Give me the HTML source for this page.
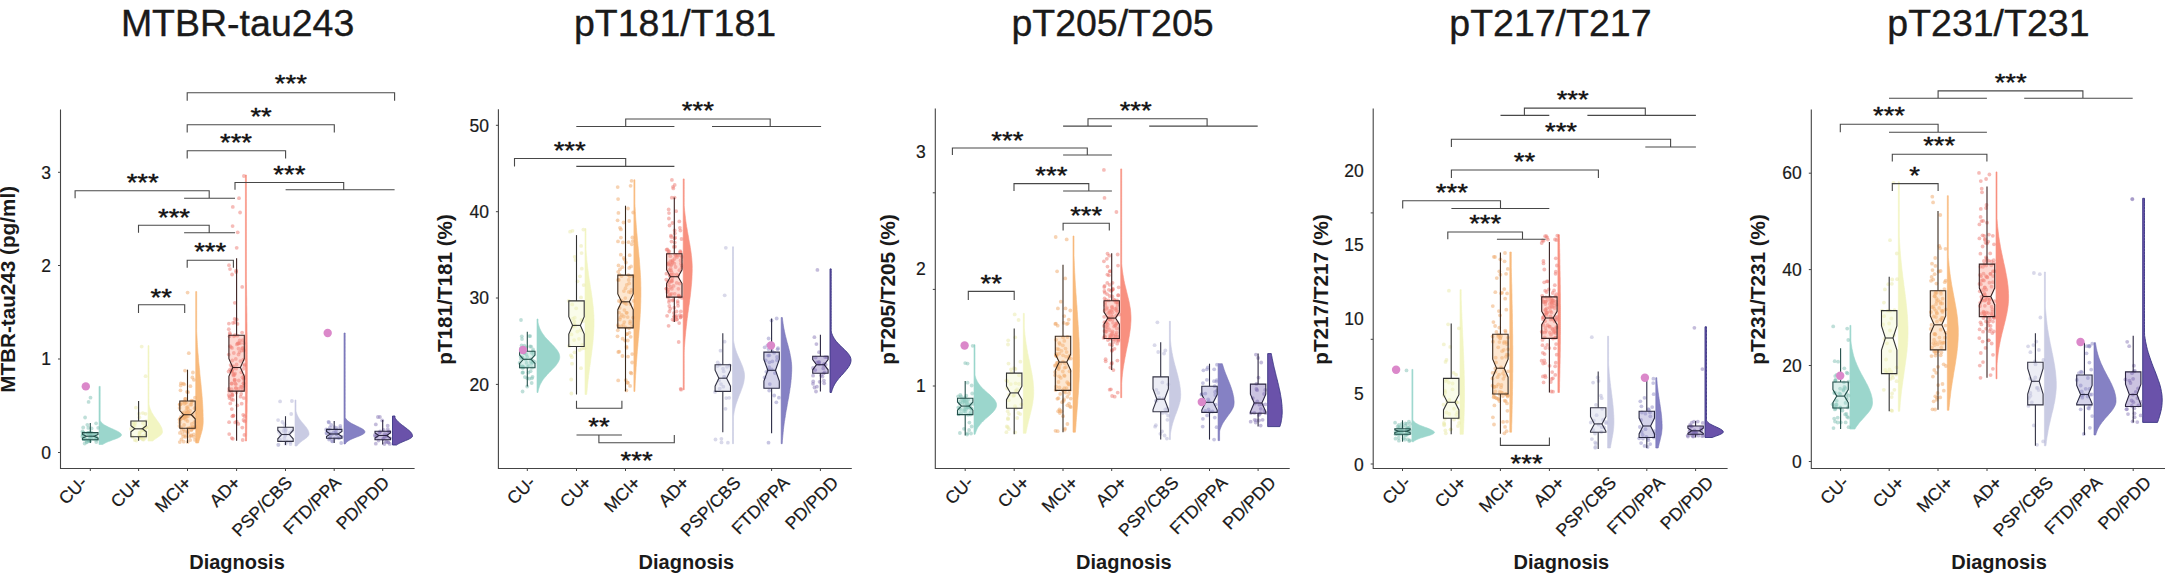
<!DOCTYPE html>
<html><head><meta charset="utf-8"><title>Tau figure</title>
<style>html,body{margin:0;padding:0;background:#fff;} svg{display:block;}</style>
</head><body>
<svg width="2165" height="573" viewBox="0 0 2165 573" font-family='"Liberation Sans", Arial, sans-serif'>
<rect width="2165" height="573" fill="#fff"/>
<text x="237.6" y="36" font-size="37.5" text-anchor="middle" fill="#1a1a1a" stroke="#1a1a1a" stroke-width="0.35">MTBR-tau243</text>
<text transform="translate(15.0,289.4) rotate(-90)" font-size="20.7" font-weight="bold" text-anchor="middle" fill="#1a1a1a">MTBR-tau243 (pg/ml)</text>
<text x="237.0" y="568.7" font-size="20" font-weight="bold" text-anchor="middle" fill="#1a1a1a">Diagnosis</text>
<path d="M60.5,109.4 L60.5,468.5 L414.6,468.5" fill="none" stroke="#444" stroke-width="1.1"/>
<line x1="58.0" y1="452.5" x2="60.5" y2="452.5" stroke="#444" stroke-width="1"/>
<line x1="58.0" y1="359.0" x2="60.5" y2="359.0" stroke="#444" stroke-width="1"/>
<line x1="58.0" y1="265.5" x2="60.5" y2="265.5" stroke="#444" stroke-width="1"/>
<line x1="58.0" y1="172.3" x2="60.5" y2="172.3" stroke="#444" stroke-width="1"/>
<text x="51.0" y="458.7" font-size="17.5" text-anchor="end" fill="#1a1a1a" stroke="#1a1a1a" stroke-width="0.2">0</text>
<text x="51.0" y="365.2" font-size="17.5" text-anchor="end" fill="#1a1a1a" stroke="#1a1a1a" stroke-width="0.2">1</text>
<text x="51.0" y="271.7" font-size="17.5" text-anchor="end" fill="#1a1a1a" stroke="#1a1a1a" stroke-width="0.2">2</text>
<text x="51.0" y="178.5" font-size="17.5" text-anchor="end" fill="#1a1a1a" stroke="#1a1a1a" stroke-width="0.2">3</text>
<line x1="90.3" y1="468.5" x2="90.3" y2="471.0" stroke="#444" stroke-width="1"/>
<text transform="translate(88.2,483.5) rotate(-45)" font-size="17.6" text-anchor="end" fill="#1a1a1a" stroke="#1a1a1a" stroke-width="0.2">CU-</text>
<line x1="138.6" y1="468.5" x2="138.6" y2="471.0" stroke="#444" stroke-width="1"/>
<text transform="translate(143.2,483.6) rotate(-45)" font-size="17.6" text-anchor="end" fill="#1a1a1a" stroke="#1a1a1a" stroke-width="0.2">CU<tspan font-size="18" dx="-0.46" dy="0.6" stroke="#1a1a1a" stroke-width="0.45">+</tspan></text>
<line x1="187.5" y1="468.5" x2="187.5" y2="471.0" stroke="#444" stroke-width="1"/>
<text transform="translate(192.1,483.6) rotate(-45)" font-size="17.6" text-anchor="end" fill="#1a1a1a" stroke="#1a1a1a" stroke-width="0.2">MCI<tspan font-size="18" dx="-0.46" dy="0.6" stroke="#1a1a1a" stroke-width="0.45">+</tspan></text>
<line x1="236.6" y1="468.5" x2="236.6" y2="471.0" stroke="#444" stroke-width="1"/>
<text transform="translate(241.2,483.6) rotate(-45)" font-size="17.6" text-anchor="end" fill="#1a1a1a" stroke="#1a1a1a" stroke-width="0.2">AD<tspan font-size="18" dx="-0.46" dy="0.6" stroke="#1a1a1a" stroke-width="0.45">+</tspan></text>
<line x1="285.5" y1="468.5" x2="285.5" y2="471.0" stroke="#444" stroke-width="1"/>
<text transform="translate(293.3,483.8) rotate(-45)" font-size="17.6" text-anchor="end" fill="#1a1a1a" stroke="#1a1a1a" stroke-width="0.2">PSP/CBS</text>
<line x1="334.2" y1="468.5" x2="334.2" y2="471.0" stroke="#444" stroke-width="1"/>
<text transform="translate(342.0,483.8) rotate(-45)" font-size="17.6" text-anchor="end" fill="#1a1a1a" stroke="#1a1a1a" stroke-width="0.2">FTD/PPA</text>
<line x1="382.7" y1="468.5" x2="382.7" y2="471.0" stroke="#444" stroke-width="1"/>
<text transform="translate(390.5,483.8) rotate(-45)" font-size="17.6" text-anchor="end" fill="#1a1a1a" stroke="#1a1a1a" stroke-width="0.2">PD/PDD</text>
<path d="M99.0,386.4 L100.2,386.4 L100.2,387.1 L100.2,387.9 L100.2,388.6 L100.2,389.3 L100.2,390.0 L100.2,390.8 L100.2,391.5 L100.2,392.2 L100.2,392.9 L100.2,393.7 L100.2,394.4 L100.2,395.1 L100.2,395.8 L100.2,396.6 L100.2,397.3 L100.2,398.0 L100.2,398.7 L100.2,399.5 L100.2,400.2 L100.2,400.9 L100.2,401.7 L100.2,402.4 L100.2,403.1 L100.2,403.8 L100.2,404.6 L100.2,405.3 L100.2,406.0 L100.2,406.7 L100.2,407.5 L100.2,408.2 L100.2,408.9 L100.2,409.6 L100.2,410.4 L100.2,411.1 L100.2,411.8 L100.2,412.5 L100.2,413.3 L100.2,414.0 L100.2,414.7 L100.2,415.4 L100.2,416.2 L100.2,416.9 L100.2,417.6 L100.2,418.4 L100.2,419.1 L100.2,419.8 L100.2,420.5 L100.6,421.3 L101.1,422.0 L101.8,422.7 L102.5,423.4 L103.4,424.2 L104.4,424.9 L105.6,425.6 L106.9,426.3 L108.4,427.1 L109.9,427.8 L111.6,428.5 L113.2,429.2 L114.8,430.0 L116.4,430.7 L117.8,431.4 L119.1,432.2 L120.1,432.9 L120.9,433.6 L121.4,434.3 L121.5,435.1 L121.2,435.8 L120.5,436.5 L119.4,437.2 L117.9,438.0 L116.1,438.7 L114.2,439.4 L112.3,440.1 L110.3,440.9 L108.4,441.6 L106.7,442.3 L105.2,443.0 L103.8,443.8 L102.7,444.5 L99.0,444.5 Z" fill="#9bd6cc" stroke="#9bd6cc" stroke-width="0.6"/>
<g fill="#7fbfb3" fill-opacity="0.5"><circle cx="87.5" cy="387.4" r="1.9"/><circle cx="84.7" cy="443.5" r="1.9"/><circle cx="90.9" cy="432.5" r="1.9"/><circle cx="90.4" cy="436.4" r="1.9"/><circle cx="83.4" cy="434.2" r="1.9"/><circle cx="95.5" cy="434.1" r="1.9"/><circle cx="92.3" cy="433.4" r="1.9"/><circle cx="88.6" cy="401.9" r="1.9"/><circle cx="96.0" cy="439.9" r="1.9"/><circle cx="84.2" cy="436.7" r="1.9"/><circle cx="85.2" cy="439.1" r="1.9"/><circle cx="88.3" cy="427.9" r="1.9"/><circle cx="83.3" cy="432.5" r="1.9"/><circle cx="89.1" cy="435.0" r="1.9"/><circle cx="89.6" cy="438.3" r="1.9"/><circle cx="93.5" cy="439.1" r="1.9"/><circle cx="90.7" cy="434.7" r="1.9"/><circle cx="86.9" cy="441.7" r="1.9"/><circle cx="89.0" cy="440.2" r="1.9"/><circle cx="90.1" cy="440.0" r="1.9"/><circle cx="94.5" cy="435.0" r="1.9"/><circle cx="87.3" cy="424.8" r="1.9"/><circle cx="91.6" cy="428.4" r="1.9"/><circle cx="97.4" cy="439.2" r="1.9"/><circle cx="83.3" cy="438.6" r="1.9"/><circle cx="98.2" cy="427.8" r="1.9"/><circle cx="88.5" cy="440.2" r="1.9"/><circle cx="89.7" cy="432.6" r="1.9"/><circle cx="83.2" cy="433.0" r="1.9"/><circle cx="86.3" cy="439.9" r="1.9"/><circle cx="83.6" cy="439.3" r="1.9"/><circle cx="96.4" cy="438.2" r="1.9"/><circle cx="86.8" cy="442.3" r="1.9"/><circle cx="96.4" cy="437.5" r="1.9"/><circle cx="85.1" cy="417.5" r="1.9"/><circle cx="90.1" cy="433.4" r="1.9"/><circle cx="82.4" cy="431.5" r="1.9"/><circle cx="91.4" cy="437.5" r="1.9"/><circle cx="90.5" cy="397.7" r="1.9"/><circle cx="83.2" cy="427.5" r="1.9"/><circle cx="96.3" cy="442.0" r="1.9"/><circle cx="88.7" cy="440.5" r="1.9"/><circle cx="83.3" cy="434.9" r="1.9"/><circle cx="84.9" cy="433.4" r="1.9"/><circle cx="82.3" cy="436.4" r="1.9"/><circle cx="88.1" cy="433.0" r="1.9"/><circle cx="92.1" cy="435.7" r="1.9"/><circle cx="87.9" cy="433.5" r="1.9"/><circle cx="95.9" cy="436.6" r="1.9"/><circle cx="90.0" cy="441.3" r="1.9"/><circle cx="87.8" cy="433.0" r="1.9"/><circle cx="84.9" cy="439.2" r="1.9"/><circle cx="90.8" cy="436.0" r="1.9"/><circle cx="82.7" cy="434.6" r="1.9"/><circle cx="96.1" cy="423.3" r="1.9"/></g>
<line x1="90.3" y1="423.0" x2="90.3" y2="432.6" stroke="#234f4a" stroke-width="1.1"/>
<line x1="90.3" y1="439.8" x2="90.3" y2="443.0" stroke="#234f4a" stroke-width="1.1"/>
<path d="M82.6,432.6 L98.0,432.6 L98.0,434.4 L94.1,436.2 L98.0,438.0 L98.0,439.8 L82.6,439.8 L82.6,438.0 L86.5,436.2 L82.6,434.4 Z" fill="#9bd6cc" fill-opacity="0.35" stroke="#234f4a" stroke-width="1.1"/>
<line x1="86.5" y1="436.2" x2="94.1" y2="436.2" stroke="#234f4a" stroke-width="1.1"/>
<circle cx="85.8" cy="386.4" r="4.2" fill="#db88ca"/>
<path d="M148.0,345.6 L149.0,345.6 L149.0,346.8 L149.0,348.0 L149.0,349.2 L149.0,350.4 L149.0,351.6 L149.0,352.8 L149.0,353.9 L149.0,355.1 L149.0,356.3 L149.0,357.5 L149.0,358.7 L149.0,359.9 L149.0,361.1 L149.0,362.3 L149.0,363.5 L149.0,364.7 L149.0,365.9 L149.0,367.1 L149.0,368.3 L149.0,369.5 L149.0,370.6 L149.0,371.8 L149.0,373.0 L149.0,374.2 L149.0,375.4 L149.0,376.6 L149.0,377.8 L149.0,379.0 L149.0,380.2 L149.0,381.4 L149.0,382.6 L149.0,383.8 L149.0,385.0 L149.0,386.1 L149.0,387.3 L149.0,388.5 L149.0,389.7 L149.0,390.9 L149.0,392.1 L149.0,393.3 L149.0,394.5 L149.0,395.7 L149.0,396.9 L149.0,398.1 L149.0,399.3 L149.0,400.5 L149.0,401.6 L149.0,402.8 L149.0,404.0 L149.2,405.2 L149.5,406.4 L149.8,407.6 L150.2,408.8 L150.7,410.0 L151.2,411.2 L151.8,412.4 L152.5,413.6 L153.2,414.8 L153.9,416.0 L154.7,417.1 L155.6,418.3 L156.5,419.5 L157.3,420.7 L158.2,421.9 L159.0,423.1 L159.8,424.3 L160.5,425.5 L161.1,426.7 L161.7,427.9 L162.1,429.1 L162.3,430.3 L162.5,431.5 L162.4,432.7 L161.8,433.8 L160.8,435.0 L159.3,436.2 L157.6,437.4 L155.9,438.6 L154.2,439.8 L152.7,441.0 L148.0,441.0 Z" fill="#f2f5c2" stroke="#f2f5c2" stroke-width="0.6"/>
<g fill="#e9e9a8" fill-opacity="0.5"><circle cx="141.7" cy="346.6" r="1.9"/><circle cx="134.8" cy="440.0" r="1.9"/><circle cx="143.0" cy="430.1" r="1.9"/><circle cx="135.9" cy="407.6" r="1.9"/><circle cx="146.4" cy="427.3" r="1.9"/><circle cx="143.7" cy="439.5" r="1.9"/><circle cx="138.9" cy="437.1" r="1.9"/><circle cx="131.0" cy="429.0" r="1.9"/><circle cx="141.7" cy="430.8" r="1.9"/><circle cx="145.6" cy="376.2" r="1.9"/><circle cx="136.4" cy="440.5" r="1.9"/><circle cx="133.7" cy="422.8" r="1.9"/><circle cx="145.0" cy="425.9" r="1.9"/><circle cx="141.0" cy="437.9" r="1.9"/><circle cx="141.2" cy="436.8" r="1.9"/><circle cx="142.6" cy="439.4" r="1.9"/><circle cx="143.2" cy="430.2" r="1.9"/><circle cx="146.1" cy="435.1" r="1.9"/><circle cx="145.7" cy="432.0" r="1.9"/><circle cx="132.6" cy="436.9" r="1.9"/><circle cx="143.5" cy="428.1" r="1.9"/><circle cx="146.3" cy="427.4" r="1.9"/><circle cx="139.4" cy="417.3" r="1.9"/><circle cx="146.1" cy="421.1" r="1.9"/><circle cx="145.5" cy="413.8" r="1.9"/><circle cx="143.8" cy="435.7" r="1.9"/><circle cx="135.3" cy="423.0" r="1.9"/><circle cx="134.7" cy="425.6" r="1.9"/><circle cx="145.2" cy="429.8" r="1.9"/><circle cx="139.9" cy="432.4" r="1.9"/><circle cx="145.3" cy="437.7" r="1.9"/><circle cx="139.0" cy="413.7" r="1.9"/><circle cx="133.5" cy="424.4" r="1.9"/><circle cx="133.4" cy="427.2" r="1.9"/><circle cx="139.5" cy="434.5" r="1.9"/><circle cx="139.5" cy="432.9" r="1.9"/><circle cx="139.6" cy="436.8" r="1.9"/><circle cx="143.0" cy="423.2" r="1.9"/><circle cx="142.8" cy="413.1" r="1.9"/><circle cx="140.4" cy="437.8" r="1.9"/></g>
<line x1="138.6" y1="401.0" x2="138.6" y2="421.0" stroke="#333" stroke-width="1.1"/>
<line x1="138.6" y1="436.7" x2="138.6" y2="440.7" stroke="#333" stroke-width="1.1"/>
<path d="M130.9,421.0 L146.3,421.0 L146.3,425.8 L142.4,428.8 L146.3,431.8 L146.3,436.7 L130.9,436.7 L130.9,431.8 L134.8,428.8 L130.9,425.8 Z" fill="#f2f5c2" fill-opacity="0.35" stroke="#333" stroke-width="1.1"/>
<line x1="134.8" y1="428.8" x2="142.4" y2="428.8" stroke="#333" stroke-width="1.1"/>
<path d="M195.7,291.6 L196.7,291.6 L196.7,293.5 L196.7,295.4 L196.7,297.3 L196.7,299.2 L196.7,301.1 L196.7,303.0 L196.7,304.8 L196.7,306.7 L196.7,308.6 L196.7,310.5 L196.7,312.4 L196.7,314.3 L196.7,316.2 L196.7,318.1 L196.7,320.0 L196.7,321.9 L196.7,323.8 L196.7,325.7 L196.7,327.6 L196.7,329.5 L196.7,331.3 L196.8,333.2 L196.9,335.1 L197.0,337.0 L197.1,338.9 L197.2,340.8 L197.3,342.7 L197.4,344.6 L197.5,346.5 L197.7,348.4 L197.8,350.3 L197.9,352.2 L198.1,354.1 L198.3,355.9 L198.4,357.8 L198.6,359.7 L198.7,361.6 L198.9,363.5 L199.1,365.4 L199.3,367.3 L199.5,369.2 L199.7,371.1 L199.8,373.0 L200.0,374.9 L200.2,376.8 L200.4,378.7 L200.6,380.5 L200.8,382.4 L201.0,384.3 L201.2,386.2 L201.3,388.1 L201.5,390.0 L201.7,391.9 L201.9,393.8 L202.0,395.7 L202.2,397.6 L202.3,399.5 L202.5,401.4 L202.6,403.3 L202.7,405.1 L202.8,407.0 L202.9,408.9 L203.0,410.8 L203.0,412.7 L203.1,414.6 L203.1,416.5 L203.2,418.4 L203.2,420.3 L203.2,422.2 L203.1,424.1 L202.9,426.0 L202.6,427.9 L202.3,429.8 L201.8,431.6 L201.3,433.5 L200.7,435.4 L200.2,437.3 L199.6,439.2 L199.0,441.1 L198.5,443.0 L195.7,443.0 Z" fill="#f8ba7c" stroke="#f8ba7c" stroke-width="0.6"/>
<g fill="#f0a868" fill-opacity="0.5"><circle cx="187.6" cy="292.6" r="1.9"/><circle cx="187.7" cy="442.0" r="1.9"/><circle cx="188.0" cy="392.2" r="1.9"/><circle cx="190.7" cy="427.4" r="1.9"/><circle cx="183.7" cy="441.7" r="1.9"/><circle cx="192.9" cy="372.5" r="1.9"/><circle cx="186.6" cy="402.7" r="1.9"/><circle cx="180.7" cy="404.3" r="1.9"/><circle cx="193.9" cy="379.8" r="1.9"/><circle cx="190.1" cy="410.8" r="1.9"/><circle cx="195.0" cy="413.1" r="1.9"/><circle cx="185.9" cy="414.0" r="1.9"/><circle cx="192.8" cy="428.1" r="1.9"/><circle cx="187.7" cy="406.9" r="1.9"/><circle cx="184.6" cy="417.3" r="1.9"/><circle cx="188.4" cy="428.2" r="1.9"/><circle cx="184.8" cy="414.9" r="1.9"/><circle cx="180.5" cy="390.3" r="1.9"/><circle cx="195.0" cy="439.9" r="1.9"/><circle cx="180.1" cy="404.6" r="1.9"/><circle cx="181.6" cy="430.0" r="1.9"/><circle cx="192.6" cy="427.0" r="1.9"/><circle cx="194.2" cy="416.7" r="1.9"/><circle cx="180.9" cy="383.3" r="1.9"/><circle cx="186.3" cy="410.4" r="1.9"/><circle cx="189.7" cy="413.9" r="1.9"/><circle cx="193.2" cy="428.5" r="1.9"/><circle cx="186.8" cy="412.8" r="1.9"/><circle cx="194.3" cy="422.2" r="1.9"/><circle cx="187.9" cy="416.4" r="1.9"/><circle cx="182.1" cy="402.5" r="1.9"/><circle cx="184.5" cy="403.8" r="1.9"/><circle cx="184.1" cy="425.0" r="1.9"/><circle cx="185.1" cy="399.0" r="1.9"/><circle cx="179.7" cy="404.4" r="1.9"/><circle cx="182.5" cy="433.9" r="1.9"/><circle cx="181.2" cy="427.3" r="1.9"/><circle cx="187.4" cy="432.1" r="1.9"/><circle cx="187.6" cy="431.5" r="1.9"/><circle cx="185.0" cy="370.6" r="1.9"/><circle cx="189.7" cy="436.7" r="1.9"/><circle cx="180.4" cy="419.4" r="1.9"/><circle cx="191.4" cy="402.0" r="1.9"/><circle cx="180.9" cy="416.9" r="1.9"/><circle cx="190.2" cy="440.1" r="1.9"/><circle cx="184.2" cy="418.0" r="1.9"/><circle cx="186.6" cy="416.8" r="1.9"/><circle cx="195.1" cy="427.7" r="1.9"/><circle cx="195.0" cy="397.7" r="1.9"/><circle cx="179.5" cy="419.5" r="1.9"/><circle cx="187.5" cy="421.1" r="1.9"/><circle cx="179.6" cy="407.9" r="1.9"/><circle cx="185.9" cy="415.9" r="1.9"/><circle cx="184.4" cy="401.3" r="1.9"/><circle cx="188.0" cy="409.0" r="1.9"/><circle cx="191.0" cy="435.8" r="1.9"/><circle cx="184.7" cy="431.5" r="1.9"/><circle cx="191.1" cy="430.4" r="1.9"/><circle cx="192.9" cy="400.8" r="1.9"/><circle cx="191.2" cy="435.2" r="1.9"/><circle cx="187.9" cy="428.8" r="1.9"/><circle cx="192.4" cy="377.5" r="1.9"/><circle cx="193.8" cy="434.5" r="1.9"/><circle cx="183.2" cy="383.6" r="1.9"/><circle cx="185.3" cy="402.8" r="1.9"/><circle cx="188.4" cy="412.5" r="1.9"/><circle cx="190.4" cy="386.2" r="1.9"/><circle cx="192.3" cy="414.7" r="1.9"/><circle cx="188.1" cy="433.1" r="1.9"/><circle cx="191.3" cy="400.6" r="1.9"/><circle cx="183.7" cy="415.7" r="1.9"/><circle cx="191.3" cy="429.4" r="1.9"/><circle cx="185.6" cy="435.5" r="1.9"/><circle cx="191.8" cy="423.9" r="1.9"/><circle cx="180.7" cy="385.6" r="1.9"/><circle cx="191.4" cy="404.5" r="1.9"/><circle cx="179.7" cy="422.4" r="1.9"/><circle cx="190.3" cy="404.7" r="1.9"/><circle cx="184.2" cy="384.3" r="1.9"/><circle cx="187.0" cy="391.8" r="1.9"/><circle cx="182.7" cy="413.2" r="1.9"/><circle cx="179.8" cy="442.1" r="1.9"/><circle cx="195.0" cy="425.8" r="1.9"/><circle cx="182.9" cy="418.3" r="1.9"/><circle cx="188.8" cy="353.2" r="1.9"/><circle cx="194.7" cy="408.2" r="1.9"/><circle cx="187.6" cy="412.2" r="1.9"/><circle cx="183.2" cy="436.6" r="1.9"/><circle cx="179.9" cy="432.9" r="1.9"/><circle cx="186.7" cy="407.7" r="1.9"/><circle cx="185.0" cy="416.6" r="1.9"/><circle cx="179.5" cy="426.0" r="1.9"/><circle cx="181.4" cy="439.4" r="1.9"/><circle cx="193.9" cy="436.8" r="1.9"/><circle cx="185.8" cy="419.7" r="1.9"/><circle cx="185.3" cy="436.9" r="1.9"/><circle cx="180.3" cy="418.4" r="1.9"/><circle cx="184.1" cy="412.4" r="1.9"/><circle cx="183.8" cy="429.8" r="1.9"/><circle cx="185.5" cy="398.8" r="1.9"/></g>
<line x1="187.5" y1="369.7" x2="187.5" y2="401.0" stroke="#3a2a1e" stroke-width="1.1"/>
<line x1="187.5" y1="428.2" x2="187.5" y2="443.0" stroke="#3a2a1e" stroke-width="1.1"/>
<path d="M179.8,401.0 L195.2,401.0 L195.2,410.6 L191.3,414.7 L195.2,418.8 L195.2,428.2 L179.8,428.2 L179.8,418.8 L183.7,414.7 L179.8,410.6 Z" fill="#f8ba7c" fill-opacity="0.35" stroke="#3a2a1e" stroke-width="1.1"/>
<line x1="183.7" y1="414.7" x2="191.3" y2="414.7" stroke="#3a2a1e" stroke-width="1.1"/>
<path d="M245.4,175.0 L246.4,175.0 L246.4,178.3 L246.4,181.7 L246.4,185.0 L246.4,188.3 L246.4,191.6 L246.4,194.9 L246.4,198.3 L246.4,201.6 L246.4,204.9 L246.4,208.2 L246.4,211.6 L246.4,214.9 L246.4,218.2 L246.4,221.6 L246.4,224.9 L246.4,228.2 L246.4,231.5 L246.4,234.8 L246.4,238.2 L246.4,241.5 L246.4,244.8 L246.4,248.2 L246.4,251.5 L246.4,254.8 L246.4,258.1 L246.4,261.4 L246.4,264.8 L246.4,268.1 L246.4,271.4 L246.4,274.8 L246.4,278.1 L246.4,281.4 L246.5,284.7 L246.5,288.1 L246.6,291.4 L246.6,294.7 L246.7,298.0 L246.7,301.4 L246.7,304.7 L246.8,308.0 L246.8,311.3 L246.9,314.6 L246.9,318.0 L246.9,321.3 L247.0,324.6 L247.0,327.9 L247.0,331.3 L247.1,334.6 L247.1,337.9 L247.1,341.2 L247.2,344.6 L247.2,347.9 L247.2,351.2 L247.2,354.6 L247.2,357.9 L247.3,361.2 L247.3,364.5 L247.3,367.9 L247.3,371.2 L247.3,374.5 L247.3,377.8 L247.3,381.1 L247.3,384.5 L247.3,387.8 L247.3,391.1 L247.2,394.4 L247.2,397.8 L247.2,401.1 L247.1,404.4 L247.1,407.8 L247.1,411.1 L247.0,414.4 L247.0,417.7 L246.9,421.1 L246.8,424.4 L246.8,427.7 L246.7,431.0 L246.7,434.4 L246.6,437.7 L246.5,441.0 L245.4,441.0 Z" fill="#f8907f" stroke="#f8907f" stroke-width="0.6"/>
<g fill="#ee7a72" fill-opacity="0.5"><circle cx="243.9" cy="176.0" r="1.9"/><circle cx="242.7" cy="440.0" r="1.9"/><circle cx="243.2" cy="414.8" r="1.9"/><circle cx="240.1" cy="212.5" r="1.9"/><circle cx="235.8" cy="358.9" r="1.9"/><circle cx="233.2" cy="415.7" r="1.9"/><circle cx="230.6" cy="365.1" r="1.9"/><circle cx="233.4" cy="375.6" r="1.9"/><circle cx="232.8" cy="438.8" r="1.9"/><circle cx="237.5" cy="323.9" r="1.9"/><circle cx="231.2" cy="371.4" r="1.9"/><circle cx="236.6" cy="364.5" r="1.9"/><circle cx="244.5" cy="364.5" r="1.9"/><circle cx="231.7" cy="370.8" r="1.9"/><circle cx="230.1" cy="346.2" r="1.9"/><circle cx="237.7" cy="343.5" r="1.9"/><circle cx="235.2" cy="422.4" r="1.9"/><circle cx="234.6" cy="379.9" r="1.9"/><circle cx="233.0" cy="369.0" r="1.9"/><circle cx="236.7" cy="247.8" r="1.9"/><circle cx="232.1" cy="274.5" r="1.9"/><circle cx="235.0" cy="373.4" r="1.9"/><circle cx="242.2" cy="390.0" r="1.9"/><circle cx="229.1" cy="391.2" r="1.9"/><circle cx="236.2" cy="270.7" r="1.9"/><circle cx="234.9" cy="335.2" r="1.9"/><circle cx="242.3" cy="427.6" r="1.9"/><circle cx="230.3" cy="403.4" r="1.9"/><circle cx="239.5" cy="352.1" r="1.9"/><circle cx="239.0" cy="198.2" r="1.9"/><circle cx="237.4" cy="405.3" r="1.9"/><circle cx="232.3" cy="360.5" r="1.9"/><circle cx="233.5" cy="415.7" r="1.9"/><circle cx="238.8" cy="343.3" r="1.9"/><circle cx="229.7" cy="332.9" r="1.9"/><circle cx="234.8" cy="302.8" r="1.9"/><circle cx="228.8" cy="354.6" r="1.9"/><circle cx="243.9" cy="378.4" r="1.9"/><circle cx="236.2" cy="272.1" r="1.9"/><circle cx="244.0" cy="343.2" r="1.9"/><circle cx="228.9" cy="323.6" r="1.9"/><circle cx="235.3" cy="383.4" r="1.9"/><circle cx="243.4" cy="383.2" r="1.9"/><circle cx="234.0" cy="336.3" r="1.9"/><circle cx="231.8" cy="383.6" r="1.9"/><circle cx="236.7" cy="421.7" r="1.9"/><circle cx="233.6" cy="366.5" r="1.9"/><circle cx="232.1" cy="395.8" r="1.9"/><circle cx="243.8" cy="398.1" r="1.9"/><circle cx="232.2" cy="371.9" r="1.9"/><circle cx="243.8" cy="383.2" r="1.9"/><circle cx="232.0" cy="347.9" r="1.9"/><circle cx="229.4" cy="398.1" r="1.9"/><circle cx="243.0" cy="347.9" r="1.9"/><circle cx="244.6" cy="421.3" r="1.9"/><circle cx="231.6" cy="399.5" r="1.9"/><circle cx="229.1" cy="422.2" r="1.9"/><circle cx="234.6" cy="318.9" r="1.9"/><circle cx="228.6" cy="371.5" r="1.9"/><circle cx="243.9" cy="375.8" r="1.9"/><circle cx="231.9" cy="366.3" r="1.9"/><circle cx="241.8" cy="386.9" r="1.9"/><circle cx="236.2" cy="368.7" r="1.9"/><circle cx="231.7" cy="389.2" r="1.9"/><circle cx="229.1" cy="388.7" r="1.9"/><circle cx="240.9" cy="386.7" r="1.9"/><circle cx="229.6" cy="336.3" r="1.9"/><circle cx="240.6" cy="396.7" r="1.9"/><circle cx="233.0" cy="399.9" r="1.9"/><circle cx="232.8" cy="206.9" r="1.9"/><circle cx="233.0" cy="323.0" r="1.9"/><circle cx="243.3" cy="359.6" r="1.9"/><circle cx="229.0" cy="265.2" r="1.9"/><circle cx="243.9" cy="350.5" r="1.9"/><circle cx="232.6" cy="226.1" r="1.9"/><circle cx="243.4" cy="379.1" r="1.9"/><circle cx="240.4" cy="361.1" r="1.9"/><circle cx="238.3" cy="423.9" r="1.9"/><circle cx="234.4" cy="375.0" r="1.9"/><circle cx="231.8" cy="392.0" r="1.9"/><circle cx="229.6" cy="396.4" r="1.9"/><circle cx="233.8" cy="353.0" r="1.9"/><circle cx="244.4" cy="434.9" r="1.9"/><circle cx="230.1" cy="369.5" r="1.9"/><circle cx="235.8" cy="384.3" r="1.9"/><circle cx="238.5" cy="348.7" r="1.9"/><circle cx="242.2" cy="286.9" r="1.9"/><circle cx="242.1" cy="332.6" r="1.9"/><circle cx="234.6" cy="380.9" r="1.9"/><circle cx="232.6" cy="394.9" r="1.9"/><circle cx="242.7" cy="340.2" r="1.9"/><circle cx="234.9" cy="322.4" r="1.9"/><circle cx="232.3" cy="416.3" r="1.9"/><circle cx="244.5" cy="416.2" r="1.9"/><circle cx="241.7" cy="350.5" r="1.9"/><circle cx="229.2" cy="434.1" r="1.9"/><circle cx="231.6" cy="370.3" r="1.9"/><circle cx="243.5" cy="420.0" r="1.9"/><circle cx="235.8" cy="387.9" r="1.9"/><circle cx="243.7" cy="385.9" r="1.9"/><circle cx="238.5" cy="354.5" r="1.9"/><circle cx="230.9" cy="347.1" r="1.9"/><circle cx="238.2" cy="343.4" r="1.9"/><circle cx="228.8" cy="329.2" r="1.9"/><circle cx="231.6" cy="383.5" r="1.9"/><circle cx="241.3" cy="372.3" r="1.9"/><circle cx="230.2" cy="334.3" r="1.9"/><circle cx="238.8" cy="380.5" r="1.9"/><circle cx="239.7" cy="340.5" r="1.9"/><circle cx="233.5" cy="374.2" r="1.9"/><circle cx="237.7" cy="232.3" r="1.9"/><circle cx="242.4" cy="377.3" r="1.9"/><circle cx="231.8" cy="409.1" r="1.9"/><circle cx="228.7" cy="395.0" r="1.9"/><circle cx="241.7" cy="403.7" r="1.9"/><circle cx="236.0" cy="388.3" r="1.9"/><circle cx="237.4" cy="335.7" r="1.9"/><circle cx="230.0" cy="269.1" r="1.9"/><circle cx="236.7" cy="319.5" r="1.9"/><circle cx="236.9" cy="344.4" r="1.9"/><circle cx="236.4" cy="392.5" r="1.9"/><circle cx="231.8" cy="438.1" r="1.9"/><circle cx="244.2" cy="365.7" r="1.9"/><circle cx="243.4" cy="368.8" r="1.9"/><circle cx="238.5" cy="388.8" r="1.9"/><circle cx="241.2" cy="393.8" r="1.9"/><circle cx="242.1" cy="348.3" r="1.9"/><circle cx="232.1" cy="394.4" r="1.9"/><circle cx="234.7" cy="379.7" r="1.9"/><circle cx="240.2" cy="343.2" r="1.9"/></g>
<line x1="236.6" y1="258.3" x2="236.6" y2="335.2" stroke="#3a2020" stroke-width="1.1"/>
<line x1="236.6" y1="391.1" x2="236.6" y2="440.7" stroke="#3a2020" stroke-width="1.1"/>
<path d="M228.9,335.2 L244.3,335.2 L244.3,358.6 L240.4,367.5 L244.3,376.4 L244.3,391.1 L228.9,391.1 L228.9,376.4 L232.8,367.5 L228.9,358.6 Z" fill="#f8907f" fill-opacity="0.35" stroke="#3a2020" stroke-width="1.1"/>
<line x1="232.8" y1="367.5" x2="240.4" y2="367.5" stroke="#3a2020" stroke-width="1.1"/>
<path d="M295.0,400.0 L296.0,400.0 L296.0,400.6 L296.0,401.1 L296.0,401.7 L296.0,402.3 L296.0,402.9 L296.0,403.4 L296.0,404.0 L296.0,404.6 L296.0,405.2 L296.0,405.8 L296.0,406.3 L296.0,406.9 L296.0,407.5 L296.0,408.1 L296.0,408.6 L296.0,409.2 L296.0,409.8 L296.0,410.4 L296.0,410.9 L296.1,411.5 L296.3,412.1 L296.4,412.6 L296.6,413.2 L296.8,413.8 L297.0,414.4 L297.3,414.9 L297.5,415.5 L297.8,416.1 L298.1,416.7 L298.4,417.2 L298.8,417.8 L299.1,418.4 L299.5,419.0 L299.9,419.6 L300.3,420.1 L300.8,420.7 L301.2,421.3 L301.7,421.9 L302.2,422.4 L302.6,423.0 L303.1,423.6 L303.6,424.1 L304.1,424.7 L304.6,425.3 L305.1,425.9 L305.5,426.4 L306.0,427.0 L306.4,427.6 L306.8,428.2 L307.2,428.8 L307.6,429.3 L307.9,429.9 L308.2,430.5 L308.4,431.1 L308.6,431.6 L308.8,432.2 L308.9,432.8 L309.0,433.4 L309.0,433.9 L309.0,434.5 L308.8,435.1 L308.5,435.6 L308.1,436.2 L307.6,436.8 L307.0,437.4 L306.3,437.9 L305.5,438.5 L304.8,439.1 L304.0,439.7 L303.1,440.2 L302.3,440.8 L301.5,441.4 L300.8,442.0 L300.1,442.6 L299.4,443.1 L298.8,443.7 L298.2,444.3 L297.7,444.9 L297.3,445.4 L296.9,446.0 L295.0,446.0 Z" fill="#c9cbe3" stroke="#c9cbe3" stroke-width="0.6"/>
<g fill="#b4b4d6" fill-opacity="0.5"><circle cx="291.9" cy="401.0" r="1.9"/><circle cx="278.2" cy="445.0" r="1.9"/><circle cx="278.1" cy="420.1" r="1.9"/><circle cx="287.1" cy="441.5" r="1.9"/><circle cx="282.4" cy="422.0" r="1.9"/><circle cx="284.3" cy="438.5" r="1.9"/><circle cx="284.5" cy="424.2" r="1.9"/><circle cx="285.3" cy="431.7" r="1.9"/><circle cx="290.0" cy="432.8" r="1.9"/><circle cx="285.1" cy="435.7" r="1.9"/><circle cx="284.4" cy="428.1" r="1.9"/><circle cx="285.7" cy="430.4" r="1.9"/><circle cx="278.8" cy="431.8" r="1.9"/><circle cx="285.7" cy="443.8" r="1.9"/><circle cx="283.5" cy="430.9" r="1.9"/><circle cx="291.2" cy="414.0" r="1.9"/><circle cx="290.5" cy="444.0" r="1.9"/><circle cx="285.4" cy="434.4" r="1.9"/><circle cx="280.1" cy="401.4" r="1.9"/><circle cx="278.5" cy="444.6" r="1.9"/><circle cx="280.0" cy="439.7" r="1.9"/><circle cx="290.6" cy="441.9" r="1.9"/><circle cx="292.2" cy="430.9" r="1.9"/><circle cx="285.6" cy="429.1" r="1.9"/><circle cx="280.4" cy="434.8" r="1.9"/></g>
<line x1="285.5" y1="416.2" x2="285.5" y2="427.2" stroke="#333344" stroke-width="1.1"/>
<line x1="285.5" y1="441.4" x2="285.5" y2="445.0" stroke="#333344" stroke-width="1.1"/>
<path d="M277.8,427.2 L293.2,427.2 L293.2,430.2 L289.4,434.5 L293.2,438.8 L293.2,441.4 L277.8,441.4 L277.8,438.8 L281.6,434.5 L277.8,430.2 Z" fill="#c9cbe3" fill-opacity="0.35" stroke="#333344" stroke-width="1.1"/>
<line x1="281.6" y1="434.5" x2="289.4" y2="434.5" stroke="#333344" stroke-width="1.1"/>
<path d="M344.0,333.0 L345.2,333.0 L345.2,334.4 L345.2,335.8 L345.2,337.2 L345.2,338.6 L345.2,339.9 L345.2,341.3 L345.2,342.7 L345.2,344.1 L345.2,345.5 L345.2,346.9 L345.2,348.3 L345.2,349.6 L345.2,351.0 L345.2,352.4 L345.2,353.8 L345.2,355.2 L345.2,356.6 L345.2,358.0 L345.2,359.4 L345.2,360.8 L345.2,362.1 L345.2,363.5 L345.2,364.9 L345.2,366.3 L345.2,367.7 L345.2,369.1 L345.2,370.5 L345.2,371.9 L345.2,373.2 L345.2,374.6 L345.2,376.0 L345.2,377.4 L345.2,378.8 L345.2,380.2 L345.2,381.6 L345.2,382.9 L345.2,384.3 L345.2,385.7 L345.2,387.1 L345.2,388.5 L345.2,389.9 L345.2,391.3 L345.2,392.7 L345.2,394.1 L345.2,395.4 L345.2,396.8 L345.2,398.2 L345.2,399.6 L345.2,401.0 L345.2,402.4 L345.2,403.8 L345.2,405.1 L345.2,406.5 L345.2,407.9 L345.2,409.3 L345.2,410.7 L345.2,412.1 L345.2,413.5 L345.2,414.9 L345.2,416.2 L345.2,417.6 L346.0,419.0 L347.3,420.4 L349.0,421.8 L351.1,423.2 L353.8,424.6 L356.7,426.0 L359.6,427.4 L362.1,428.7 L364.0,430.1 L364.9,431.5 L364.7,432.9 L362.9,434.3 L360.0,435.7 L356.6,437.1 L353.1,438.4 L350.1,439.8 L347.8,441.2 L346.2,442.6 L345.2,444.0 L344.0,444.0 Z" fill="#8581c4" stroke="#7470b4" stroke-width="0.6"/>
<g fill="#8f8cc6" fill-opacity="0.5"><circle cx="328.8" cy="334.0" r="1.9"/><circle cx="341.2" cy="443.0" r="1.9"/><circle cx="328.9" cy="422.4" r="1.9"/><circle cx="334.7" cy="438.4" r="1.9"/><circle cx="340.2" cy="427.8" r="1.9"/><circle cx="340.3" cy="425.9" r="1.9"/><circle cx="336.3" cy="434.0" r="1.9"/><circle cx="330.4" cy="437.4" r="1.9"/><circle cx="332.0" cy="441.0" r="1.9"/><circle cx="329.0" cy="439.5" r="1.9"/><circle cx="339.3" cy="438.2" r="1.9"/><circle cx="341.9" cy="436.7" r="1.9"/><circle cx="331.2" cy="425.0" r="1.9"/><circle cx="328.6" cy="429.6" r="1.9"/><circle cx="334.4" cy="427.2" r="1.9"/><circle cx="329.8" cy="438.4" r="1.9"/><circle cx="326.2" cy="429.4" r="1.9"/><circle cx="331.9" cy="434.4" r="1.9"/><circle cx="335.6" cy="432.1" r="1.9"/><circle cx="333.8" cy="432.3" r="1.9"/><circle cx="330.1" cy="433.7" r="1.9"/><circle cx="336.4" cy="429.8" r="1.9"/><circle cx="332.6" cy="441.4" r="1.9"/><circle cx="336.5" cy="434.0" r="1.9"/><circle cx="336.5" cy="427.8" r="1.9"/><circle cx="337.9" cy="437.9" r="1.9"/><circle cx="326.9" cy="433.6" r="1.9"/><circle cx="330.0" cy="427.4" r="1.9"/><circle cx="326.4" cy="433.0" r="1.9"/><circle cx="328.5" cy="421.8" r="1.9"/></g>
<line x1="334.2" y1="421.0" x2="334.2" y2="429.4" stroke="#2a2a44" stroke-width="1.1"/>
<line x1="334.2" y1="438.2" x2="334.2" y2="443.0" stroke="#2a2a44" stroke-width="1.1"/>
<path d="M326.5,429.4 L341.9,429.4 L341.9,431.4 L338.1,434.0 L341.9,436.6 L341.9,438.2 L326.5,438.2 L326.5,436.6 L330.3,434.0 L326.5,431.4 Z" fill="#8581c4" fill-opacity="0.35" stroke="#2a2a44" stroke-width="1.1"/>
<line x1="330.3" y1="434.0" x2="338.1" y2="434.0" stroke="#2a2a44" stroke-width="1.1"/>
<circle cx="327.7" cy="333.0" r="4.2" fill="#db88ca"/>
<path d="M392.5,416.0 L395.0,416.0 L395.0,416.4 L395.0,416.7 L395.0,417.1 L395.0,417.4 L395.1,417.8 L395.3,418.2 L395.5,418.5 L395.8,418.9 L396.0,419.3 L396.3,419.6 L396.6,420.0 L396.9,420.4 L397.2,420.7 L397.6,421.1 L397.9,421.4 L398.3,421.8 L398.6,422.2 L399.0,422.5 L399.4,422.9 L399.8,423.2 L400.3,423.6 L400.7,424.0 L401.1,424.3 L401.6,424.7 L402.1,425.1 L402.5,425.4 L403.0,425.8 L403.5,426.1 L404.0,426.5 L404.5,426.9 L405.0,427.2 L405.4,427.6 L405.9,428.0 L406.4,428.3 L406.9,428.7 L407.3,429.1 L407.8,429.4 L408.2,429.8 L408.7,430.1 L409.1,430.5 L409.5,430.9 L409.9,431.2 L410.2,431.6 L410.6,431.9 L410.9,432.3 L411.2,432.7 L411.4,433.0 L411.7,433.4 L411.9,433.8 L412.1,434.1 L412.2,434.5 L412.3,434.9 L412.4,435.2 L412.5,435.6 L412.5,435.9 L412.5,436.3 L412.3,436.7 L412.1,437.0 L411.7,437.4 L411.3,437.8 L410.8,438.1 L410.2,438.5 L409.5,438.8 L408.8,439.2 L408.0,439.6 L407.2,439.9 L406.3,440.3 L405.5,440.6 L404.6,441.0 L403.7,441.4 L402.9,441.7 L402.0,442.1 L401.2,442.5 L400.4,442.8 L399.6,443.2 L398.9,443.6 L398.2,443.9 L397.6,444.3 L397.0,444.6 L396.5,445.0 L392.5,445.0 Z" fill="#6a52aa" stroke="#3a3683" stroke-width="0.9"/>
<g fill="#8a7ab8" fill-opacity="0.5"><circle cx="377.9" cy="417.0" r="1.9"/><circle cx="384.4" cy="444.0" r="1.9"/><circle cx="387.7" cy="425.7" r="1.9"/><circle cx="379.5" cy="432.6" r="1.9"/><circle cx="387.2" cy="435.0" r="1.9"/><circle cx="388.2" cy="431.3" r="1.9"/><circle cx="386.6" cy="441.2" r="1.9"/><circle cx="376.4" cy="436.5" r="1.9"/><circle cx="380.1" cy="431.5" r="1.9"/><circle cx="388.2" cy="442.4" r="1.9"/><circle cx="383.6" cy="429.9" r="1.9"/><circle cx="383.1" cy="438.9" r="1.9"/><circle cx="390.1" cy="438.3" r="1.9"/><circle cx="374.9" cy="435.0" r="1.9"/><circle cx="386.6" cy="436.5" r="1.9"/><circle cx="379.9" cy="417.0" r="1.9"/><circle cx="378.5" cy="440.6" r="1.9"/><circle cx="385.8" cy="442.0" r="1.9"/><circle cx="382.2" cy="420.4" r="1.9"/><circle cx="388.4" cy="442.4" r="1.9"/><circle cx="383.8" cy="438.6" r="1.9"/><circle cx="384.7" cy="436.4" r="1.9"/><circle cx="377.0" cy="435.1" r="1.9"/><circle cx="389.6" cy="431.7" r="1.9"/><circle cx="375.2" cy="436.1" r="1.9"/><circle cx="384.8" cy="434.2" r="1.9"/><circle cx="375.8" cy="424.4" r="1.9"/><circle cx="387.8" cy="429.1" r="1.9"/><circle cx="375.8" cy="443.7" r="1.9"/><circle cx="389.8" cy="443.9" r="1.9"/></g>
<line x1="382.7" y1="420.0" x2="382.7" y2="431.3" stroke="#2a2440" stroke-width="1.1"/>
<line x1="382.7" y1="439.8" x2="382.7" y2="444.5" stroke="#2a2440" stroke-width="1.1"/>
<path d="M375.0,431.3 L390.4,431.3 L390.4,432.9 L386.6,435.5 L390.4,438.1 L390.4,439.8 L375.0,439.8 L375.0,438.1 L378.8,435.5 L375.0,432.9 Z" fill="#6a52aa" fill-opacity="0.35" stroke="#2a2440" stroke-width="1.1"/>
<line x1="378.8" y1="435.5" x2="386.6" y2="435.5" stroke="#2a2440" stroke-width="1.1"/>
<path d="M187.2,100.8 L187.2,92.7 L394.6,92.7 L394.6,100.8" fill="none" stroke="#484848" stroke-width="1.1"/>
<text transform="translate(290.9,79.6) scale(1,0.85)" x="0" y="15.0" font-size="27.5" stroke="#111" stroke-width="0.45" text-anchor="middle" fill="#111">***</text>
<path d="M187.2,132.4 L187.2,124.7 L334.3,124.7 L334.3,132.4" fill="none" stroke="#484848" stroke-width="1.1"/>
<text transform="translate(261.1,111.8) scale(1,0.85)" x="0" y="15.0" font-size="27.5" stroke="#111" stroke-width="0.45" text-anchor="middle" fill="#111">**</text>
<path d="M187.2,158.4 L187.2,150.8 L285.6,150.8 L285.6,158.4" fill="none" stroke="#484848" stroke-width="1.1"/>
<text transform="translate(236.0,137.9) scale(1,0.85)" x="0" y="15.0" font-size="27.5" stroke="#111" stroke-width="0.45" text-anchor="middle" fill="#111">***</text>
<path d="M235.0,189.8 L235.0,182.5 L343.7,182.5 L343.7,189.8 M285.6,189.8 L394.6,189.8" fill="none" stroke="#484848" stroke-width="1.1"/>
<text transform="translate(289.3,170.0) scale(1,0.85)" x="0" y="15.0" font-size="27.5" stroke="#111" stroke-width="0.45" text-anchor="middle" fill="#111">***</text>
<path d="M75.1,198.2 L75.1,190.7 L209.2,190.7 L209.2,198.2 M184.1,198.2 L235.0,198.2" fill="none" stroke="#484848" stroke-width="1.1"/>
<text transform="translate(142.7,178.4) scale(1,0.85)" x="0" y="15.0" font-size="27.5" stroke="#111" stroke-width="0.45" text-anchor="middle" fill="#111">***</text>
<path d="M138.5,232.8 L138.5,225.3 L209.2,225.3 L209.2,232.8 M184.1,232.8 L235.0,232.8" fill="none" stroke="#484848" stroke-width="1.1"/>
<text transform="translate(174.0,213.0) scale(1,0.85)" x="0" y="15.0" font-size="27.5" stroke="#111" stroke-width="0.45" text-anchor="middle" fill="#111">***</text>
<path d="M187.2,267.8 L187.2,260.2 L233.4,260.2 L233.4,267.8" fill="none" stroke="#484848" stroke-width="1.1"/>
<text transform="translate(210.2,247.6) scale(1,0.85)" x="0" y="15.0" font-size="27.5" stroke="#111" stroke-width="0.45" text-anchor="middle" fill="#111">***</text>
<path d="M138.5,313.0 L138.5,304.8 L184.7,304.8 L184.7,313.0" fill="none" stroke="#484848" stroke-width="1.1"/>
<text transform="translate(161.2,292.9) scale(1,0.85)" x="0" y="15.0" font-size="27.5" stroke="#111" stroke-width="0.45" text-anchor="middle" fill="#111">**</text>
<text x="675.1" y="36" font-size="37.5" text-anchor="middle" fill="#1a1a1a" stroke="#1a1a1a" stroke-width="0.35">pT181/T181</text>
<text transform="translate(452.3,289.4) rotate(-90)" font-size="20.7" font-weight="bold" text-anchor="middle" fill="#1a1a1a">pT181/T181 (%)</text>
<text x="686.4" y="568.7" font-size="20" font-weight="bold" text-anchor="middle" fill="#1a1a1a">Diagnosis</text>
<path d="M498.4,109.2 L498.4,468.5 L851.8,468.5" fill="none" stroke="#444" stroke-width="1.1"/>
<line x1="495.9" y1="384.4" x2="498.4" y2="384.4" stroke="#444" stroke-width="1"/>
<line x1="495.9" y1="298.0" x2="498.4" y2="298.0" stroke="#444" stroke-width="1"/>
<line x1="495.9" y1="211.7" x2="498.4" y2="211.7" stroke="#444" stroke-width="1"/>
<line x1="495.9" y1="125.3" x2="498.4" y2="125.3" stroke="#444" stroke-width="1"/>
<text x="488.9" y="390.6" font-size="17.5" text-anchor="end" fill="#1a1a1a" stroke="#1a1a1a" stroke-width="0.2">20</text>
<text x="488.9" y="304.2" font-size="17.5" text-anchor="end" fill="#1a1a1a" stroke="#1a1a1a" stroke-width="0.2">30</text>
<text x="488.9" y="217.9" font-size="17.5" text-anchor="end" fill="#1a1a1a" stroke="#1a1a1a" stroke-width="0.2">40</text>
<text x="488.9" y="131.5" font-size="17.5" text-anchor="end" fill="#1a1a1a" stroke="#1a1a1a" stroke-width="0.2">50</text>
<line x1="527.3" y1="468.5" x2="527.3" y2="471.0" stroke="#444" stroke-width="1"/>
<text transform="translate(536.4,483.5) rotate(-45)" font-size="17.6" text-anchor="end" fill="#1a1a1a" stroke="#1a1a1a" stroke-width="0.2">CU-</text>
<line x1="576.5" y1="468.5" x2="576.5" y2="471.0" stroke="#444" stroke-width="1"/>
<text transform="translate(592.3,483.6) rotate(-45)" font-size="17.6" text-anchor="end" fill="#1a1a1a" stroke="#1a1a1a" stroke-width="0.2">CU<tspan font-size="18" dx="-0.46" dy="0.6" stroke="#1a1a1a" stroke-width="0.45">+</tspan></text>
<line x1="625.5" y1="468.5" x2="625.5" y2="471.0" stroke="#444" stroke-width="1"/>
<text transform="translate(641.3,483.6) rotate(-45)" font-size="17.6" text-anchor="end" fill="#1a1a1a" stroke="#1a1a1a" stroke-width="0.2">MCI<tspan font-size="18" dx="-0.46" dy="0.6" stroke="#1a1a1a" stroke-width="0.45">+</tspan></text>
<line x1="674.3" y1="468.5" x2="674.3" y2="471.0" stroke="#444" stroke-width="1"/>
<text transform="translate(690.1,483.6) rotate(-45)" font-size="17.6" text-anchor="end" fill="#1a1a1a" stroke="#1a1a1a" stroke-width="0.2">AD<tspan font-size="18" dx="-0.46" dy="0.6" stroke="#1a1a1a" stroke-width="0.45">+</tspan></text>
<line x1="722.8" y1="468.5" x2="722.8" y2="471.0" stroke="#444" stroke-width="1"/>
<text transform="translate(741.8,483.8) rotate(-45)" font-size="17.6" text-anchor="end" fill="#1a1a1a" stroke="#1a1a1a" stroke-width="0.2">PSP/CBS</text>
<line x1="771.6" y1="468.5" x2="771.6" y2="471.0" stroke="#444" stroke-width="1"/>
<text transform="translate(790.6,483.8) rotate(-45)" font-size="17.6" text-anchor="end" fill="#1a1a1a" stroke="#1a1a1a" stroke-width="0.2">FTD/PPA</text>
<line x1="820.4" y1="468.5" x2="820.4" y2="471.0" stroke="#444" stroke-width="1"/>
<text transform="translate(839.4,483.8) rotate(-45)" font-size="17.6" text-anchor="end" fill="#1a1a1a" stroke="#1a1a1a" stroke-width="0.2">PD/PDD</text>
<path d="M537.0,319.0 L538.0,319.0 L538.0,319.9 L538.0,320.8 L538.0,321.8 L538.1,322.7 L538.3,323.6 L538.5,324.5 L538.8,325.4 L539.1,326.4 L539.4,327.3 L539.7,328.2 L540.1,329.1 L540.5,330.0 L541.0,330.9 L541.5,331.9 L542.1,332.8 L542.7,333.7 L543.3,334.6 L544.0,335.5 L544.7,336.5 L545.5,337.4 L546.3,338.3 L547.1,339.2 L548.0,340.1 L548.9,341.1 L549.8,342.0 L550.7,342.9 L551.6,343.8 L552.5,344.7 L553.3,345.6 L554.2,346.6 L555.0,347.5 L555.8,348.4 L556.5,349.3 L557.2,350.2 L557.8,351.2 L558.3,352.1 L558.8,353.0 L559.2,353.9 L559.4,354.8 L559.6,355.8 L559.7,356.7 L559.7,357.6 L559.6,358.5 L559.4,359.4 L559.1,360.3 L558.7,361.3 L558.2,362.2 L557.6,363.1 L557.0,364.0 L556.3,364.9 L555.6,365.9 L554.8,366.8 L554.0,367.7 L553.1,368.6 L552.2,369.5 L551.3,370.4 L550.4,371.4 L549.5,372.3 L548.6,373.2 L547.7,374.1 L546.9,375.0 L546.1,376.0 L545.3,376.9 L544.5,377.8 L543.8,378.7 L543.1,379.6 L542.5,380.6 L541.9,381.5 L541.4,382.4 L540.9,383.3 L540.4,384.2 L540.0,385.1 L539.6,386.1 L539.3,387.0 L539.0,387.9 L538.7,388.8 L538.5,389.7 L538.3,390.7 L538.1,391.6 L538.0,392.5 L537.0,392.5 Z" fill="#9bd6cc" stroke="#9bd6cc" stroke-width="0.6"/>
<g fill="#7fbfb3" fill-opacity="0.5"><circle cx="521.0" cy="320.0" r="1.9"/><circle cx="522.6" cy="391.5" r="1.9"/><circle cx="532.9" cy="351.5" r="1.9"/><circle cx="532.5" cy="376.8" r="1.9"/><circle cx="520.9" cy="348.5" r="1.9"/><circle cx="522.6" cy="357.3" r="1.9"/><circle cx="519.6" cy="362.9" r="1.9"/><circle cx="530.8" cy="361.7" r="1.9"/><circle cx="534.7" cy="362.0" r="1.9"/><circle cx="529.2" cy="336.1" r="1.9"/><circle cx="526.3" cy="354.5" r="1.9"/><circle cx="530.6" cy="371.2" r="1.9"/><circle cx="533.1" cy="349.5" r="1.9"/><circle cx="522.0" cy="357.8" r="1.9"/><circle cx="531.5" cy="352.8" r="1.9"/><circle cx="527.2" cy="386.5" r="1.9"/><circle cx="522.3" cy="366.1" r="1.9"/><circle cx="532.6" cy="362.3" r="1.9"/><circle cx="523.8" cy="367.3" r="1.9"/><circle cx="527.3" cy="356.9" r="1.9"/><circle cx="520.6" cy="356.4" r="1.9"/><circle cx="531.9" cy="378.3" r="1.9"/><circle cx="525.7" cy="347.5" r="1.9"/><circle cx="520.7" cy="366.9" r="1.9"/><circle cx="522.6" cy="367.9" r="1.9"/><circle cx="527.3" cy="367.0" r="1.9"/><circle cx="523.0" cy="366.8" r="1.9"/><circle cx="531.4" cy="363.8" r="1.9"/><circle cx="524.9" cy="377.1" r="1.9"/><circle cx="532.8" cy="360.6" r="1.9"/><circle cx="522.0" cy="339.1" r="1.9"/><circle cx="528.6" cy="365.9" r="1.9"/><circle cx="533.5" cy="354.9" r="1.9"/><circle cx="524.1" cy="352.8" r="1.9"/><circle cx="521.8" cy="336.3" r="1.9"/><circle cx="524.5" cy="353.2" r="1.9"/><circle cx="524.5" cy="350.2" r="1.9"/><circle cx="531.0" cy="359.1" r="1.9"/><circle cx="520.9" cy="359.0" r="1.9"/><circle cx="532.0" cy="367.7" r="1.9"/><circle cx="522.4" cy="372.7" r="1.9"/><circle cx="522.6" cy="350.7" r="1.9"/><circle cx="525.7" cy="359.6" r="1.9"/><circle cx="527.3" cy="378.2" r="1.9"/><circle cx="521.6" cy="345.5" r="1.9"/><circle cx="531.2" cy="346.6" r="1.9"/><circle cx="528.5" cy="372.6" r="1.9"/><circle cx="523.0" cy="372.5" r="1.9"/><circle cx="531.7" cy="383.0" r="1.9"/><circle cx="530.2" cy="336.1" r="1.9"/><circle cx="524.3" cy="345.7" r="1.9"/><circle cx="526.0" cy="350.7" r="1.9"/><circle cx="529.4" cy="378.7" r="1.9"/><circle cx="526.6" cy="362.9" r="1.9"/><circle cx="530.1" cy="346.5" r="1.9"/></g>
<line x1="527.3" y1="331.7" x2="527.3" y2="351.2" stroke="#234f4a" stroke-width="1.1"/>
<line x1="527.3" y1="367.8" x2="527.3" y2="386.5" stroke="#234f4a" stroke-width="1.1"/>
<path d="M519.6,351.2 L535.0,351.2 L535.0,355.1 L531.1,359.3 L535.0,363.5 L535.0,367.8 L519.6,367.8 L519.6,363.5 L523.4,359.3 L519.6,355.1 Z" fill="#9bd6cc" fill-opacity="0.35" stroke="#234f4a" stroke-width="1.1"/>
<line x1="523.4" y1="359.3" x2="531.1" y2="359.3" stroke="#234f4a" stroke-width="1.1"/>
<circle cx="523.0" cy="350.0" r="4.2" fill="#db88ca"/>
<path d="M585.0,228.6 L586.0,228.6 L586.0,230.7 L586.0,232.7 L586.0,234.8 L586.0,236.9 L586.0,239.0 L586.0,241.0 L586.0,243.1 L586.0,245.2 L586.0,247.3 L586.0,249.3 L586.2,251.4 L586.3,253.5 L586.5,255.6 L586.7,257.6 L586.8,259.7 L587.0,261.8 L587.3,263.9 L587.5,265.9 L587.7,268.0 L588.0,270.1 L588.3,272.1 L588.5,274.2 L588.8,276.3 L589.1,278.4 L589.4,280.4 L589.8,282.5 L590.1,284.6 L590.4,286.7 L590.7,288.7 L591.1,290.8 L591.4,292.9 L591.7,295.0 L592.0,297.0 L592.3,299.1 L592.5,301.2 L592.8,303.3 L593.0,305.3 L593.3,307.4 L593.4,309.5 L593.6,311.6 L593.7,313.6 L593.9,315.7 L593.9,317.8 L594.0,319.8 L594.0,321.9 L594.0,324.0 L594.0,326.1 L593.9,328.1 L593.8,330.2 L593.7,332.3 L593.6,334.4 L593.4,336.4 L593.3,338.5 L593.1,340.6 L592.9,342.7 L592.7,344.7 L592.4,346.8 L592.2,348.9 L591.9,351.0 L591.7,353.0 L591.4,355.1 L591.1,357.2 L590.8,359.2 L590.6,361.3 L590.3,363.4 L590.0,365.5 L589.7,367.5 L589.4,369.6 L589.2,371.7 L588.9,373.8 L588.6,375.8 L588.4,377.9 L588.1,380.0 L587.9,382.1 L587.7,384.1 L587.5,386.2 L587.3,388.3 L587.1,390.4 L586.9,392.4 L586.7,394.5 L585.0,394.5 Z" fill="#f2f5c2" stroke="#f2f5c2" stroke-width="0.6"/>
<g fill="#e9e9a8" fill-opacity="0.5"><circle cx="583.4" cy="229.6" r="1.9"/><circle cx="571.4" cy="393.5" r="1.9"/><circle cx="574.7" cy="256.8" r="1.9"/><circle cx="569.1" cy="346.0" r="1.9"/><circle cx="581.0" cy="297.4" r="1.9"/><circle cx="570.1" cy="231.7" r="1.9"/><circle cx="580.0" cy="276.3" r="1.9"/><circle cx="581.8" cy="268.7" r="1.9"/><circle cx="583.7" cy="285.1" r="1.9"/><circle cx="574.8" cy="317.7" r="1.9"/><circle cx="584.3" cy="348.2" r="1.9"/><circle cx="572.9" cy="326.6" r="1.9"/><circle cx="575.2" cy="325.7" r="1.9"/><circle cx="574.1" cy="340.1" r="1.9"/><circle cx="580.4" cy="330.1" r="1.9"/><circle cx="572.0" cy="363.7" r="1.9"/><circle cx="571.9" cy="357.2" r="1.9"/><circle cx="581.5" cy="319.9" r="1.9"/><circle cx="577.5" cy="281.3" r="1.9"/><circle cx="574.2" cy="324.5" r="1.9"/><circle cx="581.6" cy="253.1" r="1.9"/><circle cx="577.3" cy="331.6" r="1.9"/><circle cx="574.2" cy="321.3" r="1.9"/><circle cx="574.5" cy="352.3" r="1.9"/><circle cx="571.5" cy="334.4" r="1.9"/><circle cx="573.0" cy="318.6" r="1.9"/><circle cx="576.2" cy="308.3" r="1.9"/><circle cx="579.0" cy="338.8" r="1.9"/><circle cx="582.2" cy="345.0" r="1.9"/><circle cx="583.0" cy="321.2" r="1.9"/><circle cx="581.8" cy="348.6" r="1.9"/><circle cx="568.7" cy="300.8" r="1.9"/><circle cx="572.5" cy="230.8" r="1.9"/><circle cx="572.2" cy="304.4" r="1.9"/><circle cx="570.9" cy="355.3" r="1.9"/><circle cx="571.2" cy="379.5" r="1.9"/><circle cx="581.0" cy="368.2" r="1.9"/><circle cx="581.1" cy="245.9" r="1.9"/><circle cx="579.6" cy="350.1" r="1.9"/><circle cx="575.5" cy="260.1" r="1.9"/></g>
<line x1="576.5" y1="235.1" x2="576.5" y2="300.9" stroke="#333" stroke-width="1.1"/>
<line x1="576.5" y1="346.5" x2="576.5" y2="394.5" stroke="#333" stroke-width="1.1"/>
<path d="M568.8,300.9 L584.2,300.9 L584.2,316.7 L580.4,325.4 L584.2,334.1 L584.2,346.5 L568.8,346.5 L568.8,334.1 L572.6,325.4 L568.8,316.7 Z" fill="#f2f5c2" fill-opacity="0.35" stroke="#333" stroke-width="1.1"/>
<line x1="572.6" y1="325.4" x2="580.4" y2="325.4" stroke="#333" stroke-width="1.1"/>
<path d="M633.9,179.8 L634.9,179.8 L634.9,182.4 L634.9,185.1 L634.9,187.7 L634.9,190.4 L634.9,193.0 L634.9,195.7 L634.9,198.3 L634.9,201.0 L634.9,203.6 L635.0,206.2 L635.2,208.9 L635.3,211.5 L635.5,214.2 L635.6,216.8 L635.8,219.5 L636.0,222.1 L636.2,224.8 L636.4,227.4 L636.6,230.1 L636.8,232.7 L637.1,235.3 L637.3,238.0 L637.5,240.6 L637.8,243.3 L638.0,245.9 L638.3,248.6 L638.5,251.2 L638.8,253.9 L639.0,256.5 L639.3,259.1 L639.5,261.8 L639.7,264.4 L639.9,267.1 L640.1,269.7 L640.3,272.4 L640.4,275.0 L640.6,277.7 L640.7,280.3 L640.8,283.0 L640.8,285.6 L640.9,288.2 L640.9,290.9 L640.9,293.5 L640.9,296.2 L640.8,298.8 L640.8,301.5 L640.7,304.1 L640.6,306.8 L640.5,309.4 L640.4,312.0 L640.2,314.7 L640.1,317.3 L639.9,320.0 L639.7,322.6 L639.5,325.3 L639.3,327.9 L639.1,330.6 L638.9,333.2 L638.7,335.9 L638.4,338.5 L638.2,341.1 L638.0,343.8 L637.8,346.4 L637.5,349.1 L637.3,351.7 L637.1,354.4 L636.9,357.0 L636.7,359.7 L636.5,362.3 L636.3,364.9 L636.1,367.6 L636.0,370.2 L635.8,372.9 L635.6,375.5 L635.5,378.2 L635.3,380.8 L635.2,383.5 L635.1,386.1 L635.0,388.8 L634.9,391.4 L633.9,391.4 Z" fill="#f8ba7c" stroke="#f8ba7c" stroke-width="0.6"/>
<g fill="#f0a868" fill-opacity="0.5"><circle cx="631.6" cy="180.8" r="1.9"/><circle cx="626.4" cy="390.4" r="1.9"/><circle cx="619.7" cy="307.9" r="1.9"/><circle cx="625.0" cy="303.3" r="1.9"/><circle cx="625.5" cy="288.2" r="1.9"/><circle cx="617.6" cy="220.3" r="1.9"/><circle cx="626.5" cy="346.7" r="1.9"/><circle cx="623.5" cy="222.5" r="1.9"/><circle cx="618.7" cy="326.9" r="1.9"/><circle cx="618.0" cy="241.4" r="1.9"/><circle cx="632.4" cy="237.4" r="1.9"/><circle cx="625.7" cy="327.4" r="1.9"/><circle cx="618.0" cy="325.2" r="1.9"/><circle cx="622.9" cy="242.4" r="1.9"/><circle cx="625.1" cy="340.6" r="1.9"/><circle cx="620.9" cy="229.4" r="1.9"/><circle cx="626.4" cy="312.8" r="1.9"/><circle cx="630.7" cy="336.8" r="1.9"/><circle cx="621.8" cy="314.9" r="1.9"/><circle cx="628.0" cy="208.5" r="1.9"/><circle cx="622.6" cy="338.7" r="1.9"/><circle cx="627.7" cy="317.1" r="1.9"/><circle cx="629.1" cy="328.3" r="1.9"/><circle cx="618.3" cy="352.0" r="1.9"/><circle cx="620.5" cy="302.0" r="1.9"/><circle cx="628.0" cy="356.6" r="1.9"/><circle cx="627.3" cy="382.5" r="1.9"/><circle cx="628.6" cy="242.2" r="1.9"/><circle cx="620.9" cy="237.6" r="1.9"/><circle cx="629.7" cy="255.2" r="1.9"/><circle cx="618.1" cy="279.9" r="1.9"/><circle cx="628.0" cy="382.9" r="1.9"/><circle cx="630.1" cy="323.3" r="1.9"/><circle cx="622.3" cy="267.2" r="1.9"/><circle cx="624.4" cy="310.1" r="1.9"/><circle cx="618.4" cy="212.9" r="1.9"/><circle cx="619.4" cy="274.7" r="1.9"/><circle cx="632.2" cy="354.1" r="1.9"/><circle cx="623.7" cy="302.2" r="1.9"/><circle cx="633.2" cy="212.5" r="1.9"/><circle cx="619.1" cy="312.6" r="1.9"/><circle cx="619.9" cy="269.3" r="1.9"/><circle cx="628.4" cy="275.2" r="1.9"/><circle cx="618.9" cy="300.9" r="1.9"/><circle cx="617.8" cy="330.3" r="1.9"/><circle cx="629.2" cy="267.9" r="1.9"/><circle cx="629.9" cy="276.4" r="1.9"/><circle cx="629.2" cy="221.0" r="1.9"/><circle cx="628.8" cy="291.9" r="1.9"/><circle cx="621.6" cy="326.1" r="1.9"/><circle cx="617.7" cy="187.1" r="1.9"/><circle cx="630.6" cy="292.5" r="1.9"/><circle cx="629.2" cy="283.4" r="1.9"/><circle cx="625.3" cy="298.1" r="1.9"/><circle cx="626.7" cy="284.9" r="1.9"/><circle cx="619.8" cy="319.5" r="1.9"/><circle cx="627.8" cy="340.5" r="1.9"/><circle cx="623.7" cy="257.9" r="1.9"/><circle cx="630.1" cy="385.9" r="1.9"/><circle cx="618.5" cy="265.4" r="1.9"/><circle cx="630.7" cy="372.6" r="1.9"/><circle cx="633.1" cy="317.6" r="1.9"/><circle cx="622.4" cy="356.0" r="1.9"/><circle cx="623.5" cy="325.0" r="1.9"/><circle cx="631.8" cy="244.3" r="1.9"/><circle cx="617.5" cy="336.3" r="1.9"/><circle cx="626.9" cy="312.8" r="1.9"/><circle cx="618.2" cy="380.4" r="1.9"/><circle cx="631.4" cy="373.4" r="1.9"/><circle cx="631.1" cy="266.4" r="1.9"/><circle cx="632.1" cy="362.5" r="1.9"/><circle cx="626.4" cy="304.0" r="1.9"/><circle cx="629.5" cy="332.8" r="1.9"/><circle cx="627.2" cy="334.1" r="1.9"/><circle cx="620.8" cy="254.7" r="1.9"/><circle cx="630.2" cy="321.4" r="1.9"/><circle cx="630.4" cy="304.1" r="1.9"/><circle cx="626.8" cy="334.1" r="1.9"/><circle cx="625.8" cy="380.1" r="1.9"/><circle cx="620.5" cy="317.2" r="1.9"/><circle cx="628.7" cy="279.9" r="1.9"/><circle cx="623.9" cy="316.5" r="1.9"/><circle cx="618.2" cy="271.8" r="1.9"/><circle cx="619.2" cy="351.7" r="1.9"/><circle cx="620.0" cy="227.8" r="1.9"/><circle cx="625.8" cy="262.5" r="1.9"/><circle cx="633.3" cy="276.0" r="1.9"/><circle cx="626.6" cy="347.9" r="1.9"/><circle cx="624.3" cy="322.1" r="1.9"/><circle cx="630.6" cy="185.8" r="1.9"/><circle cx="618.1" cy="199.1" r="1.9"/><circle cx="618.8" cy="279.9" r="1.9"/><circle cx="631.4" cy="290.0" r="1.9"/><circle cx="632.1" cy="326.5" r="1.9"/><circle cx="623.9" cy="291.1" r="1.9"/><circle cx="621.6" cy="300.7" r="1.9"/><circle cx="632.8" cy="241.1" r="1.9"/><circle cx="624.7" cy="259.5" r="1.9"/><circle cx="633.4" cy="300.9" r="1.9"/><circle cx="621.6" cy="276.1" r="1.9"/></g>
<line x1="625.5" y1="205.7" x2="625.5" y2="275.1" stroke="#3a2a1e" stroke-width="1.1"/>
<line x1="625.5" y1="327.9" x2="625.5" y2="391.4" stroke="#3a2a1e" stroke-width="1.1"/>
<path d="M617.8,275.1 L633.2,275.1 L633.2,293.9 L629.4,301.8 L633.2,309.7 L633.2,327.9 L617.8,327.9 L617.8,309.7 L621.6,301.8 L617.8,293.9 Z" fill="#f8ba7c" fill-opacity="0.35" stroke="#3a2a1e" stroke-width="1.1"/>
<line x1="621.6" y1="301.8" x2="629.4" y2="301.8" stroke="#3a2a1e" stroke-width="1.1"/>
<path d="M683.2,178.9 L684.2,178.9 L684.2,181.5 L684.2,184.2 L684.2,186.8 L684.2,189.4 L684.2,192.1 L684.2,194.7 L684.2,197.4 L684.2,200.0 L684.2,202.6 L684.2,205.3 L684.4,207.9 L684.6,210.5 L684.9,213.2 L685.2,215.8 L685.5,218.4 L685.8,221.1 L686.2,223.7 L686.6,226.4 L687.1,229.0 L687.5,231.6 L688.0,234.3 L688.5,236.9 L688.9,239.5 L689.4,242.2 L689.9,244.8 L690.3,247.4 L690.7,250.1 L691.1,252.7 L691.4,255.4 L691.7,258.0 L691.9,260.6 L692.1,263.3 L692.2,265.9 L692.2,268.5 L692.2,271.2 L692.1,273.8 L692.0,276.4 L691.9,279.1 L691.7,281.7 L691.5,284.4 L691.2,287.0 L691.0,289.6 L690.7,292.3 L690.4,294.9 L690.1,297.5 L689.7,300.2 L689.4,302.8 L689.0,305.4 L688.6,308.1 L688.3,310.7 L687.9,313.3 L687.6,316.0 L687.2,318.6 L686.9,321.3 L686.6,323.9 L686.3,326.5 L686.0,329.2 L685.7,331.8 L685.5,334.4 L685.2,337.1 L685.0,339.7 L684.8,342.3 L684.6,345.0 L684.4,347.6 L684.3,350.3 L684.2,352.9 L684.2,355.5 L684.2,358.2 L684.2,360.8 L684.2,363.4 L684.2,366.1 L684.2,368.7 L684.2,371.3 L684.2,374.0 L684.2,376.6 L684.2,379.3 L684.2,381.9 L684.2,384.5 L684.2,387.2 L684.2,389.8 L683.2,389.8 Z" fill="#f8907f" stroke="#f8907f" stroke-width="0.6"/>
<g fill="#ee7a72" fill-opacity="0.5"><circle cx="671.9" cy="179.9" r="1.9"/><circle cx="680.7" cy="388.8" r="1.9"/><circle cx="667.1" cy="315.8" r="1.9"/><circle cx="676.6" cy="311.5" r="1.9"/><circle cx="668.6" cy="325.8" r="1.9"/><circle cx="677.1" cy="319.6" r="1.9"/><circle cx="678.4" cy="288.8" r="1.9"/><circle cx="670.4" cy="261.2" r="1.9"/><circle cx="669.0" cy="264.8" r="1.9"/><circle cx="677.1" cy="257.1" r="1.9"/><circle cx="669.4" cy="270.2" r="1.9"/><circle cx="669.8" cy="275.0" r="1.9"/><circle cx="680.5" cy="316.9" r="1.9"/><circle cx="667.9" cy="264.0" r="1.9"/><circle cx="676.4" cy="316.0" r="1.9"/><circle cx="679.5" cy="283.6" r="1.9"/><circle cx="668.6" cy="289.5" r="1.9"/><circle cx="677.7" cy="255.1" r="1.9"/><circle cx="680.2" cy="251.2" r="1.9"/><circle cx="668.8" cy="285.1" r="1.9"/><circle cx="671.7" cy="293.8" r="1.9"/><circle cx="671.4" cy="265.0" r="1.9"/><circle cx="682.0" cy="297.9" r="1.9"/><circle cx="677.0" cy="274.3" r="1.9"/><circle cx="670.9" cy="264.7" r="1.9"/><circle cx="672.1" cy="280.8" r="1.9"/><circle cx="681.1" cy="389.7" r="1.9"/><circle cx="680.6" cy="260.4" r="1.9"/><circle cx="671.0" cy="270.4" r="1.9"/><circle cx="679.2" cy="323.1" r="1.9"/><circle cx="666.3" cy="279.6" r="1.9"/><circle cx="669.3" cy="306.0" r="1.9"/><circle cx="669.8" cy="295.3" r="1.9"/><circle cx="669.2" cy="251.4" r="1.9"/><circle cx="669.4" cy="311.5" r="1.9"/><circle cx="676.0" cy="255.8" r="1.9"/><circle cx="669.6" cy="282.3" r="1.9"/><circle cx="679.3" cy="221.4" r="1.9"/><circle cx="667.4" cy="249.4" r="1.9"/><circle cx="677.8" cy="303.0" r="1.9"/><circle cx="671.7" cy="272.4" r="1.9"/><circle cx="674.2" cy="316.8" r="1.9"/><circle cx="673.9" cy="274.6" r="1.9"/><circle cx="669.3" cy="300.1" r="1.9"/><circle cx="668.9" cy="302.1" r="1.9"/><circle cx="666.4" cy="288.8" r="1.9"/><circle cx="674.6" cy="238.3" r="1.9"/><circle cx="679.4" cy="270.2" r="1.9"/><circle cx="677.7" cy="301.1" r="1.9"/><circle cx="667.3" cy="292.0" r="1.9"/><circle cx="674.2" cy="320.2" r="1.9"/><circle cx="674.9" cy="233.3" r="1.9"/><circle cx="669.9" cy="276.0" r="1.9"/><circle cx="670.3" cy="256.2" r="1.9"/><circle cx="667.8" cy="297.2" r="1.9"/><circle cx="666.6" cy="249.7" r="1.9"/><circle cx="674.7" cy="230.4" r="1.9"/><circle cx="680.2" cy="252.3" r="1.9"/><circle cx="668.3" cy="253.4" r="1.9"/><circle cx="670.8" cy="286.9" r="1.9"/><circle cx="668.5" cy="263.1" r="1.9"/><circle cx="668.7" cy="209.4" r="1.9"/><circle cx="668.9" cy="218.5" r="1.9"/><circle cx="672.5" cy="319.6" r="1.9"/><circle cx="674.7" cy="293.8" r="1.9"/><circle cx="678.7" cy="295.9" r="1.9"/><circle cx="671.7" cy="281.6" r="1.9"/><circle cx="679.2" cy="296.7" r="1.9"/><circle cx="679.9" cy="315.1" r="1.9"/><circle cx="681.6" cy="265.6" r="1.9"/><circle cx="673.1" cy="299.8" r="1.9"/><circle cx="674.8" cy="242.6" r="1.9"/><circle cx="674.4" cy="263.7" r="1.9"/><circle cx="681.8" cy="257.0" r="1.9"/><circle cx="676.4" cy="319.5" r="1.9"/><circle cx="680.5" cy="317.6" r="1.9"/><circle cx="670.6" cy="268.5" r="1.9"/><circle cx="675.0" cy="246.7" r="1.9"/><circle cx="670.3" cy="308.7" r="1.9"/><circle cx="681.5" cy="239.0" r="1.9"/><circle cx="676.7" cy="282.9" r="1.9"/><circle cx="681.6" cy="267.4" r="1.9"/><circle cx="673.8" cy="246.9" r="1.9"/><circle cx="668.3" cy="251.1" r="1.9"/><circle cx="672.8" cy="260.5" r="1.9"/><circle cx="667.7" cy="281.7" r="1.9"/><circle cx="676.1" cy="211.2" r="1.9"/><circle cx="669.5" cy="225.5" r="1.9"/><circle cx="675.1" cy="237.5" r="1.9"/><circle cx="671.3" cy="237.0" r="1.9"/><circle cx="674.5" cy="258.9" r="1.9"/><circle cx="666.5" cy="288.6" r="1.9"/><circle cx="670.1" cy="294.3" r="1.9"/><circle cx="670.9" cy="235.7" r="1.9"/><circle cx="678.7" cy="342.0" r="1.9"/><circle cx="680.2" cy="255.3" r="1.9"/><circle cx="672.5" cy="278.0" r="1.9"/><circle cx="668.0" cy="291.7" r="1.9"/><circle cx="678.1" cy="275.8" r="1.9"/><circle cx="671.9" cy="261.5" r="1.9"/><circle cx="679.9" cy="227.8" r="1.9"/><circle cx="678.1" cy="305.8" r="1.9"/><circle cx="673.9" cy="313.1" r="1.9"/><circle cx="680.9" cy="311.4" r="1.9"/><circle cx="666.4" cy="273.7" r="1.9"/><circle cx="674.3" cy="307.7" r="1.9"/><circle cx="673.0" cy="186.8" r="1.9"/><circle cx="676.0" cy="317.1" r="1.9"/><circle cx="673.6" cy="285.9" r="1.9"/><circle cx="672.6" cy="300.6" r="1.9"/><circle cx="671.5" cy="241.6" r="1.9"/><circle cx="674.3" cy="316.3" r="1.9"/><circle cx="671.2" cy="280.5" r="1.9"/><circle cx="675.6" cy="267.0" r="1.9"/><circle cx="671.5" cy="274.9" r="1.9"/><circle cx="681.6" cy="315.9" r="1.9"/><circle cx="680.9" cy="263.6" r="1.9"/><circle cx="675.3" cy="254.9" r="1.9"/><circle cx="678.7" cy="295.5" r="1.9"/><circle cx="674.6" cy="197.6" r="1.9"/><circle cx="672.5" cy="223.0" r="1.9"/><circle cx="671.9" cy="288.8" r="1.9"/><circle cx="674.7" cy="184.9" r="1.9"/><circle cx="672.7" cy="262.4" r="1.9"/><circle cx="680.4" cy="230.6" r="1.9"/><circle cx="673.3" cy="188.4" r="1.9"/><circle cx="671.8" cy="197.7" r="1.9"/><circle cx="669.0" cy="213.1" r="1.9"/><circle cx="679.5" cy="296.7" r="1.9"/><circle cx="680.6" cy="252.1" r="1.9"/></g>
<line x1="674.3" y1="197.4" x2="674.3" y2="253.8" stroke="#3a2020" stroke-width="1.1"/>
<line x1="674.3" y1="297.1" x2="674.3" y2="322.0" stroke="#3a2020" stroke-width="1.1"/>
<path d="M666.6,253.8 L682.0,253.8 L682.0,269.8 L678.1,276.7 L682.0,283.6 L682.0,297.1 L666.6,297.1 L666.6,283.6 L670.4,276.7 L666.6,269.8 Z" fill="#f8907f" fill-opacity="0.35" stroke="#3a2020" stroke-width="1.1"/>
<line x1="670.4" y1="276.7" x2="678.1" y2="276.7" stroke="#3a2020" stroke-width="1.1"/>
<path d="M732.5,246.8 L733.5,246.8 L733.5,249.3 L733.5,251.7 L733.5,254.2 L733.5,256.6 L733.5,259.1 L733.5,261.6 L733.5,264.0 L733.5,266.5 L733.5,269.0 L733.5,271.4 L733.5,273.9 L733.5,276.3 L733.5,278.8 L733.5,281.3 L733.5,283.7 L733.5,286.2 L733.5,288.6 L733.5,291.1 L733.5,293.6 L733.5,296.0 L733.5,298.5 L733.5,300.9 L733.5,303.4 L733.5,305.9 L733.5,308.3 L733.5,310.8 L733.5,313.3 L733.5,315.7 L733.5,318.2 L733.5,320.6 L733.5,323.1 L733.5,325.6 L733.5,328.0 L733.5,330.5 L733.5,332.9 L733.5,335.4 L733.5,337.9 L733.5,340.3 L733.9,342.8 L734.4,345.2 L735.0,347.7 L735.8,350.2 L736.6,352.6 L737.6,355.1 L738.7,357.6 L739.8,360.0 L740.9,362.5 L741.9,364.9 L742.9,367.4 L743.6,369.9 L744.2,372.3 L744.5,374.8 L744.5,377.2 L744.2,379.7 L743.8,382.2 L743.2,384.6 L742.4,387.1 L741.5,389.6 L740.6,392.0 L739.6,394.5 L738.6,396.9 L737.7,399.4 L736.8,401.9 L736.0,404.3 L735.3,406.8 L734.7,409.2 L734.2,411.7 L733.8,414.2 L733.5,416.6 L733.5,419.1 L733.5,421.5 L733.5,424.0 L733.5,426.5 L733.5,428.9 L733.5,431.4 L733.5,433.9 L733.5,436.3 L733.5,438.8 L733.5,441.2 L733.5,443.7 L732.5,443.7 Z" fill="#c9cbe3" stroke="#c9cbe3" stroke-width="0.6"/>
<g fill="#b4b4d6" fill-opacity="0.5"><circle cx="725.8" cy="247.8" r="1.9"/><circle cx="727.9" cy="442.7" r="1.9"/><circle cx="721.5" cy="442.4" r="1.9"/><circle cx="723.0" cy="368.6" r="1.9"/><circle cx="717.7" cy="362.5" r="1.9"/><circle cx="720.5" cy="350.7" r="1.9"/><circle cx="715.5" cy="439.5" r="1.9"/><circle cx="719.7" cy="388.6" r="1.9"/><circle cx="719.7" cy="364.7" r="1.9"/><circle cx="725.5" cy="408.8" r="1.9"/><circle cx="723.7" cy="371.4" r="1.9"/><circle cx="723.3" cy="386.7" r="1.9"/><circle cx="721.4" cy="438.8" r="1.9"/><circle cx="727.0" cy="366.8" r="1.9"/><circle cx="717.5" cy="366.1" r="1.9"/><circle cx="724.6" cy="341.7" r="1.9"/><circle cx="715.0" cy="391.9" r="1.9"/><circle cx="726.2" cy="398.1" r="1.9"/><circle cx="719.1" cy="380.4" r="1.9"/><circle cx="724.1" cy="376.9" r="1.9"/><circle cx="721.0" cy="384.1" r="1.9"/><circle cx="724.1" cy="376.7" r="1.9"/><circle cx="724.7" cy="295.3" r="1.9"/><circle cx="729.7" cy="365.3" r="1.9"/><circle cx="729.2" cy="397.8" r="1.9"/></g>
<line x1="722.8" y1="333.3" x2="722.8" y2="364.7" stroke="#333344" stroke-width="1.1"/>
<line x1="722.8" y1="391.4" x2="722.8" y2="432.2" stroke="#333344" stroke-width="1.1"/>
<path d="M715.1,364.7 L730.5,364.7 L730.5,370.2 L726.6,378.2 L730.5,386.2 L730.5,391.4 L715.1,391.4 L715.1,386.2 L718.9,378.2 L715.1,370.2 Z" fill="#c9cbe3" fill-opacity="0.35" stroke="#333344" stroke-width="1.1"/>
<line x1="718.9" y1="378.2" x2="726.6" y2="378.2" stroke="#333344" stroke-width="1.1"/>
<path d="M781.2,317.5 L782.3,317.5 L782.5,319.1 L782.7,320.7 L782.9,322.2 L783.1,323.8 L783.4,325.4 L783.6,327.0 L783.9,328.5 L784.2,330.1 L784.5,331.7 L784.9,333.3 L785.2,334.9 L785.6,336.4 L786.0,338.0 L786.4,339.6 L786.8,341.2 L787.2,342.7 L787.7,344.3 L788.1,345.9 L788.5,347.5 L788.9,349.1 L789.3,350.6 L789.7,352.2 L790.0,353.8 L790.3,355.4 L790.6,356.9 L790.9,358.5 L791.1,360.1 L791.3,361.7 L791.5,363.2 L791.6,364.8 L791.7,366.4 L791.7,368.0 L791.7,369.6 L791.7,371.1 L791.6,372.7 L791.5,374.3 L791.4,375.9 L791.3,377.4 L791.2,379.0 L791.0,380.6 L790.9,382.2 L790.7,383.8 L790.5,385.3 L790.3,386.9 L790.0,388.5 L789.8,390.1 L789.6,391.6 L789.3,393.2 L789.0,394.8 L788.8,396.4 L788.5,398.0 L788.2,399.5 L787.9,401.1 L787.6,402.7 L787.3,404.3 L787.1,405.8 L786.8,407.4 L786.5,409.0 L786.2,410.6 L785.9,412.1 L785.7,413.7 L785.4,415.3 L785.2,416.9 L784.9,418.5 L784.7,420.0 L784.4,421.6 L784.2,423.2 L784.0,424.8 L783.8,426.3 L783.6,427.9 L783.4,429.5 L783.3,431.1 L783.1,432.7 L783.0,434.2 L782.8,435.8 L782.7,437.4 L782.5,439.0 L782.4,440.5 L782.3,442.1 L782.2,443.7 L781.2,443.7 Z" fill="#8581c4" stroke="#7470b4" stroke-width="0.6"/>
<g fill="#8f8cc6" fill-opacity="0.5"><circle cx="776.7" cy="318.5" r="1.9"/><circle cx="768.5" cy="442.7" r="1.9"/><circle cx="771.5" cy="320.6" r="1.9"/><circle cx="769.8" cy="343.9" r="1.9"/><circle cx="768.5" cy="349.1" r="1.9"/><circle cx="776.3" cy="402.3" r="1.9"/><circle cx="769.3" cy="355.3" r="1.9"/><circle cx="768.3" cy="369.8" r="1.9"/><circle cx="772.1" cy="351.0" r="1.9"/><circle cx="764.6" cy="377.5" r="1.9"/><circle cx="769.2" cy="367.1" r="1.9"/><circle cx="768.1" cy="355.6" r="1.9"/><circle cx="774.2" cy="352.7" r="1.9"/><circle cx="774.9" cy="373.1" r="1.9"/><circle cx="777.0" cy="357.0" r="1.9"/><circle cx="777.0" cy="360.2" r="1.9"/><circle cx="769.2" cy="390.6" r="1.9"/><circle cx="778.9" cy="397.7" r="1.9"/><circle cx="771.7" cy="369.4" r="1.9"/><circle cx="765.7" cy="360.3" r="1.9"/><circle cx="778.0" cy="348.2" r="1.9"/><circle cx="767.5" cy="345.3" r="1.9"/><circle cx="777.6" cy="349.3" r="1.9"/><circle cx="772.3" cy="361.4" r="1.9"/><circle cx="769.8" cy="384.1" r="1.9"/><circle cx="768.6" cy="338.5" r="1.9"/><circle cx="766.4" cy="371.8" r="1.9"/><circle cx="774.2" cy="395.5" r="1.9"/><circle cx="769.4" cy="362.3" r="1.9"/><circle cx="764.7" cy="347.3" r="1.9"/></g>
<line x1="771.6" y1="318.5" x2="771.6" y2="352.1" stroke="#2a2a44" stroke-width="1.1"/>
<line x1="771.6" y1="388.2" x2="771.6" y2="433.3" stroke="#2a2a44" stroke-width="1.1"/>
<path d="M763.9,352.1 L779.3,352.1 L779.3,359.5 L775.5,370.3 L779.3,381.1 L779.3,388.2 L763.9,388.2 L763.9,381.1 L767.8,370.3 L763.9,359.5 Z" fill="#8581c4" fill-opacity="0.35" stroke="#2a2a44" stroke-width="1.1"/>
<line x1="767.8" y1="370.3" x2="775.5" y2="370.3" stroke="#2a2a44" stroke-width="1.1"/>
<circle cx="771.0" cy="345.5" r="4.2" fill="#db88ca"/>
<path d="M830.0,268.9 L831.2,268.9 L831.2,270.4 L831.2,272.0 L831.2,273.5 L831.2,275.1 L831.2,276.6 L831.2,278.2 L831.2,279.7 L831.2,281.3 L831.2,282.8 L831.2,284.3 L831.2,285.9 L831.2,287.4 L831.2,289.0 L831.2,290.5 L831.2,292.1 L831.2,293.6 L831.2,295.2 L831.2,296.7 L831.2,298.3 L831.2,299.8 L831.2,301.3 L831.2,302.9 L831.2,304.4 L831.2,306.0 L831.2,307.5 L831.2,309.1 L831.2,310.6 L831.2,312.2 L831.2,313.7 L831.2,315.2 L831.2,316.8 L831.2,318.3 L831.2,319.9 L831.2,321.4 L831.2,323.0 L831.2,324.5 L831.2,326.1 L831.2,327.6 L831.2,329.2 L831.2,330.7 L831.4,332.2 L831.9,333.8 L832.5,335.3 L833.3,336.9 L834.2,338.4 L835.2,340.0 L836.4,341.5 L837.8,343.1 L839.2,344.6 L840.8,346.1 L842.4,347.7 L844.0,349.2 L845.6,350.8 L847.1,352.3 L848.4,353.9 L849.5,355.4 L850.3,357.0 L850.8,358.5 L851.0,360.1 L850.9,361.6 L850.5,363.1 L849.9,364.7 L849.0,366.2 L848.0,367.8 L846.8,369.3 L845.5,370.9 L844.2,372.4 L842.8,374.0 L841.4,375.5 L840.0,377.1 L838.7,378.6 L837.5,380.1 L836.3,381.7 L835.3,383.2 L834.4,384.8 L833.6,386.3 L832.9,387.9 L832.3,389.4 L831.8,391.0 L831.4,392.5 L830.0,392.5 Z" fill="#6a52aa" stroke="#3a3683" stroke-width="0.9"/>
<g fill="#8a7ab8" fill-opacity="0.5"><circle cx="817.4" cy="269.9" r="1.9"/><circle cx="816.0" cy="391.5" r="1.9"/><circle cx="816.9" cy="362.3" r="1.9"/><circle cx="824.8" cy="372.4" r="1.9"/><circle cx="814.5" cy="387.5" r="1.9"/><circle cx="823.3" cy="365.0" r="1.9"/><circle cx="819.0" cy="352.2" r="1.9"/><circle cx="816.4" cy="344.1" r="1.9"/><circle cx="822.5" cy="376.6" r="1.9"/><circle cx="827.0" cy="357.2" r="1.9"/><circle cx="813.0" cy="383.8" r="1.9"/><circle cx="815.6" cy="357.6" r="1.9"/><circle cx="813.0" cy="367.9" r="1.9"/><circle cx="815.3" cy="370.1" r="1.9"/><circle cx="823.9" cy="380.6" r="1.9"/><circle cx="823.3" cy="368.4" r="1.9"/><circle cx="825.7" cy="364.7" r="1.9"/><circle cx="813.1" cy="375.7" r="1.9"/><circle cx="813.2" cy="381.4" r="1.9"/><circle cx="825.1" cy="357.1" r="1.9"/><circle cx="824.4" cy="364.0" r="1.9"/><circle cx="818.7" cy="362.1" r="1.9"/><circle cx="816.9" cy="386.7" r="1.9"/><circle cx="819.2" cy="364.2" r="1.9"/><circle cx="824.2" cy="383.3" r="1.9"/><circle cx="819.6" cy="381.8" r="1.9"/><circle cx="819.3" cy="362.1" r="1.9"/><circle cx="814.4" cy="337.2" r="1.9"/><circle cx="823.6" cy="373.3" r="1.9"/><circle cx="821.1" cy="375.3" r="1.9"/></g>
<line x1="820.4" y1="334.8" x2="820.4" y2="356.2" stroke="#2a2440" stroke-width="1.1"/>
<line x1="820.4" y1="373.2" x2="820.4" y2="391.4" stroke="#2a2440" stroke-width="1.1"/>
<path d="M812.7,356.2 L828.1,356.2 L828.1,359.6 L824.2,364.7 L828.1,369.8 L828.1,373.2 L812.7,373.2 L812.7,369.8 L816.5,364.7 L812.7,359.6 Z" fill="#6a52aa" fill-opacity="0.35" stroke="#2a2440" stroke-width="1.1"/>
<line x1="816.5" y1="364.7" x2="824.2" y2="364.7" stroke="#2a2440" stroke-width="1.1"/>
<path d="M625.7,126.5 L625.7,119.0 L770.2,119.0 L770.2,126.5 M576.3,126.5 L674.4,126.5 M712.0,126.5 L821.1,126.5" fill="none" stroke="#484848" stroke-width="1.1"/>
<text transform="translate(697.9,106.7) scale(1,0.85)" x="0" y="15.0" font-size="27.5" stroke="#111" stroke-width="0.45" text-anchor="middle" fill="#111">***</text>
<path d="M514.5,166.4 L514.5,158.5 L625.7,158.5 L625.7,166.4 M576.3,166.4 L674.4,166.4" fill="none" stroke="#484848" stroke-width="1.1"/>
<text transform="translate(569.7,146.0) scale(1,0.85)" x="0" y="15.0" font-size="27.5" stroke="#111" stroke-width="0.45" text-anchor="middle" fill="#111">***</text>
<path d="M576.5,400.8 L576.5,408.2 L621.9,408.2 L621.9,400.8" fill="none" stroke="#484848" stroke-width="1.1"/>
<text transform="translate(598.9,422.2) scale(1,0.85)" x="0" y="15.0" font-size="27.5" stroke="#111" stroke-width="0.45" text-anchor="middle" fill="#111">**</text>
<path d="M576.5,435.0 L621.9,435.0 M598.9,435.0 L598.9,442.7 L674.3,442.7 L674.3,435.0" fill="none" stroke="#484848" stroke-width="1.1"/>
<text transform="translate(636.6,456.7) scale(1,0.85)" x="0" y="15.0" font-size="27.5" stroke="#111" stroke-width="0.45" text-anchor="middle" fill="#111">***</text>
<text x="1112.5" y="36" font-size="37.5" text-anchor="middle" fill="#1a1a1a" stroke="#1a1a1a" stroke-width="0.35">pT205/T205</text>
<text transform="translate(894.8,289.4) rotate(-90)" font-size="20.7" font-weight="bold" text-anchor="middle" fill="#1a1a1a">pT205/T205 (%)</text>
<text x="1123.9" y="568.7" font-size="20" font-weight="bold" text-anchor="middle" fill="#1a1a1a">Diagnosis</text>
<path d="M935.3,108.5 L935.3,468.5 L1289.7,468.5" fill="none" stroke="#444" stroke-width="1.1"/>
<line x1="932.8" y1="386.0" x2="935.3" y2="386.0" stroke="#444" stroke-width="1"/>
<line x1="932.8" y1="289.4" x2="935.3" y2="289.4" stroke="#444" stroke-width="1"/>
<line x1="932.8" y1="192.8" x2="935.3" y2="192.8" stroke="#444" stroke-width="1"/>
<text x="925.8" y="392.2" font-size="17.5" text-anchor="end" fill="#1a1a1a" stroke="#1a1a1a" stroke-width="0.2">1</text>
<text x="925.8" y="275.1" font-size="17.5" text-anchor="end" fill="#1a1a1a" stroke="#1a1a1a" stroke-width="0.2">2</text>
<text x="925.8" y="157.6" font-size="17.5" text-anchor="end" fill="#1a1a1a" stroke="#1a1a1a" stroke-width="0.2">3</text>
<line x1="965.2" y1="468.5" x2="965.2" y2="471.0" stroke="#444" stroke-width="1"/>
<text transform="translate(974.3,483.5) rotate(-45)" font-size="17.6" text-anchor="end" fill="#1a1a1a" stroke="#1a1a1a" stroke-width="0.2">CU-</text>
<line x1="1014.2" y1="468.5" x2="1014.2" y2="471.0" stroke="#444" stroke-width="1"/>
<text transform="translate(1030.0,483.6) rotate(-45)" font-size="17.6" text-anchor="end" fill="#1a1a1a" stroke="#1a1a1a" stroke-width="0.2">CU<tspan font-size="18" dx="-0.46" dy="0.6" stroke="#1a1a1a" stroke-width="0.45">+</tspan></text>
<line x1="1063.0" y1="468.5" x2="1063.0" y2="471.0" stroke="#444" stroke-width="1"/>
<text transform="translate(1078.8,483.6) rotate(-45)" font-size="17.6" text-anchor="end" fill="#1a1a1a" stroke="#1a1a1a" stroke-width="0.2">MCI<tspan font-size="18" dx="-0.46" dy="0.6" stroke="#1a1a1a" stroke-width="0.45">+</tspan></text>
<line x1="1111.7" y1="468.5" x2="1111.7" y2="471.0" stroke="#444" stroke-width="1"/>
<text transform="translate(1127.5,483.6) rotate(-45)" font-size="17.6" text-anchor="end" fill="#1a1a1a" stroke="#1a1a1a" stroke-width="0.2">AD<tspan font-size="18" dx="-0.46" dy="0.6" stroke="#1a1a1a" stroke-width="0.45">+</tspan></text>
<line x1="1160.7" y1="468.5" x2="1160.7" y2="471.0" stroke="#444" stroke-width="1"/>
<text transform="translate(1179.7,483.8) rotate(-45)" font-size="17.6" text-anchor="end" fill="#1a1a1a" stroke="#1a1a1a" stroke-width="0.2">PSP/CBS</text>
<line x1="1209.5" y1="468.5" x2="1209.5" y2="471.0" stroke="#444" stroke-width="1"/>
<text transform="translate(1228.5,483.8) rotate(-45)" font-size="17.6" text-anchor="end" fill="#1a1a1a" stroke="#1a1a1a" stroke-width="0.2">FTD/PPA</text>
<line x1="1258.1" y1="468.5" x2="1258.1" y2="471.0" stroke="#444" stroke-width="1"/>
<text transform="translate(1277.1,483.8) rotate(-45)" font-size="17.6" text-anchor="end" fill="#1a1a1a" stroke="#1a1a1a" stroke-width="0.2">PD/PDD</text>
<path d="M974.0,344.8 L975.0,344.8 L975.0,345.9 L975.0,347.0 L975.0,348.2 L975.0,349.3 L975.0,350.4 L975.0,351.5 L975.0,352.6 L975.0,353.8 L975.0,354.9 L975.0,356.0 L975.0,357.1 L975.0,358.2 L975.0,359.3 L975.0,360.5 L975.0,361.6 L975.0,362.7 L975.0,363.8 L975.0,364.9 L975.0,366.1 L975.0,367.2 L975.0,368.3 L975.0,369.4 L975.0,370.5 L975.0,371.7 L975.0,372.8 L975.0,373.9 L975.0,375.0 L975.2,376.1 L975.6,377.2 L975.9,378.4 L976.4,379.5 L976.9,380.6 L977.4,381.7 L978.1,382.8 L978.9,384.0 L979.7,385.1 L980.6,386.2 L981.6,387.3 L982.7,388.4 L983.9,389.6 L985.1,390.7 L986.3,391.8 L987.6,392.9 L988.9,394.0 L990.1,395.1 L991.3,396.3 L992.5,397.4 L993.5,398.5 L994.4,399.6 L995.2,400.7 L995.8,401.9 L996.3,403.0 L996.5,404.1 L996.6,405.2 L996.5,406.3 L996.1,407.4 L995.6,408.6 L994.9,409.7 L994.1,410.8 L993.1,411.9 L992.1,413.0 L990.9,414.2 L989.7,415.3 L988.4,416.4 L987.1,417.5 L985.8,418.6 L984.6,419.8 L983.4,420.9 L982.3,422.0 L981.2,423.1 L980.3,424.2 L979.4,425.4 L978.6,426.5 L977.8,427.6 L977.2,428.7 L976.7,429.8 L976.2,430.9 L975.8,432.1 L975.4,433.2 L975.1,434.3 L974.0,434.3 Z" fill="#9bd6cc" stroke="#9bd6cc" stroke-width="0.6"/>
<g fill="#7fbfb3" fill-opacity="0.5"><circle cx="972.7" cy="345.8" r="1.9"/><circle cx="967.4" cy="433.3" r="1.9"/><circle cx="958.2" cy="396.3" r="1.9"/><circle cx="960.4" cy="409.6" r="1.9"/><circle cx="968.5" cy="407.3" r="1.9"/><circle cx="961.1" cy="396.5" r="1.9"/><circle cx="972.2" cy="393.5" r="1.9"/><circle cx="971.4" cy="408.6" r="1.9"/><circle cx="962.5" cy="402.6" r="1.9"/><circle cx="969.4" cy="422.6" r="1.9"/><circle cx="966.8" cy="403.5" r="1.9"/><circle cx="970.5" cy="412.6" r="1.9"/><circle cx="963.0" cy="400.5" r="1.9"/><circle cx="961.7" cy="398.7" r="1.9"/><circle cx="964.4" cy="403.7" r="1.9"/><circle cx="964.7" cy="400.8" r="1.9"/><circle cx="958.3" cy="407.5" r="1.9"/><circle cx="969.2" cy="406.0" r="1.9"/><circle cx="972.9" cy="403.9" r="1.9"/><circle cx="965.0" cy="397.7" r="1.9"/><circle cx="965.9" cy="407.7" r="1.9"/><circle cx="967.5" cy="405.5" r="1.9"/><circle cx="967.6" cy="382.7" r="1.9"/><circle cx="959.4" cy="408.2" r="1.9"/><circle cx="970.6" cy="404.3" r="1.9"/><circle cx="967.4" cy="407.7" r="1.9"/><circle cx="959.9" cy="433.0" r="1.9"/><circle cx="969.1" cy="430.0" r="1.9"/><circle cx="970.4" cy="407.7" r="1.9"/><circle cx="966.0" cy="409.2" r="1.9"/><circle cx="961.0" cy="413.2" r="1.9"/><circle cx="967.3" cy="402.7" r="1.9"/><circle cx="971.7" cy="426.5" r="1.9"/><circle cx="965.2" cy="363.1" r="1.9"/><circle cx="966.5" cy="400.6" r="1.9"/><circle cx="959.8" cy="403.6" r="1.9"/><circle cx="958.6" cy="414.3" r="1.9"/><circle cx="960.3" cy="401.7" r="1.9"/><circle cx="970.7" cy="414.6" r="1.9"/><circle cx="964.0" cy="428.8" r="1.9"/><circle cx="965.4" cy="411.7" r="1.9"/><circle cx="964.2" cy="409.0" r="1.9"/><circle cx="971.7" cy="385.5" r="1.9"/><circle cx="964.3" cy="400.5" r="1.9"/><circle cx="960.3" cy="395.0" r="1.9"/><circle cx="964.6" cy="400.8" r="1.9"/><circle cx="971.0" cy="433.5" r="1.9"/><circle cx="967.1" cy="434.6" r="1.9"/><circle cx="968.0" cy="414.8" r="1.9"/><circle cx="966.3" cy="395.7" r="1.9"/><circle cx="967.6" cy="363.6" r="1.9"/><circle cx="971.4" cy="409.0" r="1.9"/><circle cx="968.1" cy="399.7" r="1.9"/><circle cx="967.8" cy="406.8" r="1.9"/><circle cx="963.9" cy="411.0" r="1.9"/></g>
<line x1="965.2" y1="381.0" x2="965.2" y2="398.2" stroke="#234f4a" stroke-width="1.1"/>
<line x1="965.2" y1="414.6" x2="965.2" y2="435.4" stroke="#234f4a" stroke-width="1.1"/>
<path d="M957.5,398.2 L972.9,398.2 L972.9,402.0 L969.1,406.1 L972.9,410.2 L972.9,414.6 L957.5,414.6 L957.5,410.2 L961.4,406.1 L957.5,402.0 Z" fill="#9bd6cc" fill-opacity="0.35" stroke="#234f4a" stroke-width="1.1"/>
<line x1="961.4" y1="406.1" x2="969.1" y2="406.1" stroke="#234f4a" stroke-width="1.1"/>
<circle cx="964.6" cy="345.5" r="4.2" fill="#db88ca"/>
<path d="M1023.3,313.4 L1024.3,313.4 L1024.3,314.9 L1024.3,316.4 L1024.3,317.9 L1024.3,319.4 L1024.3,320.9 L1024.3,322.4 L1024.3,323.9 L1024.3,325.4 L1024.3,326.9 L1024.4,328.4 L1024.5,329.9 L1024.7,331.4 L1024.8,332.9 L1024.9,334.4 L1025.1,335.9 L1025.3,337.4 L1025.5,338.9 L1025.7,340.4 L1025.9,341.9 L1026.1,343.4 L1026.3,344.9 L1026.6,346.4 L1026.8,347.9 L1027.1,349.4 L1027.4,350.9 L1027.6,352.4 L1027.9,353.9 L1028.2,355.4 L1028.5,356.9 L1028.8,358.4 L1029.2,359.9 L1029.5,361.4 L1029.8,362.9 L1030.1,364.4 L1030.4,365.9 L1030.7,367.4 L1031.0,368.9 L1031.3,370.4 L1031.6,371.9 L1031.9,373.4 L1032.1,374.8 L1032.4,376.3 L1032.6,377.8 L1032.8,379.3 L1033.0,380.8 L1033.2,382.3 L1033.3,383.8 L1033.4,385.3 L1033.5,386.8 L1033.6,388.3 L1033.7,389.8 L1033.7,391.3 L1033.7,392.8 L1033.7,394.3 L1033.6,395.8 L1033.5,397.3 L1033.3,398.8 L1033.1,400.3 L1032.9,401.8 L1032.7,403.3 L1032.4,404.8 L1032.1,406.3 L1031.8,407.8 L1031.5,409.3 L1031.1,410.8 L1030.8,412.3 L1030.4,413.8 L1030.0,415.3 L1029.7,416.8 L1029.3,418.3 L1028.9,419.8 L1028.5,421.3 L1028.2,422.8 L1027.8,424.3 L1027.5,425.8 L1027.1,427.3 L1026.8,428.8 L1026.5,430.3 L1026.2,431.8 L1026.0,433.3 L1023.3,433.3 Z" fill="#f2f5c2" stroke="#f2f5c2" stroke-width="0.6"/>
<g fill="#e9e9a8" fill-opacity="0.5"><circle cx="1014.7" cy="314.4" r="1.9"/><circle cx="1015.2" cy="432.3" r="1.9"/><circle cx="1009.1" cy="394.7" r="1.9"/><circle cx="1008.0" cy="418.2" r="1.9"/><circle cx="1007.7" cy="411.2" r="1.9"/><circle cx="1014.0" cy="368.2" r="1.9"/><circle cx="1015.4" cy="369.0" r="1.9"/><circle cx="1015.6" cy="383.3" r="1.9"/><circle cx="1007.4" cy="381.2" r="1.9"/><circle cx="1015.0" cy="406.2" r="1.9"/><circle cx="1008.0" cy="344.5" r="1.9"/><circle cx="1007.8" cy="427.1" r="1.9"/><circle cx="1008.9" cy="414.1" r="1.9"/><circle cx="1018.6" cy="320.0" r="1.9"/><circle cx="1007.1" cy="388.5" r="1.9"/><circle cx="1006.4" cy="380.5" r="1.9"/><circle cx="1011.0" cy="369.3" r="1.9"/><circle cx="1020.4" cy="361.7" r="1.9"/><circle cx="1015.2" cy="337.3" r="1.9"/><circle cx="1008.9" cy="429.1" r="1.9"/><circle cx="1018.4" cy="413.0" r="1.9"/><circle cx="1008.2" cy="340.3" r="1.9"/><circle cx="1021.4" cy="404.3" r="1.9"/><circle cx="1015.9" cy="408.5" r="1.9"/><circle cx="1019.0" cy="384.0" r="1.9"/><circle cx="1017.0" cy="391.4" r="1.9"/><circle cx="1013.3" cy="395.9" r="1.9"/><circle cx="1008.0" cy="419.2" r="1.9"/><circle cx="1019.0" cy="375.3" r="1.9"/><circle cx="1010.8" cy="384.1" r="1.9"/><circle cx="1008.5" cy="363.6" r="1.9"/><circle cx="1017.2" cy="418.0" r="1.9"/><circle cx="1006.4" cy="432.2" r="1.9"/><circle cx="1014.2" cy="395.2" r="1.9"/><circle cx="1006.8" cy="426.5" r="1.9"/><circle cx="1017.1" cy="389.3" r="1.9"/><circle cx="1008.7" cy="400.2" r="1.9"/><circle cx="1020.2" cy="414.1" r="1.9"/><circle cx="1011.5" cy="372.4" r="1.9"/><circle cx="1015.6" cy="390.8" r="1.9"/></g>
<line x1="1014.2" y1="328.5" x2="1014.2" y2="373.1" stroke="#333" stroke-width="1.1"/>
<line x1="1014.2" y1="408.3" x2="1014.2" y2="434.3" stroke="#333" stroke-width="1.1"/>
<path d="M1006.5,373.1 L1021.9,373.1 L1021.9,386.2 L1018.1,392.9 L1021.9,399.6 L1021.9,408.3 L1006.5,408.3 L1006.5,399.6 L1010.4,392.9 L1006.5,386.2 Z" fill="#f2f5c2" fill-opacity="0.35" stroke="#333" stroke-width="1.1"/>
<line x1="1010.4" y1="392.9" x2="1018.1" y2="392.9" stroke="#333" stroke-width="1.1"/>
<path d="M1073.0,236.0 L1074.0,236.0 L1074.0,238.5 L1074.0,240.9 L1074.0,243.4 L1074.0,245.8 L1074.0,248.3 L1074.0,250.7 L1074.0,253.2 L1074.0,255.6 L1074.1,258.1 L1074.2,260.5 L1074.3,263.0 L1074.4,265.4 L1074.5,267.9 L1074.6,270.3 L1074.7,272.8 L1074.9,275.2 L1075.0,277.7 L1075.1,280.1 L1075.3,282.6 L1075.4,285.1 L1075.6,287.5 L1075.8,290.0 L1075.9,292.4 L1076.1,294.9 L1076.3,297.3 L1076.4,299.8 L1076.6,302.2 L1076.8,304.7 L1077.0,307.1 L1077.1,309.6 L1077.3,312.0 L1077.5,314.5 L1077.6,316.9 L1077.8,319.4 L1078.0,321.8 L1078.1,324.3 L1078.3,326.7 L1078.4,329.2 L1078.6,331.6 L1078.7,334.1 L1078.8,336.6 L1079.0,339.0 L1079.1,341.5 L1079.2,343.9 L1079.2,346.4 L1079.3,348.8 L1079.4,351.3 L1079.4,353.7 L1079.5,356.2 L1079.5,358.6 L1079.5,361.1 L1079.5,363.5 L1079.5,366.0 L1079.4,368.4 L1079.4,370.9 L1079.3,373.3 L1079.3,375.8 L1079.2,378.2 L1079.1,380.7 L1078.9,383.1 L1078.8,385.6 L1078.7,388.1 L1078.5,390.5 L1078.4,393.0 L1078.2,395.4 L1078.0,397.9 L1077.8,400.3 L1077.7,402.8 L1077.5,405.2 L1077.3,407.7 L1077.1,410.1 L1076.9,412.6 L1076.7,415.0 L1076.5,417.5 L1076.3,419.9 L1076.1,422.4 L1076.0,424.8 L1075.8,427.3 L1075.6,429.7 L1075.4,432.2 L1073.0,432.2 Z" fill="#f8ba7c" stroke="#f8ba7c" stroke-width="0.6"/>
<g fill="#f0a868" fill-opacity="0.5"><circle cx="1055.7" cy="237.0" r="1.9"/><circle cx="1057.7" cy="431.2" r="1.9"/><circle cx="1064.2" cy="375.3" r="1.9"/><circle cx="1055.1" cy="372.1" r="1.9"/><circle cx="1055.3" cy="323.9" r="1.9"/><circle cx="1055.7" cy="390.0" r="1.9"/><circle cx="1059.4" cy="353.6" r="1.9"/><circle cx="1059.2" cy="376.3" r="1.9"/><circle cx="1070.3" cy="310.5" r="1.9"/><circle cx="1064.0" cy="391.8" r="1.9"/><circle cx="1067.4" cy="424.0" r="1.9"/><circle cx="1060.8" cy="301.7" r="1.9"/><circle cx="1069.0" cy="384.6" r="1.9"/><circle cx="1059.9" cy="413.0" r="1.9"/><circle cx="1063.1" cy="416.2" r="1.9"/><circle cx="1063.8" cy="322.9" r="1.9"/><circle cx="1060.4" cy="363.8" r="1.9"/><circle cx="1062.7" cy="390.1" r="1.9"/><circle cx="1058.8" cy="369.0" r="1.9"/><circle cx="1055.1" cy="365.9" r="1.9"/><circle cx="1062.1" cy="402.2" r="1.9"/><circle cx="1057.7" cy="325.7" r="1.9"/><circle cx="1059.9" cy="344.1" r="1.9"/><circle cx="1070.0" cy="406.5" r="1.9"/><circle cx="1064.3" cy="388.2" r="1.9"/><circle cx="1064.3" cy="340.9" r="1.9"/><circle cx="1067.4" cy="405.3" r="1.9"/><circle cx="1056.1" cy="386.7" r="1.9"/><circle cx="1059.4" cy="387.5" r="1.9"/><circle cx="1057.6" cy="362.8" r="1.9"/><circle cx="1058.5" cy="382.0" r="1.9"/><circle cx="1064.6" cy="367.8" r="1.9"/><circle cx="1058.1" cy="411.3" r="1.9"/><circle cx="1064.6" cy="429.8" r="1.9"/><circle cx="1069.0" cy="357.2" r="1.9"/><circle cx="1058.0" cy="366.0" r="1.9"/><circle cx="1065.2" cy="278.4" r="1.9"/><circle cx="1060.2" cy="393.9" r="1.9"/><circle cx="1061.5" cy="411.3" r="1.9"/><circle cx="1055.9" cy="323.7" r="1.9"/><circle cx="1065.0" cy="363.4" r="1.9"/><circle cx="1064.6" cy="376.1" r="1.9"/><circle cx="1055.2" cy="375.2" r="1.9"/><circle cx="1070.8" cy="407.1" r="1.9"/><circle cx="1066.6" cy="352.1" r="1.9"/><circle cx="1057.5" cy="364.7" r="1.9"/><circle cx="1056.4" cy="356.1" r="1.9"/><circle cx="1063.6" cy="401.0" r="1.9"/><circle cx="1065.5" cy="308.4" r="1.9"/><circle cx="1066.9" cy="324.1" r="1.9"/><circle cx="1067.2" cy="382.2" r="1.9"/><circle cx="1067.4" cy="396.8" r="1.9"/><circle cx="1059.5" cy="409.3" r="1.9"/><circle cx="1057.1" cy="271.3" r="1.9"/><circle cx="1065.5" cy="348.6" r="1.9"/><circle cx="1070.8" cy="398.6" r="1.9"/><circle cx="1056.4" cy="355.8" r="1.9"/><circle cx="1056.0" cy="339.8" r="1.9"/><circle cx="1057.9" cy="308.4" r="1.9"/><circle cx="1057.4" cy="398.8" r="1.9"/><circle cx="1069.7" cy="355.3" r="1.9"/><circle cx="1067.4" cy="337.0" r="1.9"/><circle cx="1063.0" cy="361.6" r="1.9"/><circle cx="1067.8" cy="323.3" r="1.9"/><circle cx="1069.5" cy="371.3" r="1.9"/><circle cx="1056.0" cy="355.2" r="1.9"/><circle cx="1068.8" cy="319.6" r="1.9"/><circle cx="1061.6" cy="350.9" r="1.9"/><circle cx="1065.0" cy="428.6" r="1.9"/><circle cx="1059.2" cy="342.8" r="1.9"/><circle cx="1058.3" cy="368.6" r="1.9"/><circle cx="1059.8" cy="411.0" r="1.9"/><circle cx="1064.1" cy="399.5" r="1.9"/><circle cx="1068.9" cy="358.6" r="1.9"/><circle cx="1068.2" cy="383.4" r="1.9"/><circle cx="1062.8" cy="371.5" r="1.9"/><circle cx="1065.9" cy="392.7" r="1.9"/><circle cx="1064.3" cy="316.1" r="1.9"/><circle cx="1069.1" cy="393.8" r="1.9"/><circle cx="1068.8" cy="384.2" r="1.9"/><circle cx="1070.9" cy="358.6" r="1.9"/><circle cx="1056.8" cy="362.8" r="1.9"/><circle cx="1069.6" cy="390.8" r="1.9"/><circle cx="1056.6" cy="355.3" r="1.9"/><circle cx="1056.4" cy="353.9" r="1.9"/><circle cx="1066.5" cy="388.1" r="1.9"/><circle cx="1055.5" cy="430.8" r="1.9"/><circle cx="1066.0" cy="356.7" r="1.9"/><circle cx="1058.7" cy="349.3" r="1.9"/><circle cx="1055.3" cy="365.1" r="1.9"/><circle cx="1069.1" cy="403.6" r="1.9"/><circle cx="1057.2" cy="348.9" r="1.9"/><circle cx="1066.0" cy="367.2" r="1.9"/><circle cx="1063.0" cy="355.3" r="1.9"/><circle cx="1062.9" cy="345.4" r="1.9"/><circle cx="1058.4" cy="398.2" r="1.9"/><circle cx="1066.7" cy="239.4" r="1.9"/><circle cx="1059.2" cy="367.1" r="1.9"/><circle cx="1063.1" cy="337.4" r="1.9"/><circle cx="1060.8" cy="377.9" r="1.9"/></g>
<line x1="1063.0" y1="264.7" x2="1063.0" y2="336.3" stroke="#3a2a1e" stroke-width="1.1"/>
<line x1="1063.0" y1="390.4" x2="1063.0" y2="432.2" stroke="#3a2a1e" stroke-width="1.1"/>
<path d="M1055.3,336.3 L1070.7,336.3 L1070.7,354.0 L1066.8,362.1 L1070.7,370.2 L1070.7,390.4 L1055.3,390.4 L1055.3,370.2 L1059.2,362.1 L1055.3,354.0 Z" fill="#f8ba7c" fill-opacity="0.35" stroke="#3a2a1e" stroke-width="1.1"/>
<line x1="1059.2" y1="362.1" x2="1066.8" y2="362.1" stroke="#3a2a1e" stroke-width="1.1"/>
<path d="M1120.7,168.9 L1121.7,168.9 L1121.7,171.8 L1121.7,174.6 L1121.7,177.5 L1121.7,180.3 L1121.7,183.2 L1121.7,186.1 L1121.7,188.9 L1121.7,191.8 L1121.7,194.6 L1121.7,197.5 L1121.7,200.4 L1121.7,203.2 L1121.7,206.1 L1121.7,208.9 L1121.7,211.8 L1121.7,214.7 L1121.7,217.5 L1121.7,220.4 L1121.7,223.2 L1121.7,226.1 L1121.7,229.0 L1121.7,231.8 L1121.7,234.7 L1121.7,237.5 L1121.7,240.4 L1121.7,243.3 L1121.7,246.1 L1121.7,249.0 L1121.7,251.8 L1121.7,254.7 L1121.7,257.6 L1121.7,260.4 L1121.7,263.3 L1121.9,266.1 L1122.2,269.0 L1122.6,271.9 L1123.0,274.7 L1123.5,277.6 L1124.0,280.4 L1124.6,283.3 L1125.3,286.2 L1126.0,289.0 L1126.7,291.9 L1127.4,294.7 L1128.1,297.6 L1128.8,300.5 L1129.4,303.3 L1129.9,306.2 L1130.4,309.0 L1130.7,311.9 L1130.9,314.8 L1131.0,317.6 L1131.0,320.5 L1130.8,323.3 L1130.6,326.2 L1130.3,329.1 L1129.9,331.9 L1129.5,334.8 L1129.0,337.6 L1128.5,340.5 L1127.9,343.4 L1127.3,346.2 L1126.7,349.1 L1126.1,351.9 L1125.6,354.8 L1125.0,357.7 L1124.5,360.5 L1124.0,363.4 L1123.5,366.2 L1123.1,369.1 L1122.7,372.0 L1122.4,374.8 L1122.1,377.7 L1121.9,380.5 L1121.7,383.4 L1121.7,386.3 L1121.7,389.1 L1121.7,392.0 L1121.7,394.8 L1121.7,397.7 L1120.7,397.7 Z" fill="#f8907f" stroke="#f8907f" stroke-width="0.6"/>
<g fill="#ee7a72" fill-opacity="0.5"><circle cx="1103.9" cy="169.9" r="1.9"/><circle cx="1114.7" cy="396.7" r="1.9"/><circle cx="1112.5" cy="282.8" r="1.9"/><circle cx="1117.7" cy="254.5" r="1.9"/><circle cx="1108.8" cy="289.8" r="1.9"/><circle cx="1109.9" cy="337.9" r="1.9"/><circle cx="1106.0" cy="326.5" r="1.9"/><circle cx="1113.4" cy="370.1" r="1.9"/><circle cx="1113.5" cy="342.0" r="1.9"/><circle cx="1106.9" cy="323.0" r="1.9"/><circle cx="1116.2" cy="315.4" r="1.9"/><circle cx="1114.8" cy="338.8" r="1.9"/><circle cx="1112.5" cy="331.3" r="1.9"/><circle cx="1103.7" cy="337.9" r="1.9"/><circle cx="1111.9" cy="362.9" r="1.9"/><circle cx="1107.5" cy="253.6" r="1.9"/><circle cx="1109.8" cy="271.2" r="1.9"/><circle cx="1112.1" cy="290.1" r="1.9"/><circle cx="1108.9" cy="275.3" r="1.9"/><circle cx="1107.3" cy="282.9" r="1.9"/><circle cx="1118.2" cy="295.1" r="1.9"/><circle cx="1112.1" cy="332.8" r="1.9"/><circle cx="1106.0" cy="322.6" r="1.9"/><circle cx="1112.1" cy="349.9" r="1.9"/><circle cx="1107.5" cy="266.6" r="1.9"/><circle cx="1111.1" cy="315.0" r="1.9"/><circle cx="1118.0" cy="265.6" r="1.9"/><circle cx="1109.8" cy="338.7" r="1.9"/><circle cx="1105.7" cy="361.3" r="1.9"/><circle cx="1105.3" cy="305.2" r="1.9"/><circle cx="1112.0" cy="334.5" r="1.9"/><circle cx="1110.0" cy="319.9" r="1.9"/><circle cx="1110.9" cy="389.3" r="1.9"/><circle cx="1115.8" cy="334.4" r="1.9"/><circle cx="1109.6" cy="312.6" r="1.9"/><circle cx="1109.6" cy="296.0" r="1.9"/><circle cx="1104.0" cy="325.9" r="1.9"/><circle cx="1104.6" cy="310.7" r="1.9"/><circle cx="1108.1" cy="313.2" r="1.9"/><circle cx="1117.0" cy="323.0" r="1.9"/><circle cx="1117.4" cy="311.8" r="1.9"/><circle cx="1116.4" cy="308.1" r="1.9"/><circle cx="1104.4" cy="291.0" r="1.9"/><circle cx="1115.1" cy="325.6" r="1.9"/><circle cx="1114.1" cy="326.4" r="1.9"/><circle cx="1109.9" cy="344.4" r="1.9"/><circle cx="1106.8" cy="258.8" r="1.9"/><circle cx="1109.7" cy="389.7" r="1.9"/><circle cx="1104.8" cy="292.7" r="1.9"/><circle cx="1112.1" cy="345.2" r="1.9"/><circle cx="1115.8" cy="336.5" r="1.9"/><circle cx="1111.1" cy="311.1" r="1.9"/><circle cx="1110.3" cy="335.2" r="1.9"/><circle cx="1110.7" cy="336.3" r="1.9"/><circle cx="1116.9" cy="328.5" r="1.9"/><circle cx="1110.1" cy="271.4" r="1.9"/><circle cx="1112.6" cy="312.6" r="1.9"/><circle cx="1105.6" cy="359.2" r="1.9"/><circle cx="1116.8" cy="302.1" r="1.9"/><circle cx="1115.8" cy="302.3" r="1.9"/><circle cx="1114.6" cy="300.3" r="1.9"/><circle cx="1104.6" cy="286.0" r="1.9"/><circle cx="1113.0" cy="289.0" r="1.9"/><circle cx="1117.7" cy="392.6" r="1.9"/><circle cx="1112.0" cy="306.6" r="1.9"/><circle cx="1108.1" cy="317.9" r="1.9"/><circle cx="1107.8" cy="324.5" r="1.9"/><circle cx="1111.9" cy="350.8" r="1.9"/><circle cx="1108.6" cy="319.1" r="1.9"/><circle cx="1117.4" cy="360.6" r="1.9"/><circle cx="1104.5" cy="322.2" r="1.9"/><circle cx="1111.1" cy="290.9" r="1.9"/><circle cx="1109.6" cy="330.0" r="1.9"/><circle cx="1118.4" cy="340.9" r="1.9"/><circle cx="1108.7" cy="300.4" r="1.9"/><circle cx="1112.7" cy="289.4" r="1.9"/><circle cx="1116.4" cy="323.7" r="1.9"/><circle cx="1116.5" cy="332.6" r="1.9"/><circle cx="1118.7" cy="287.3" r="1.9"/><circle cx="1104.6" cy="336.0" r="1.9"/><circle cx="1104.5" cy="331.1" r="1.9"/><circle cx="1113.2" cy="339.0" r="1.9"/><circle cx="1112.7" cy="316.8" r="1.9"/><circle cx="1114.5" cy="348.8" r="1.9"/><circle cx="1107.1" cy="294.1" r="1.9"/><circle cx="1118.4" cy="339.9" r="1.9"/><circle cx="1105.2" cy="302.5" r="1.9"/><circle cx="1110.3" cy="367.6" r="1.9"/><circle cx="1118.2" cy="295.4" r="1.9"/><circle cx="1104.6" cy="298.4" r="1.9"/><circle cx="1117.1" cy="300.5" r="1.9"/><circle cx="1113.0" cy="322.8" r="1.9"/><circle cx="1106.2" cy="329.5" r="1.9"/><circle cx="1117.2" cy="343.7" r="1.9"/><circle cx="1119.4" cy="314.6" r="1.9"/><circle cx="1109.8" cy="318.8" r="1.9"/><circle cx="1112.4" cy="296.5" r="1.9"/><circle cx="1115.4" cy="308.8" r="1.9"/><circle cx="1105.5" cy="331.9" r="1.9"/><circle cx="1118.5" cy="339.6" r="1.9"/><circle cx="1112.1" cy="396.0" r="1.9"/><circle cx="1115.7" cy="325.2" r="1.9"/><circle cx="1105.2" cy="337.1" r="1.9"/><circle cx="1113.3" cy="335.7" r="1.9"/><circle cx="1105.9" cy="299.8" r="1.9"/><circle cx="1117.2" cy="336.3" r="1.9"/><circle cx="1104.2" cy="316.8" r="1.9"/><circle cx="1109.2" cy="255.7" r="1.9"/><circle cx="1104.5" cy="197.9" r="1.9"/><circle cx="1107.7" cy="327.3" r="1.9"/><circle cx="1116.3" cy="340.5" r="1.9"/><circle cx="1112.6" cy="319.5" r="1.9"/><circle cx="1116.3" cy="310.3" r="1.9"/><circle cx="1104.2" cy="287.0" r="1.9"/><circle cx="1114.0" cy="299.7" r="1.9"/><circle cx="1109.3" cy="310.8" r="1.9"/><circle cx="1106.3" cy="331.6" r="1.9"/><circle cx="1109.0" cy="317.1" r="1.9"/><circle cx="1111.4" cy="363.9" r="1.9"/><circle cx="1117.8" cy="302.4" r="1.9"/><circle cx="1112.3" cy="309.4" r="1.9"/><circle cx="1106.3" cy="308.9" r="1.9"/><circle cx="1109.6" cy="284.8" r="1.9"/><circle cx="1107.0" cy="307.8" r="1.9"/><circle cx="1117.6" cy="304.9" r="1.9"/><circle cx="1103.9" cy="261.3" r="1.9"/><circle cx="1116.4" cy="212.0" r="1.9"/><circle cx="1107.4" cy="274.6" r="1.9"/><circle cx="1107.9" cy="340.1" r="1.9"/><circle cx="1112.0" cy="307.6" r="1.9"/></g>
<line x1="1111.7" y1="253.2" x2="1111.7" y2="300.8" stroke="#3a2020" stroke-width="1.1"/>
<line x1="1111.7" y1="338.5" x2="1111.7" y2="370.0" stroke="#3a2020" stroke-width="1.1"/>
<path d="M1104.0,300.8 L1119.4,300.8 L1119.4,312.1 L1115.5,318.1 L1119.4,324.1 L1119.4,338.5 L1104.0,338.5 L1104.0,324.1 L1107.9,318.1 L1104.0,312.1 Z" fill="#f8907f" fill-opacity="0.35" stroke="#3a2020" stroke-width="1.1"/>
<line x1="1107.9" y1="318.1" x2="1115.5" y2="318.1" stroke="#3a2020" stroke-width="1.1"/>
<path d="M1169.4,321.3 L1170.4,321.3 L1170.4,322.8 L1170.4,324.3 L1170.4,325.7 L1170.4,327.2 L1170.4,328.7 L1170.4,330.2 L1170.4,331.7 L1170.4,333.1 L1170.4,334.6 L1170.4,336.1 L1170.4,337.6 L1170.4,339.0 L1170.5,340.5 L1170.6,342.0 L1170.8,343.5 L1170.9,345.0 L1171.1,346.4 L1171.3,347.9 L1171.5,349.4 L1171.8,350.9 L1172.0,352.4 L1172.3,353.8 L1172.6,355.3 L1172.9,356.8 L1173.2,358.3 L1173.6,359.7 L1173.9,361.2 L1174.3,362.7 L1174.7,364.2 L1175.1,365.7 L1175.5,367.1 L1175.9,368.6 L1176.3,370.1 L1176.7,371.6 L1177.1,373.1 L1177.5,374.5 L1177.9,376.0 L1178.2,377.5 L1178.6,379.0 L1178.9,380.4 L1179.3,381.9 L1179.5,383.4 L1179.8,384.9 L1180.0,386.4 L1180.2,387.8 L1180.4,389.3 L1180.5,390.8 L1180.6,392.3 L1180.7,393.8 L1180.7,395.2 L1180.6,396.7 L1180.5,398.2 L1180.3,399.7 L1180.1,401.2 L1179.7,402.6 L1179.3,404.1 L1178.9,405.6 L1178.4,407.1 L1177.9,408.5 L1177.4,410.0 L1176.8,411.5 L1176.3,413.0 L1175.7,414.5 L1175.1,415.9 L1174.6,417.4 L1174.1,418.9 L1173.6,420.4 L1173.1,421.9 L1172.7,423.3 L1172.3,424.8 L1171.9,426.3 L1171.6,427.8 L1171.2,429.2 L1171.0,430.7 L1170.7,432.2 L1170.5,433.7 L1170.4,435.2 L1170.4,436.6 L1170.4,438.1 L1170.4,439.6 L1169.4,439.6 Z" fill="#c9cbe3" stroke="#c9cbe3" stroke-width="0.6"/>
<g fill="#b4b4d6" fill-opacity="0.5"><circle cx="1157.4" cy="322.3" r="1.9"/><circle cx="1166.9" cy="438.6" r="1.9"/><circle cx="1156.4" cy="389.8" r="1.9"/><circle cx="1164.1" cy="353.5" r="1.9"/><circle cx="1162.3" cy="382.4" r="1.9"/><circle cx="1162.6" cy="412.9" r="1.9"/><circle cx="1158.2" cy="352.0" r="1.9"/><circle cx="1167.4" cy="419.8" r="1.9"/><circle cx="1159.3" cy="397.9" r="1.9"/><circle cx="1156.6" cy="400.3" r="1.9"/><circle cx="1155.1" cy="426.7" r="1.9"/><circle cx="1155.9" cy="401.0" r="1.9"/><circle cx="1168.3" cy="384.3" r="1.9"/><circle cx="1160.4" cy="433.8" r="1.9"/><circle cx="1167.2" cy="408.9" r="1.9"/><circle cx="1155.9" cy="425.2" r="1.9"/><circle cx="1165.3" cy="350.4" r="1.9"/><circle cx="1158.3" cy="392.9" r="1.9"/><circle cx="1163.5" cy="398.4" r="1.9"/><circle cx="1166.0" cy="412.8" r="1.9"/><circle cx="1164.6" cy="435.5" r="1.9"/><circle cx="1162.1" cy="431.3" r="1.9"/><circle cx="1165.3" cy="409.5" r="1.9"/><circle cx="1168.1" cy="415.7" r="1.9"/><circle cx="1154.6" cy="345.2" r="1.9"/></g>
<line x1="1160.7" y1="342.3" x2="1160.7" y2="376.9" stroke="#333344" stroke-width="1.1"/>
<line x1="1160.7" y1="411.7" x2="1160.7" y2="439.6" stroke="#333344" stroke-width="1.1"/>
<path d="M1153.0,376.9 L1168.4,376.9 L1168.4,388.8 L1164.5,399.2 L1168.4,409.6 L1168.4,411.7 L1153.0,411.7 L1153.0,409.6 L1156.9,399.2 L1153.0,388.8 Z" fill="#c9cbe3" fill-opacity="0.35" stroke="#333344" stroke-width="1.1"/>
<line x1="1156.9" y1="399.2" x2="1164.5" y2="399.2" stroke="#333344" stroke-width="1.1"/>
<path d="M1218.1,363.7 L1222.3,363.7 L1222.6,364.7 L1222.9,365.6 L1223.2,366.6 L1223.5,367.5 L1223.8,368.5 L1224.1,369.5 L1224.5,370.4 L1224.8,371.4 L1225.2,372.4 L1225.5,373.3 L1225.9,374.3 L1226.3,375.2 L1226.7,376.2 L1227.1,377.2 L1227.4,378.1 L1227.8,379.1 L1228.2,380.0 L1228.6,381.0 L1229.0,382.0 L1229.4,382.9 L1229.8,383.9 L1230.1,384.8 L1230.5,385.8 L1230.8,386.8 L1231.2,387.7 L1231.5,388.7 L1231.8,389.7 L1232.1,390.6 L1232.4,391.6 L1232.6,392.5 L1232.9,393.5 L1233.1,394.5 L1233.3,395.4 L1233.5,396.4 L1233.7,397.3 L1233.8,398.3 L1233.9,399.3 L1234.0,400.2 L1234.1,401.2 L1234.1,402.1 L1234.1,403.1 L1234.0,404.1 L1233.9,405.0 L1233.7,406.0 L1233.4,407.0 L1233.0,407.9 L1232.5,408.9 L1232.0,409.8 L1231.5,410.8 L1230.8,411.8 L1230.2,412.7 L1229.5,413.7 L1228.8,414.6 L1228.1,415.6 L1227.4,416.6 L1226.7,417.5 L1226.0,418.5 L1225.3,419.5 L1224.6,420.4 L1224.0,421.4 L1223.4,422.3 L1222.8,423.3 L1222.3,424.3 L1221.8,425.2 L1221.4,426.2 L1221.0,427.1 L1220.6,428.1 L1220.2,429.1 L1219.9,430.0 L1219.7,431.0 L1219.6,431.9 L1219.6,432.9 L1219.6,433.9 L1219.6,434.8 L1219.6,435.8 L1219.6,436.8 L1219.6,437.7 L1219.6,438.7 L1219.6,439.6 L1219.6,440.6 L1218.1,440.6 Z" fill="#8581c4" stroke="#7470b4" stroke-width="0.6"/>
<g fill="#8f8cc6" fill-opacity="0.5"><circle cx="1217.0" cy="364.7" r="1.9"/><circle cx="1214.1" cy="439.6" r="1.9"/><circle cx="1205.2" cy="410.8" r="1.9"/><circle cx="1205.3" cy="393.6" r="1.9"/><circle cx="1212.5" cy="411.5" r="1.9"/><circle cx="1214.0" cy="381.2" r="1.9"/><circle cx="1216.6" cy="427.2" r="1.9"/><circle cx="1202.9" cy="418.8" r="1.9"/><circle cx="1206.9" cy="369.3" r="1.9"/><circle cx="1214.2" cy="369.3" r="1.9"/><circle cx="1201.8" cy="394.1" r="1.9"/><circle cx="1208.2" cy="399.3" r="1.9"/><circle cx="1206.9" cy="379.8" r="1.9"/><circle cx="1215.0" cy="392.0" r="1.9"/><circle cx="1202.9" cy="383.1" r="1.9"/><circle cx="1208.6" cy="409.4" r="1.9"/><circle cx="1203.4" cy="370.3" r="1.9"/><circle cx="1214.7" cy="386.2" r="1.9"/><circle cx="1216.8" cy="390.6" r="1.9"/><circle cx="1215.7" cy="404.6" r="1.9"/><circle cx="1207.8" cy="367.4" r="1.9"/><circle cx="1209.6" cy="412.0" r="1.9"/><circle cx="1214.8" cy="417.6" r="1.9"/><circle cx="1201.5" cy="394.7" r="1.9"/><circle cx="1208.8" cy="401.4" r="1.9"/><circle cx="1207.1" cy="415.4" r="1.9"/><circle cx="1215.3" cy="395.1" r="1.9"/><circle cx="1216.4" cy="381.6" r="1.9"/><circle cx="1202.7" cy="426.6" r="1.9"/><circle cx="1216.8" cy="380.1" r="1.9"/></g>
<line x1="1209.5" y1="363.7" x2="1209.5" y2="386.3" stroke="#2a2a44" stroke-width="1.1"/>
<line x1="1209.5" y1="412.4" x2="1209.5" y2="439.6" stroke="#2a2a44" stroke-width="1.1"/>
<path d="M1201.8,386.3 L1217.2,386.3 L1217.2,394.5 L1213.3,402.3 L1217.2,410.1 L1217.2,412.4 L1201.8,412.4 L1201.8,410.1 L1205.7,402.3 L1201.8,394.5 Z" fill="#8581c4" fill-opacity="0.35" stroke="#2a2a44" stroke-width="1.1"/>
<line x1="1205.7" y1="402.3" x2="1213.3" y2="402.3" stroke="#2a2a44" stroke-width="1.1"/>
<circle cx="1201.8" cy="402.0" r="4.2" fill="#db88ca"/>
<path d="M1267.7,353.6 L1271.3,353.6 L1271.5,354.5 L1271.6,355.4 L1271.8,356.3 L1272.0,357.2 L1272.1,358.2 L1272.3,359.1 L1272.5,360.0 L1272.7,360.9 L1272.9,361.8 L1273.1,362.7 L1273.3,363.6 L1273.5,364.6 L1273.7,365.5 L1273.9,366.4 L1274.1,367.3 L1274.3,368.2 L1274.5,369.1 L1274.8,370.0 L1275.0,370.9 L1275.2,371.9 L1275.4,372.8 L1275.7,373.7 L1275.9,374.6 L1276.1,375.5 L1276.3,376.4 L1276.6,377.3 L1276.8,378.2 L1277.0,379.2 L1277.3,380.1 L1277.5,381.0 L1277.7,381.9 L1277.9,382.8 L1278.2,383.7 L1278.4,384.6 L1278.6,385.5 L1278.8,386.5 L1279.0,387.4 L1279.2,388.3 L1279.4,389.2 L1279.6,390.1 L1279.8,391.0 L1280.0,391.9 L1280.2,392.8 L1280.4,393.8 L1280.5,394.7 L1280.7,395.6 L1280.8,396.5 L1281.0,397.4 L1281.1,398.3 L1281.3,399.2 L1281.4,400.1 L1281.5,401.1 L1281.6,402.0 L1281.7,402.9 L1281.8,403.8 L1281.9,404.7 L1282.0,405.6 L1282.0,406.5 L1282.1,407.4 L1282.1,408.4 L1282.2,409.3 L1282.2,410.2 L1282.2,411.1 L1282.2,412.0 L1282.2,412.9 L1282.2,413.8 L1282.1,414.7 L1282.0,415.7 L1282.0,416.6 L1281.9,417.5 L1281.7,418.4 L1281.6,419.3 L1281.4,420.2 L1281.3,421.1 L1281.1,422.0 L1280.9,423.0 L1280.7,423.9 L1280.4,424.8 L1280.2,425.7 L1279.9,426.6 L1267.7,426.6 Z" fill="#6a52aa" stroke="#3a3683" stroke-width="0.9"/>
<g fill="#8a7ab8" fill-opacity="0.5"><circle cx="1255.9" cy="354.6" r="1.9"/><circle cx="1260.7" cy="425.6" r="1.9"/><circle cx="1258.5" cy="377.7" r="1.9"/><circle cx="1258.1" cy="358.0" r="1.9"/><circle cx="1251.0" cy="413.1" r="1.9"/><circle cx="1259.0" cy="420.5" r="1.9"/><circle cx="1264.4" cy="410.7" r="1.9"/><circle cx="1250.7" cy="421.7" r="1.9"/><circle cx="1265.3" cy="404.4" r="1.9"/><circle cx="1259.5" cy="413.9" r="1.9"/><circle cx="1256.4" cy="383.9" r="1.9"/><circle cx="1254.6" cy="419.8" r="1.9"/><circle cx="1258.8" cy="415.1" r="1.9"/><circle cx="1260.5" cy="413.1" r="1.9"/><circle cx="1256.2" cy="420.4" r="1.9"/><circle cx="1261.2" cy="362.5" r="1.9"/><circle cx="1259.3" cy="404.7" r="1.9"/><circle cx="1255.7" cy="422.5" r="1.9"/><circle cx="1264.1" cy="393.9" r="1.9"/><circle cx="1252.8" cy="398.1" r="1.9"/><circle cx="1254.9" cy="403.6" r="1.9"/><circle cx="1265.5" cy="413.0" r="1.9"/><circle cx="1265.2" cy="389.9" r="1.9"/><circle cx="1257.1" cy="390.2" r="1.9"/><circle cx="1256.4" cy="389.0" r="1.9"/><circle cx="1254.4" cy="412.9" r="1.9"/><circle cx="1257.3" cy="401.3" r="1.9"/><circle cx="1262.6" cy="419.8" r="1.9"/><circle cx="1262.2" cy="404.6" r="1.9"/><circle cx="1260.8" cy="408.8" r="1.9"/></g>
<line x1="1258.1" y1="353.6" x2="1258.1" y2="384.1" stroke="#2a2440" stroke-width="1.1"/>
<line x1="1258.1" y1="413.3" x2="1258.1" y2="426.6" stroke="#2a2440" stroke-width="1.1"/>
<path d="M1250.4,384.1 L1265.8,384.1 L1265.8,394.2 L1261.9,403.0 L1265.8,411.8 L1265.8,413.3 L1250.4,413.3 L1250.4,411.8 L1254.2,403.0 L1250.4,394.2 Z" fill="#6a52aa" fill-opacity="0.35" stroke="#2a2440" stroke-width="1.1"/>
<line x1="1254.2" y1="403.0" x2="1261.9" y2="403.0" stroke="#2a2440" stroke-width="1.1"/>
<path d="M1088.0,126.1 L1088.0,118.7 L1207.1,118.7 L1207.1,126.1 M1063.1,126.1 L1111.9,126.1 M1149.2,126.1 L1257.7,126.1" fill="none" stroke="#484848" stroke-width="1.1"/>
<text transform="translate(1135.7,105.9) scale(1,0.85)" x="0" y="15.0" font-size="27.5" stroke="#111" stroke-width="0.45" text-anchor="middle" fill="#111">***</text>
<path d="M952.4,155.0 L952.4,148.0 L1087.3,148.0 L1087.3,155.0 M1063.1,155.0 L1111.9,155.0" fill="none" stroke="#484848" stroke-width="1.1"/>
<text transform="translate(1007.4,136.0) scale(1,0.85)" x="0" y="15.0" font-size="27.5" stroke="#111" stroke-width="0.45" text-anchor="middle" fill="#111">***</text>
<path d="M1014.0,191.0 L1014.0,183.6 L1088.8,183.6 L1088.8,191.0 M1063.1,191.0 L1111.9,191.0" fill="none" stroke="#484848" stroke-width="1.1"/>
<text transform="translate(1051.4,170.8) scale(1,0.85)" x="0" y="15.0" font-size="27.5" stroke="#111" stroke-width="0.45" text-anchor="middle" fill="#111">***</text>
<path d="M1063.1,230.5 L1063.1,223.2 L1109.3,223.2 L1109.3,230.5" fill="none" stroke="#484848" stroke-width="1.1"/>
<text transform="translate(1086.2,211.1) scale(1,0.85)" x="0" y="15.0" font-size="27.5" stroke="#111" stroke-width="0.45" text-anchor="middle" fill="#111">***</text>
<path d="M968.3,299.9 L968.3,291.4 L1014.2,291.4 L1014.2,299.9" fill="none" stroke="#484848" stroke-width="1.1"/>
<text transform="translate(991.3,279.5) scale(1,0.85)" x="0" y="15.0" font-size="27.5" stroke="#111" stroke-width="0.45" text-anchor="middle" fill="#111">**</text>
<text x="1550.4" y="36" font-size="37.5" text-anchor="middle" fill="#1a1a1a" stroke="#1a1a1a" stroke-width="0.35">pT217/T217</text>
<text transform="translate(1327.7,289.4) rotate(-90)" font-size="20.7" font-weight="bold" text-anchor="middle" fill="#1a1a1a">pT217/T217 (%)</text>
<text x="1561.4" y="568.7" font-size="20" font-weight="bold" text-anchor="middle" fill="#1a1a1a">Diagnosis</text>
<path d="M1373.2,108.5 L1373.2,468.5 L1727.6,468.5" fill="none" stroke="#444" stroke-width="1.1"/>
<line x1="1370.7" y1="464.0" x2="1373.2" y2="464.0" stroke="#444" stroke-width="1"/>
<line x1="1370.7" y1="339.3" x2="1373.2" y2="339.3" stroke="#444" stroke-width="1"/>
<line x1="1370.7" y1="212.9" x2="1373.2" y2="212.9" stroke="#444" stroke-width="1"/>
<text x="1363.7" y="471.1" font-size="17.5" text-anchor="end" fill="#1a1a1a" stroke="#1a1a1a" stroke-width="0.2">0</text>
<text x="1363.7" y="399.8" font-size="17.5" text-anchor="end" fill="#1a1a1a" stroke="#1a1a1a" stroke-width="0.2">5</text>
<text x="1363.7" y="325.0" font-size="17.5" text-anchor="end" fill="#1a1a1a" stroke="#1a1a1a" stroke-width="0.2">10</text>
<text x="1363.7" y="250.8" font-size="17.5" text-anchor="end" fill="#1a1a1a" stroke="#1a1a1a" stroke-width="0.2">15</text>
<text x="1363.7" y="177.0" font-size="17.5" text-anchor="end" fill="#1a1a1a" stroke="#1a1a1a" stroke-width="0.2">20</text>
<line x1="1402.5" y1="468.5" x2="1402.5" y2="471.0" stroke="#444" stroke-width="1"/>
<text transform="translate(1411.6,483.5) rotate(-45)" font-size="17.6" text-anchor="end" fill="#1a1a1a" stroke="#1a1a1a" stroke-width="0.2">CU-</text>
<line x1="1451.2" y1="468.5" x2="1451.2" y2="471.0" stroke="#444" stroke-width="1"/>
<text transform="translate(1467.0,483.6) rotate(-45)" font-size="17.6" text-anchor="end" fill="#1a1a1a" stroke="#1a1a1a" stroke-width="0.2">CU<tspan font-size="18" dx="-0.46" dy="0.6" stroke="#1a1a1a" stroke-width="0.45">+</tspan></text>
<line x1="1500.4" y1="468.5" x2="1500.4" y2="471.0" stroke="#444" stroke-width="1"/>
<text transform="translate(1516.2,483.6) rotate(-45)" font-size="17.6" text-anchor="end" fill="#1a1a1a" stroke="#1a1a1a" stroke-width="0.2">MCI<tspan font-size="18" dx="-0.46" dy="0.6" stroke="#1a1a1a" stroke-width="0.45">+</tspan></text>
<line x1="1549.4" y1="468.5" x2="1549.4" y2="471.0" stroke="#444" stroke-width="1"/>
<text transform="translate(1565.2,483.6) rotate(-45)" font-size="17.6" text-anchor="end" fill="#1a1a1a" stroke="#1a1a1a" stroke-width="0.2">AD<tspan font-size="18" dx="-0.46" dy="0.6" stroke="#1a1a1a" stroke-width="0.45">+</tspan></text>
<line x1="1598.2" y1="468.5" x2="1598.2" y2="471.0" stroke="#444" stroke-width="1"/>
<text transform="translate(1617.2,483.8) rotate(-45)" font-size="17.6" text-anchor="end" fill="#1a1a1a" stroke="#1a1a1a" stroke-width="0.2">PSP/CBS</text>
<line x1="1646.8" y1="468.5" x2="1646.8" y2="471.0" stroke="#444" stroke-width="1"/>
<text transform="translate(1665.8,483.8) rotate(-45)" font-size="17.6" text-anchor="end" fill="#1a1a1a" stroke="#1a1a1a" stroke-width="0.2">FTD/PPA</text>
<line x1="1695.6" y1="468.5" x2="1695.6" y2="471.0" stroke="#444" stroke-width="1"/>
<text transform="translate(1714.6,483.8) rotate(-45)" font-size="17.6" text-anchor="end" fill="#1a1a1a" stroke="#1a1a1a" stroke-width="0.2">PD/PDD</text>
<path d="M1411.9,369.4 L1412.9,369.4 L1412.9,370.3 L1412.9,371.2 L1412.9,372.1 L1412.9,373.0 L1412.9,373.9 L1412.9,374.8 L1412.9,375.7 L1412.9,376.6 L1412.9,377.5 L1412.9,378.4 L1412.9,379.3 L1412.9,380.2 L1412.9,381.1 L1412.9,382.1 L1412.9,383.0 L1412.9,383.9 L1412.9,384.8 L1412.9,385.7 L1412.9,386.6 L1412.9,387.5 L1412.9,388.4 L1412.9,389.3 L1412.9,390.2 L1412.9,391.1 L1412.9,392.0 L1412.9,392.9 L1412.9,393.8 L1412.9,394.7 L1412.9,395.6 L1412.9,396.5 L1412.9,397.4 L1412.9,398.3 L1412.9,399.2 L1412.9,400.1 L1412.9,401.0 L1412.9,401.9 L1412.9,402.8 L1412.9,403.7 L1412.9,404.6 L1412.9,405.5 L1412.9,406.5 L1412.9,407.4 L1412.9,408.3 L1412.9,409.2 L1412.9,410.1 L1412.9,411.0 L1412.9,411.9 L1412.9,412.8 L1412.9,413.7 L1412.9,414.6 L1412.9,415.5 L1412.9,416.4 L1412.9,417.3 L1412.9,418.2 L1412.9,419.1 L1412.9,420.0 L1413.4,420.9 L1414.2,421.8 L1415.2,422.7 L1416.6,423.6 L1418.2,424.5 L1420.2,425.4 L1422.5,426.3 L1424.9,427.2 L1427.4,428.1 L1429.7,429.0 L1431.7,430.0 L1433.3,430.9 L1434.3,431.8 L1434.5,432.7 L1433.7,433.6 L1431.9,434.5 L1429.4,435.4 L1426.4,436.3 L1423.3,437.2 L1420.4,438.1 L1418.0,439.0 L1416.0,439.9 L1414.5,440.8 L1413.5,441.7 L1411.9,441.7 Z" fill="#9bd6cc" stroke="#9bd6cc" stroke-width="0.6"/>
<g fill="#7fbfb3" fill-opacity="0.5"><circle cx="1406.5" cy="370.4" r="1.9"/><circle cx="1398.9" cy="440.7" r="1.9"/><circle cx="1403.0" cy="434.0" r="1.9"/><circle cx="1398.7" cy="433.2" r="1.9"/><circle cx="1407.7" cy="434.3" r="1.9"/><circle cx="1409.5" cy="427.1" r="1.9"/><circle cx="1395.6" cy="432.0" r="1.9"/><circle cx="1405.3" cy="423.4" r="1.9"/><circle cx="1396.3" cy="433.7" r="1.9"/><circle cx="1410.0" cy="433.2" r="1.9"/><circle cx="1406.9" cy="424.0" r="1.9"/><circle cx="1406.4" cy="434.1" r="1.9"/><circle cx="1407.4" cy="432.4" r="1.9"/><circle cx="1408.4" cy="431.8" r="1.9"/><circle cx="1405.2" cy="425.7" r="1.9"/><circle cx="1399.9" cy="434.6" r="1.9"/><circle cx="1402.5" cy="429.7" r="1.9"/><circle cx="1403.7" cy="438.2" r="1.9"/><circle cx="1398.9" cy="433.0" r="1.9"/><circle cx="1407.9" cy="439.4" r="1.9"/><circle cx="1406.6" cy="430.4" r="1.9"/><circle cx="1408.9" cy="421.6" r="1.9"/><circle cx="1404.9" cy="439.7" r="1.9"/><circle cx="1405.8" cy="434.6" r="1.9"/><circle cx="1398.9" cy="424.9" r="1.9"/><circle cx="1407.7" cy="430.2" r="1.9"/><circle cx="1398.1" cy="431.9" r="1.9"/><circle cx="1410.1" cy="430.4" r="1.9"/><circle cx="1405.7" cy="435.7" r="1.9"/><circle cx="1399.7" cy="430.8" r="1.9"/><circle cx="1396.7" cy="430.3" r="1.9"/><circle cx="1401.6" cy="431.4" r="1.9"/><circle cx="1395.1" cy="422.7" r="1.9"/><circle cx="1398.1" cy="434.5" r="1.9"/><circle cx="1399.8" cy="427.2" r="1.9"/><circle cx="1407.2" cy="428.0" r="1.9"/><circle cx="1407.4" cy="430.8" r="1.9"/><circle cx="1406.9" cy="428.7" r="1.9"/><circle cx="1401.3" cy="430.0" r="1.9"/><circle cx="1406.1" cy="430.3" r="1.9"/><circle cx="1402.7" cy="426.8" r="1.9"/><circle cx="1408.4" cy="427.9" r="1.9"/><circle cx="1409.9" cy="440.3" r="1.9"/><circle cx="1395.6" cy="434.3" r="1.9"/><circle cx="1401.8" cy="431.6" r="1.9"/><circle cx="1401.8" cy="423.9" r="1.9"/><circle cx="1400.9" cy="431.8" r="1.9"/><circle cx="1406.3" cy="431.8" r="1.9"/><circle cx="1397.7" cy="426.5" r="1.9"/><circle cx="1398.7" cy="428.1" r="1.9"/><circle cx="1410.1" cy="423.9" r="1.9"/><circle cx="1409.2" cy="441.1" r="1.9"/><circle cx="1395.5" cy="438.7" r="1.9"/><circle cx="1408.3" cy="428.7" r="1.9"/><circle cx="1398.7" cy="437.8" r="1.9"/></g>
<line x1="1402.5" y1="420.3" x2="1402.5" y2="428.7" stroke="#234f4a" stroke-width="1.1"/>
<line x1="1402.5" y1="434.3" x2="1402.5" y2="441.7" stroke="#234f4a" stroke-width="1.1"/>
<path d="M1394.8,428.7 L1410.2,428.7 L1410.2,429.8 L1406.3,431.2 L1410.2,432.6 L1410.2,434.3 L1394.8,434.3 L1394.8,432.6 L1398.7,431.2 L1394.8,429.8 Z" fill="#9bd6cc" fill-opacity="0.35" stroke="#234f4a" stroke-width="1.1"/>
<line x1="1398.7" y1="431.2" x2="1406.3" y2="431.2" stroke="#234f4a" stroke-width="1.1"/>
<circle cx="1396.1" cy="369.8" r="4.2" fill="#db88ca"/>
<path d="M1460.0,289.7 L1461.2,289.7 L1461.2,291.5 L1461.2,293.3 L1461.2,295.1 L1461.2,296.9 L1461.2,298.7 L1461.3,300.5 L1461.4,302.4 L1461.4,304.2 L1461.5,306.0 L1461.6,307.8 L1461.6,309.6 L1461.7,311.4 L1461.8,313.2 L1461.9,315.0 L1461.9,316.8 L1462.0,318.6 L1462.1,320.4 L1462.2,322.2 L1462.2,324.0 L1462.3,325.9 L1462.4,327.7 L1462.5,329.5 L1462.6,331.3 L1462.6,333.1 L1462.7,334.9 L1462.8,336.7 L1462.9,338.5 L1463.0,340.3 L1463.1,342.1 L1463.1,343.9 L1463.2,345.7 L1463.3,347.5 L1463.4,349.3 L1463.4,351.2 L1463.5,353.0 L1463.6,354.8 L1463.7,356.6 L1463.7,358.4 L1463.8,360.2 L1463.9,362.0 L1463.9,363.8 L1464.0,365.6 L1464.0,367.4 L1464.1,369.2 L1464.2,371.0 L1464.2,372.8 L1464.2,374.7 L1464.3,376.5 L1464.3,378.3 L1464.4,380.1 L1464.4,381.9 L1464.4,383.7 L1464.4,385.5 L1464.5,387.3 L1464.5,389.1 L1464.5,390.9 L1464.5,392.7 L1464.5,394.5 L1464.5,396.3 L1464.5,398.1 L1464.5,400.0 L1464.5,401.8 L1464.4,403.6 L1464.4,405.4 L1464.4,407.2 L1464.3,409.0 L1464.3,410.8 L1464.2,412.6 L1464.2,414.4 L1464.1,416.2 L1464.0,418.0 L1464.0,419.8 L1463.9,421.6 L1463.8,423.5 L1463.7,425.3 L1463.7,427.1 L1463.6,428.9 L1463.5,430.7 L1463.4,432.5 L1463.3,434.3 L1460.0,434.3 Z" fill="#f2f5c2" stroke="#f2f5c2" stroke-width="0.6"/>
<g fill="#e9e9a8" fill-opacity="0.5"><circle cx="1448.9" cy="290.7" r="1.9"/><circle cx="1445.8" cy="433.3" r="1.9"/><circle cx="1448.1" cy="324.3" r="1.9"/><circle cx="1448.9" cy="382.6" r="1.9"/><circle cx="1450.5" cy="429.6" r="1.9"/><circle cx="1445.7" cy="381.0" r="1.9"/><circle cx="1459.0" cy="423.0" r="1.9"/><circle cx="1450.8" cy="429.3" r="1.9"/><circle cx="1444.9" cy="418.8" r="1.9"/><circle cx="1446.5" cy="359.9" r="1.9"/><circle cx="1457.7" cy="402.6" r="1.9"/><circle cx="1458.9" cy="328.3" r="1.9"/><circle cx="1449.3" cy="413.9" r="1.9"/><circle cx="1445.3" cy="430.4" r="1.9"/><circle cx="1452.6" cy="383.5" r="1.9"/><circle cx="1456.5" cy="402.4" r="1.9"/><circle cx="1443.9" cy="422.9" r="1.9"/><circle cx="1444.3" cy="424.1" r="1.9"/><circle cx="1457.4" cy="412.2" r="1.9"/><circle cx="1446.5" cy="412.5" r="1.9"/><circle cx="1449.3" cy="400.0" r="1.9"/><circle cx="1445.2" cy="392.5" r="1.9"/><circle cx="1452.6" cy="389.3" r="1.9"/><circle cx="1450.2" cy="346.9" r="1.9"/><circle cx="1444.1" cy="395.7" r="1.9"/><circle cx="1454.0" cy="408.7" r="1.9"/><circle cx="1453.6" cy="372.8" r="1.9"/><circle cx="1445.5" cy="361.9" r="1.9"/><circle cx="1444.2" cy="425.3" r="1.9"/><circle cx="1446.9" cy="402.0" r="1.9"/><circle cx="1456.4" cy="414.8" r="1.9"/><circle cx="1443.8" cy="344.4" r="1.9"/><circle cx="1456.0" cy="401.7" r="1.9"/><circle cx="1447.0" cy="379.6" r="1.9"/><circle cx="1454.0" cy="419.6" r="1.9"/><circle cx="1457.9" cy="426.1" r="1.9"/><circle cx="1443.5" cy="404.7" r="1.9"/><circle cx="1458.8" cy="418.6" r="1.9"/><circle cx="1456.1" cy="374.7" r="1.9"/><circle cx="1444.9" cy="390.6" r="1.9"/></g>
<line x1="1451.2" y1="323.6" x2="1451.2" y2="378.4" stroke="#333" stroke-width="1.1"/>
<line x1="1451.2" y1="418.2" x2="1451.2" y2="434.3" stroke="#333" stroke-width="1.1"/>
<path d="M1443.5,378.4 L1458.9,378.4 L1458.9,394.7 L1455.0,402.3 L1458.9,409.9 L1458.9,418.2 L1443.5,418.2 L1443.5,409.9 L1447.4,402.3 L1443.5,394.7 Z" fill="#f2f5c2" fill-opacity="0.35" stroke="#333" stroke-width="1.1"/>
<line x1="1447.4" y1="402.3" x2="1455.0" y2="402.3" stroke="#333" stroke-width="1.1"/>
<path d="M1509.8,252.0 L1511.3,252.0 L1511.3,254.3 L1511.3,256.5 L1511.3,258.8 L1511.3,261.0 L1511.3,263.3 L1511.3,265.5 L1511.3,267.8 L1511.4,270.0 L1511.4,272.3 L1511.5,274.5 L1511.5,276.8 L1511.6,279.0 L1511.6,281.3 L1511.7,283.5 L1511.8,285.8 L1511.8,288.0 L1511.9,290.3 L1511.9,292.5 L1512.0,294.8 L1512.0,297.1 L1512.0,299.3 L1512.1,301.6 L1512.1,303.8 L1512.2,306.1 L1512.2,308.3 L1512.3,310.6 L1512.3,312.8 L1512.4,315.1 L1512.4,317.3 L1512.4,319.6 L1512.5,321.8 L1512.5,324.1 L1512.5,326.3 L1512.6,328.6 L1512.6,330.8 L1512.6,333.1 L1512.7,335.3 L1512.7,337.6 L1512.7,339.8 L1512.7,342.1 L1512.7,344.4 L1512.8,346.6 L1512.8,348.9 L1512.8,351.1 L1512.8,353.4 L1512.8,355.6 L1512.8,357.9 L1512.8,360.1 L1512.8,362.4 L1512.8,364.6 L1512.8,366.9 L1512.8,369.1 L1512.8,371.4 L1512.7,373.6 L1512.7,375.9 L1512.7,378.1 L1512.7,380.4 L1512.6,382.6 L1512.6,384.9 L1512.6,387.1 L1512.5,389.4 L1512.5,391.7 L1512.5,393.9 L1512.4,396.2 L1512.4,398.4 L1512.3,400.7 L1512.3,402.9 L1512.2,405.2 L1512.2,407.4 L1512.1,409.7 L1512.1,411.9 L1512.0,414.2 L1512.0,416.4 L1511.9,418.7 L1511.9,420.9 L1511.8,423.2 L1511.7,425.4 L1511.7,427.7 L1511.6,429.9 L1511.6,432.2 L1509.8,432.2 Z" fill="#f8ba7c" stroke="#f8ba7c" stroke-width="0.6"/>
<g fill="#f0a868" fill-opacity="0.5"><circle cx="1505.0" cy="253.0" r="1.9"/><circle cx="1506.6" cy="431.2" r="1.9"/><circle cx="1506.0" cy="394.0" r="1.9"/><circle cx="1500.4" cy="274.7" r="1.9"/><circle cx="1505.2" cy="298.7" r="1.9"/><circle cx="1501.1" cy="336.1" r="1.9"/><circle cx="1492.5" cy="378.4" r="1.9"/><circle cx="1505.7" cy="394.1" r="1.9"/><circle cx="1494.4" cy="405.4" r="1.9"/><circle cx="1499.3" cy="327.7" r="1.9"/><circle cx="1501.1" cy="367.4" r="1.9"/><circle cx="1504.1" cy="370.6" r="1.9"/><circle cx="1494.0" cy="424.5" r="1.9"/><circle cx="1504.6" cy="376.0" r="1.9"/><circle cx="1508.1" cy="354.9" r="1.9"/><circle cx="1493.6" cy="394.0" r="1.9"/><circle cx="1502.0" cy="357.8" r="1.9"/><circle cx="1498.9" cy="311.1" r="1.9"/><circle cx="1507.1" cy="293.4" r="1.9"/><circle cx="1507.0" cy="421.6" r="1.9"/><circle cx="1492.9" cy="417.3" r="1.9"/><circle cx="1499.3" cy="271.3" r="1.9"/><circle cx="1507.5" cy="396.5" r="1.9"/><circle cx="1496.4" cy="386.4" r="1.9"/><circle cx="1497.6" cy="377.2" r="1.9"/><circle cx="1508.1" cy="349.3" r="1.9"/><circle cx="1504.6" cy="261.3" r="1.9"/><circle cx="1504.4" cy="433.3" r="1.9"/><circle cx="1499.0" cy="374.6" r="1.9"/><circle cx="1506.6" cy="342.1" r="1.9"/><circle cx="1504.7" cy="400.7" r="1.9"/><circle cx="1505.1" cy="426.9" r="1.9"/><circle cx="1505.6" cy="332.1" r="1.9"/><circle cx="1498.3" cy="384.4" r="1.9"/><circle cx="1495.0" cy="257.0" r="1.9"/><circle cx="1501.0" cy="293.3" r="1.9"/><circle cx="1507.0" cy="403.4" r="1.9"/><circle cx="1493.8" cy="256.8" r="1.9"/><circle cx="1506.9" cy="344.0" r="1.9"/><circle cx="1503.9" cy="343.1" r="1.9"/><circle cx="1499.4" cy="401.0" r="1.9"/><circle cx="1504.3" cy="289.1" r="1.9"/><circle cx="1496.5" cy="398.3" r="1.9"/><circle cx="1495.7" cy="357.7" r="1.9"/><circle cx="1502.7" cy="393.1" r="1.9"/><circle cx="1502.0" cy="292.7" r="1.9"/><circle cx="1493.4" cy="322.1" r="1.9"/><circle cx="1498.2" cy="334.8" r="1.9"/><circle cx="1500.3" cy="338.1" r="1.9"/><circle cx="1496.8" cy="278.1" r="1.9"/><circle cx="1494.0" cy="396.5" r="1.9"/><circle cx="1503.4" cy="378.8" r="1.9"/><circle cx="1493.9" cy="387.0" r="1.9"/><circle cx="1505.7" cy="401.1" r="1.9"/><circle cx="1496.0" cy="362.4" r="1.9"/><circle cx="1503.1" cy="421.9" r="1.9"/><circle cx="1495.4" cy="368.5" r="1.9"/><circle cx="1502.9" cy="396.1" r="1.9"/><circle cx="1495.3" cy="292.2" r="1.9"/><circle cx="1508.1" cy="337.6" r="1.9"/><circle cx="1501.5" cy="385.0" r="1.9"/><circle cx="1492.6" cy="336.5" r="1.9"/><circle cx="1507.8" cy="395.5" r="1.9"/><circle cx="1494.6" cy="386.8" r="1.9"/><circle cx="1498.3" cy="398.4" r="1.9"/><circle cx="1496.4" cy="331.9" r="1.9"/><circle cx="1498.5" cy="399.3" r="1.9"/><circle cx="1495.5" cy="397.6" r="1.9"/><circle cx="1498.2" cy="347.3" r="1.9"/><circle cx="1506.3" cy="309.7" r="1.9"/><circle cx="1505.8" cy="356.8" r="1.9"/><circle cx="1499.4" cy="335.3" r="1.9"/><circle cx="1503.8" cy="349.9" r="1.9"/><circle cx="1500.1" cy="338.3" r="1.9"/><circle cx="1499.4" cy="342.1" r="1.9"/><circle cx="1498.2" cy="336.6" r="1.9"/><circle cx="1501.3" cy="392.4" r="1.9"/><circle cx="1504.3" cy="341.8" r="1.9"/><circle cx="1507.8" cy="268.9" r="1.9"/><circle cx="1507.5" cy="395.2" r="1.9"/><circle cx="1495.1" cy="326.0" r="1.9"/><circle cx="1493.7" cy="397.3" r="1.9"/><circle cx="1499.8" cy="392.0" r="1.9"/><circle cx="1499.6" cy="394.6" r="1.9"/><circle cx="1503.0" cy="373.5" r="1.9"/><circle cx="1508.1" cy="371.3" r="1.9"/><circle cx="1492.6" cy="372.8" r="1.9"/><circle cx="1492.8" cy="306.1" r="1.9"/><circle cx="1501.0" cy="387.3" r="1.9"/><circle cx="1502.1" cy="351.2" r="1.9"/><circle cx="1505.3" cy="330.6" r="1.9"/><circle cx="1506.1" cy="273.8" r="1.9"/><circle cx="1495.3" cy="391.5" r="1.9"/><circle cx="1506.8" cy="354.6" r="1.9"/><circle cx="1493.0" cy="341.7" r="1.9"/><circle cx="1495.5" cy="371.8" r="1.9"/><circle cx="1507.4" cy="410.8" r="1.9"/><circle cx="1492.6" cy="385.7" r="1.9"/><circle cx="1500.0" cy="315.3" r="1.9"/><circle cx="1500.3" cy="259.3" r="1.9"/></g>
<line x1="1500.4" y1="252.6" x2="1500.4" y2="334.3" stroke="#3a2a1e" stroke-width="1.1"/>
<line x1="1500.4" y1="394.0" x2="1500.4" y2="433.7" stroke="#3a2a1e" stroke-width="1.1"/>
<path d="M1492.7,334.3 L1508.1,334.3 L1508.1,359.2 L1504.2,368.2 L1508.1,377.2 L1508.1,394.0 L1492.7,394.0 L1492.7,377.2 L1496.6,368.2 L1492.7,359.2 Z" fill="#f8ba7c" fill-opacity="0.35" stroke="#3a2a1e" stroke-width="1.1"/>
<line x1="1496.6" y1="368.2" x2="1504.2" y2="368.2" stroke="#3a2a1e" stroke-width="1.1"/>
<path d="M1557.9,234.7 L1559.4,234.7 L1559.4,236.7 L1559.5,238.6 L1559.5,240.6 L1559.5,242.6 L1559.6,244.6 L1559.6,246.5 L1559.6,248.5 L1559.7,250.5 L1559.7,252.5 L1559.8,254.4 L1559.8,256.4 L1559.8,258.4 L1559.9,260.3 L1559.9,262.3 L1559.9,264.3 L1560.0,266.3 L1560.0,268.2 L1560.0,270.2 L1560.1,272.2 L1560.1,274.1 L1560.1,276.1 L1560.2,278.1 L1560.2,280.1 L1560.2,282.0 L1560.2,284.0 L1560.3,286.0 L1560.3,288.0 L1560.3,289.9 L1560.3,291.9 L1560.4,293.9 L1560.4,295.8 L1560.4,297.8 L1560.4,299.8 L1560.4,301.8 L1560.4,303.7 L1560.5,305.7 L1560.5,307.7 L1560.5,309.7 L1560.5,311.6 L1560.5,313.6 L1560.5,315.6 L1560.5,317.5 L1560.5,319.5 L1560.5,321.5 L1560.5,323.5 L1560.5,325.4 L1560.5,327.4 L1560.5,329.4 L1560.5,331.4 L1560.5,333.3 L1560.4,335.3 L1560.4,337.3 L1560.4,339.2 L1560.4,341.2 L1560.4,343.2 L1560.3,345.2 L1560.3,347.1 L1560.3,349.1 L1560.3,351.1 L1560.2,353.0 L1560.2,355.0 L1560.2,357.0 L1560.1,359.0 L1560.1,360.9 L1560.1,362.9 L1560.0,364.9 L1560.0,366.9 L1559.9,368.8 L1559.9,370.8 L1559.9,372.8 L1559.8,374.7 L1559.8,376.7 L1559.7,378.7 L1559.7,380.7 L1559.6,382.6 L1559.6,384.6 L1559.6,386.6 L1559.5,388.6 L1559.5,390.5 L1559.4,392.5 L1557.9,392.5 Z" fill="#f8907f" stroke="#f8907f" stroke-width="0.6"/>
<g fill="#ee7a72" fill-opacity="0.5"><circle cx="1557.3" cy="235.7" r="1.9"/><circle cx="1551.3" cy="391.5" r="1.9"/><circle cx="1544.6" cy="314.5" r="1.9"/><circle cx="1545.0" cy="363.1" r="1.9"/><circle cx="1547.9" cy="239.6" r="1.9"/><circle cx="1541.8" cy="331.6" r="1.9"/><circle cx="1554.6" cy="321.3" r="1.9"/><circle cx="1545.5" cy="309.7" r="1.9"/><circle cx="1552.8" cy="329.5" r="1.9"/><circle cx="1543.3" cy="302.0" r="1.9"/><circle cx="1543.6" cy="240.8" r="1.9"/><circle cx="1555.6" cy="273.8" r="1.9"/><circle cx="1544.1" cy="301.8" r="1.9"/><circle cx="1547.9" cy="281.4" r="1.9"/><circle cx="1555.2" cy="366.3" r="1.9"/><circle cx="1556.5" cy="240.0" r="1.9"/><circle cx="1556.0" cy="319.1" r="1.9"/><circle cx="1546.0" cy="297.3" r="1.9"/><circle cx="1555.3" cy="337.7" r="1.9"/><circle cx="1555.0" cy="328.8" r="1.9"/><circle cx="1549.6" cy="365.8" r="1.9"/><circle cx="1551.9" cy="302.0" r="1.9"/><circle cx="1555.8" cy="258.3" r="1.9"/><circle cx="1542.6" cy="240.5" r="1.9"/><circle cx="1544.3" cy="360.4" r="1.9"/><circle cx="1545.2" cy="290.7" r="1.9"/><circle cx="1552.2" cy="328.7" r="1.9"/><circle cx="1551.4" cy="312.5" r="1.9"/><circle cx="1554.2" cy="331.7" r="1.9"/><circle cx="1552.2" cy="306.9" r="1.9"/><circle cx="1544.3" cy="269.5" r="1.9"/><circle cx="1545.1" cy="236.2" r="1.9"/><circle cx="1544.7" cy="337.5" r="1.9"/><circle cx="1555.8" cy="337.6" r="1.9"/><circle cx="1547.2" cy="312.4" r="1.9"/><circle cx="1543.4" cy="260.9" r="1.9"/><circle cx="1545.7" cy="301.4" r="1.9"/><circle cx="1547.9" cy="299.8" r="1.9"/><circle cx="1550.7" cy="319.6" r="1.9"/><circle cx="1547.1" cy="237.7" r="1.9"/><circle cx="1544.2" cy="282.3" r="1.9"/><circle cx="1552.2" cy="318.4" r="1.9"/><circle cx="1556.8" cy="304.7" r="1.9"/><circle cx="1551.7" cy="379.0" r="1.9"/><circle cx="1556.9" cy="265.5" r="1.9"/><circle cx="1546.2" cy="313.1" r="1.9"/><circle cx="1551.0" cy="334.8" r="1.9"/><circle cx="1550.8" cy="382.1" r="1.9"/><circle cx="1550.0" cy="297.2" r="1.9"/><circle cx="1542.5" cy="345.2" r="1.9"/><circle cx="1552.5" cy="300.6" r="1.9"/><circle cx="1545.6" cy="301.8" r="1.9"/><circle cx="1541.7" cy="243.0" r="1.9"/><circle cx="1556.9" cy="316.6" r="1.9"/><circle cx="1549.8" cy="304.0" r="1.9"/><circle cx="1549.1" cy="326.5" r="1.9"/><circle cx="1542.7" cy="319.1" r="1.9"/><circle cx="1551.4" cy="298.8" r="1.9"/><circle cx="1554.1" cy="290.4" r="1.9"/><circle cx="1549.3" cy="348.1" r="1.9"/><circle cx="1550.4" cy="316.5" r="1.9"/><circle cx="1552.5" cy="300.1" r="1.9"/><circle cx="1545.1" cy="332.6" r="1.9"/><circle cx="1542.9" cy="376.4" r="1.9"/><circle cx="1552.7" cy="293.0" r="1.9"/><circle cx="1545.1" cy="375.6" r="1.9"/><circle cx="1550.4" cy="310.9" r="1.9"/><circle cx="1550.7" cy="301.0" r="1.9"/><circle cx="1545.3" cy="310.3" r="1.9"/><circle cx="1549.9" cy="326.6" r="1.9"/><circle cx="1553.0" cy="338.6" r="1.9"/><circle cx="1551.6" cy="303.0" r="1.9"/><circle cx="1555.8" cy="271.7" r="1.9"/><circle cx="1552.0" cy="303.5" r="1.9"/><circle cx="1545.0" cy="321.2" r="1.9"/><circle cx="1552.9" cy="378.3" r="1.9"/><circle cx="1546.4" cy="236.2" r="1.9"/><circle cx="1542.3" cy="332.7" r="1.9"/><circle cx="1542.2" cy="295.8" r="1.9"/><circle cx="1556.3" cy="294.2" r="1.9"/><circle cx="1544.6" cy="354.1" r="1.9"/><circle cx="1549.7" cy="307.6" r="1.9"/><circle cx="1549.9" cy="332.6" r="1.9"/><circle cx="1542.5" cy="339.9" r="1.9"/><circle cx="1545.4" cy="327.9" r="1.9"/><circle cx="1546.5" cy="292.0" r="1.9"/><circle cx="1553.7" cy="332.5" r="1.9"/><circle cx="1556.2" cy="327.1" r="1.9"/><circle cx="1543.1" cy="363.5" r="1.9"/><circle cx="1545.9" cy="331.0" r="1.9"/><circle cx="1556.0" cy="317.6" r="1.9"/><circle cx="1551.3" cy="306.7" r="1.9"/><circle cx="1553.4" cy="319.4" r="1.9"/><circle cx="1542.8" cy="352.8" r="1.9"/><circle cx="1556.8" cy="319.9" r="1.9"/><circle cx="1553.7" cy="303.0" r="1.9"/><circle cx="1542.5" cy="299.1" r="1.9"/><circle cx="1554.7" cy="308.1" r="1.9"/><circle cx="1553.6" cy="300.6" r="1.9"/><circle cx="1543.4" cy="324.9" r="1.9"/><circle cx="1543.3" cy="317.4" r="1.9"/><circle cx="1555.7" cy="333.1" r="1.9"/><circle cx="1556.7" cy="354.7" r="1.9"/><circle cx="1548.8" cy="289.4" r="1.9"/><circle cx="1543.5" cy="263.4" r="1.9"/><circle cx="1543.1" cy="317.1" r="1.9"/><circle cx="1545.4" cy="348.0" r="1.9"/><circle cx="1557.2" cy="327.6" r="1.9"/><circle cx="1546.5" cy="314.9" r="1.9"/><circle cx="1546.9" cy="312.6" r="1.9"/><circle cx="1554.5" cy="305.7" r="1.9"/><circle cx="1541.6" cy="360.7" r="1.9"/><circle cx="1555.8" cy="362.7" r="1.9"/><circle cx="1555.0" cy="239.5" r="1.9"/><circle cx="1547.3" cy="344.9" r="1.9"/><circle cx="1547.5" cy="325.2" r="1.9"/><circle cx="1556.0" cy="301.7" r="1.9"/><circle cx="1555.6" cy="331.0" r="1.9"/><circle cx="1556.1" cy="344.1" r="1.9"/><circle cx="1553.0" cy="391.7" r="1.9"/><circle cx="1545.5" cy="377.2" r="1.9"/><circle cx="1554.8" cy="285.2" r="1.9"/><circle cx="1546.8" cy="308.3" r="1.9"/><circle cx="1554.9" cy="348.3" r="1.9"/><circle cx="1543.6" cy="382.4" r="1.9"/><circle cx="1552.2" cy="372.1" r="1.9"/><circle cx="1555.3" cy="296.5" r="1.9"/><circle cx="1546.8" cy="281.3" r="1.9"/><circle cx="1555.3" cy="374.9" r="1.9"/><circle cx="1545.4" cy="304.1" r="1.9"/></g>
<line x1="1549.4" y1="241.9" x2="1549.4" y2="296.9" stroke="#3a2020" stroke-width="1.1"/>
<line x1="1549.4" y1="338.4" x2="1549.4" y2="392.5" stroke="#3a2020" stroke-width="1.1"/>
<path d="M1541.7,296.9 L1557.1,296.9 L1557.1,311.4 L1553.2,318.0 L1557.1,324.6 L1557.1,338.4 L1541.7,338.4 L1541.7,324.6 L1545.6,318.0 L1541.7,311.4 Z" fill="#f8907f" fill-opacity="0.35" stroke="#3a2020" stroke-width="1.1"/>
<line x1="1545.6" y1="318.0" x2="1553.2" y2="318.0" stroke="#3a2020" stroke-width="1.1"/>
<path d="M1607.6,336.2 L1608.6,336.2 L1608.6,337.6 L1608.6,339.0 L1608.6,340.4 L1608.6,341.8 L1608.6,343.2 L1608.6,344.6 L1608.6,346.0 L1608.6,347.4 L1608.6,348.8 L1608.6,350.2 L1608.6,351.6 L1608.6,353.0 L1608.6,354.4 L1608.6,355.8 L1608.6,357.2 L1608.6,358.6 L1608.6,360.0 L1608.6,361.4 L1608.6,362.8 L1608.6,364.1 L1608.7,365.5 L1608.8,366.9 L1608.9,368.3 L1609.0,369.7 L1609.1,371.1 L1609.2,372.5 L1609.3,373.9 L1609.5,375.3 L1609.6,376.7 L1609.8,378.1 L1609.9,379.5 L1610.1,380.9 L1610.2,382.3 L1610.4,383.7 L1610.6,385.1 L1610.7,386.5 L1610.9,387.9 L1611.1,389.3 L1611.3,390.7 L1611.4,392.1 L1611.6,393.5 L1611.8,394.9 L1612.0,396.3 L1612.1,397.7 L1612.3,399.1 L1612.5,400.5 L1612.6,401.9 L1612.8,403.3 L1612.9,404.7 L1613.1,406.1 L1613.2,407.5 L1613.3,408.9 L1613.4,410.3 L1613.5,411.7 L1613.6,413.1 L1613.7,414.5 L1613.8,415.9 L1613.8,417.3 L1613.9,418.7 L1613.9,420.1 L1613.9,421.4 L1613.9,422.8 L1613.9,424.2 L1613.8,425.6 L1613.7,427.0 L1613.6,428.4 L1613.4,429.8 L1613.3,431.2 L1613.1,432.6 L1612.9,434.0 L1612.6,435.4 L1612.4,436.8 L1612.1,438.2 L1611.9,439.6 L1611.6,441.0 L1611.3,442.4 L1611.1,443.8 L1610.8,445.2 L1610.6,446.6 L1610.3,448.0 L1607.6,448.0 Z" fill="#c9cbe3" stroke="#c9cbe3" stroke-width="0.6"/>
<g fill="#b4b4d6" fill-opacity="0.5"><circle cx="1591.8" cy="337.2" r="1.9"/><circle cx="1595.4" cy="447.0" r="1.9"/><circle cx="1593.8" cy="420.6" r="1.9"/><circle cx="1602.1" cy="408.8" r="1.9"/><circle cx="1596.6" cy="415.2" r="1.9"/><circle cx="1595.2" cy="447.8" r="1.9"/><circle cx="1597.7" cy="377.4" r="1.9"/><circle cx="1595.2" cy="442.4" r="1.9"/><circle cx="1591.9" cy="439.1" r="1.9"/><circle cx="1598.5" cy="380.9" r="1.9"/><circle cx="1604.3" cy="427.4" r="1.9"/><circle cx="1596.0" cy="404.8" r="1.9"/><circle cx="1601.3" cy="431.9" r="1.9"/><circle cx="1590.8" cy="422.5" r="1.9"/><circle cx="1601.7" cy="398.2" r="1.9"/><circle cx="1598.6" cy="424.7" r="1.9"/><circle cx="1595.9" cy="443.7" r="1.9"/><circle cx="1603.0" cy="419.8" r="1.9"/><circle cx="1606.1" cy="422.0" r="1.9"/><circle cx="1601.6" cy="427.1" r="1.9"/><circle cx="1595.0" cy="433.5" r="1.9"/><circle cx="1593.2" cy="430.0" r="1.9"/><circle cx="1600.9" cy="395.7" r="1.9"/><circle cx="1606.2" cy="423.2" r="1.9"/><circle cx="1593.1" cy="382.6" r="1.9"/></g>
<line x1="1598.2" y1="371.5" x2="1598.2" y2="407.7" stroke="#333344" stroke-width="1.1"/>
<line x1="1598.2" y1="432.2" x2="1598.2" y2="449.0" stroke="#333344" stroke-width="1.1"/>
<path d="M1590.5,407.7 L1605.9,407.7 L1605.9,416.5 L1602.0,423.9 L1605.9,431.2 L1605.9,432.2 L1590.5,432.2 L1590.5,431.2 L1594.4,423.9 L1590.5,416.5 Z" fill="#c9cbe3" fill-opacity="0.35" stroke="#333344" stroke-width="1.1"/>
<line x1="1594.4" y1="423.9" x2="1602.0" y2="423.9" stroke="#333344" stroke-width="1.1"/>
<path d="M1655.8,377.7 L1656.8,377.7 L1656.8,378.6 L1656.8,379.5 L1656.9,380.3 L1657.0,381.2 L1657.1,382.1 L1657.1,383.0 L1657.2,383.9 L1657.3,384.7 L1657.4,385.6 L1657.5,386.5 L1657.6,387.4 L1657.7,388.2 L1657.8,389.1 L1657.9,390.0 L1658.0,390.9 L1658.1,391.8 L1658.2,392.6 L1658.4,393.5 L1658.5,394.4 L1658.6,395.3 L1658.7,396.2 L1658.9,397.0 L1659.0,397.9 L1659.1,398.8 L1659.3,399.7 L1659.4,400.5 L1659.5,401.4 L1659.7,402.3 L1659.8,403.2 L1659.9,404.1 L1660.1,404.9 L1660.2,405.8 L1660.3,406.7 L1660.5,407.6 L1660.6,408.5 L1660.7,409.3 L1660.8,410.2 L1660.9,411.1 L1661.1,412.0 L1661.2,412.9 L1661.3,413.7 L1661.4,414.6 L1661.5,415.5 L1661.6,416.4 L1661.6,417.2 L1661.7,418.1 L1661.8,419.0 L1661.8,419.9 L1661.9,420.8 L1662.0,421.6 L1662.0,422.5 L1662.0,423.4 L1662.1,424.3 L1662.1,425.2 L1662.1,426.0 L1662.1,426.9 L1662.1,427.8 L1662.1,428.7 L1662.0,429.5 L1661.9,430.4 L1661.8,431.3 L1661.7,432.2 L1661.6,433.1 L1661.5,433.9 L1661.3,434.8 L1661.1,435.7 L1660.9,436.6 L1660.7,437.5 L1660.5,438.3 L1660.3,439.2 L1660.1,440.1 L1659.9,441.0 L1659.7,441.8 L1659.4,442.7 L1659.2,443.6 L1659.0,444.5 L1658.8,445.4 L1658.6,446.2 L1658.4,447.1 L1658.2,448.0 L1655.8,448.0 Z" fill="#8581c4" stroke="#7470b4" stroke-width="0.6"/>
<g fill="#8f8cc6" fill-opacity="0.5"><circle cx="1653.4" cy="378.7" r="1.9"/><circle cx="1647.6" cy="447.0" r="1.9"/><circle cx="1644.6" cy="445.9" r="1.9"/><circle cx="1639.2" cy="438.3" r="1.9"/><circle cx="1653.2" cy="383.1" r="1.9"/><circle cx="1653.7" cy="394.2" r="1.9"/><circle cx="1648.9" cy="409.8" r="1.9"/><circle cx="1648.4" cy="440.2" r="1.9"/><circle cx="1645.5" cy="429.2" r="1.9"/><circle cx="1640.3" cy="401.3" r="1.9"/><circle cx="1650.3" cy="416.3" r="1.9"/><circle cx="1642.9" cy="438.5" r="1.9"/><circle cx="1648.4" cy="409.2" r="1.9"/><circle cx="1648.2" cy="438.3" r="1.9"/><circle cx="1650.2" cy="444.1" r="1.9"/><circle cx="1652.2" cy="407.1" r="1.9"/><circle cx="1653.9" cy="437.6" r="1.9"/><circle cx="1639.9" cy="427.0" r="1.9"/><circle cx="1641.1" cy="443.1" r="1.9"/><circle cx="1654.8" cy="433.3" r="1.9"/><circle cx="1642.7" cy="434.8" r="1.9"/><circle cx="1645.4" cy="413.7" r="1.9"/><circle cx="1641.4" cy="406.3" r="1.9"/><circle cx="1641.9" cy="412.5" r="1.9"/><circle cx="1641.7" cy="431.8" r="1.9"/><circle cx="1654.4" cy="431.1" r="1.9"/><circle cx="1646.3" cy="436.9" r="1.9"/><circle cx="1641.1" cy="420.0" r="1.9"/><circle cx="1650.0" cy="412.4" r="1.9"/><circle cx="1644.5" cy="397.8" r="1.9"/></g>
<line x1="1646.8" y1="377.8" x2="1646.8" y2="411.3" stroke="#2a2a44" stroke-width="1.1"/>
<line x1="1646.8" y1="437.5" x2="1646.8" y2="448.0" stroke="#2a2a44" stroke-width="1.1"/>
<path d="M1639.1,411.3 L1654.5,411.3 L1654.5,418.1 L1650.6,426.0 L1654.5,433.9 L1654.5,437.5 L1639.1,437.5 L1639.1,433.9 L1643.0,426.0 L1639.1,418.1 Z" fill="#8581c4" fill-opacity="0.35" stroke="#2a2a44" stroke-width="1.1"/>
<line x1="1643.0" y1="426.0" x2="1650.6" y2="426.0" stroke="#2a2a44" stroke-width="1.1"/>
<circle cx="1644.9" cy="377.8" r="4.2" fill="#db88ca"/>
<path d="M1705.0,326.8 L1706.5,326.8 L1706.5,328.2 L1706.5,329.6 L1706.5,331.0 L1706.5,332.3 L1706.5,333.7 L1706.5,335.1 L1706.5,336.5 L1706.5,337.9 L1706.5,339.3 L1706.5,340.6 L1706.5,342.0 L1706.5,343.4 L1706.5,344.8 L1706.5,346.2 L1706.5,347.6 L1706.5,348.9 L1706.5,350.3 L1706.5,351.7 L1706.5,353.1 L1706.5,354.5 L1706.5,355.9 L1706.5,357.2 L1706.5,358.6 L1706.5,360.0 L1706.5,361.4 L1706.5,362.8 L1706.5,364.2 L1706.5,365.5 L1706.5,366.9 L1706.5,368.3 L1706.5,369.7 L1706.5,371.1 L1706.5,372.5 L1706.5,373.8 L1706.5,375.2 L1706.5,376.6 L1706.5,378.0 L1706.5,379.4 L1706.5,380.8 L1706.5,382.2 L1706.5,383.5 L1706.5,384.9 L1706.5,386.3 L1706.5,387.7 L1706.5,389.1 L1706.5,390.5 L1706.5,391.8 L1706.5,393.2 L1706.5,394.6 L1706.5,396.0 L1706.5,397.4 L1706.5,398.8 L1706.5,400.1 L1706.5,401.5 L1706.5,402.9 L1706.5,404.3 L1706.5,405.7 L1706.5,407.1 L1706.5,408.4 L1706.5,409.8 L1706.5,411.2 L1706.5,412.6 L1706.5,414.0 L1706.5,415.4 L1706.5,416.7 L1706.5,418.1 L1706.5,419.5 L1706.6,420.9 L1707.8,422.3 L1709.6,423.7 L1712.0,425.0 L1714.9,426.4 L1718.0,427.8 L1720.7,429.2 L1722.7,430.6 L1723.4,432.0 L1722.4,433.3 L1719.6,434.7 L1715.8,436.1 L1712.1,437.5 L1705.0,437.5 Z" fill="#6a52aa" stroke="#3a3683" stroke-width="0.9"/>
<g fill="#8a7ab8" fill-opacity="0.5"><circle cx="1694.4" cy="327.8" r="1.9"/><circle cx="1693.2" cy="436.5" r="1.9"/><circle cx="1690.0" cy="424.9" r="1.9"/><circle cx="1687.7" cy="435.6" r="1.9"/><circle cx="1693.3" cy="436.2" r="1.9"/><circle cx="1694.0" cy="421.6" r="1.9"/><circle cx="1696.5" cy="431.8" r="1.9"/><circle cx="1702.8" cy="422.9" r="1.9"/><circle cx="1701.2" cy="427.8" r="1.9"/><circle cx="1698.4" cy="435.7" r="1.9"/><circle cx="1696.4" cy="434.1" r="1.9"/><circle cx="1689.4" cy="431.4" r="1.9"/><circle cx="1688.0" cy="436.5" r="1.9"/><circle cx="1695.5" cy="432.5" r="1.9"/><circle cx="1693.2" cy="433.9" r="1.9"/><circle cx="1697.8" cy="421.6" r="1.9"/><circle cx="1693.8" cy="432.0" r="1.9"/><circle cx="1691.8" cy="422.6" r="1.9"/><circle cx="1693.4" cy="432.2" r="1.9"/><circle cx="1692.0" cy="435.5" r="1.9"/><circle cx="1690.2" cy="433.7" r="1.9"/><circle cx="1690.7" cy="426.0" r="1.9"/><circle cx="1690.0" cy="429.9" r="1.9"/><circle cx="1691.8" cy="426.3" r="1.9"/><circle cx="1702.2" cy="436.2" r="1.9"/><circle cx="1702.4" cy="369.1" r="1.9"/><circle cx="1694.5" cy="430.4" r="1.9"/><circle cx="1701.3" cy="429.6" r="1.9"/><circle cx="1701.6" cy="431.1" r="1.9"/><circle cx="1703.2" cy="435.7" r="1.9"/></g>
<line x1="1695.6" y1="421.0" x2="1695.6" y2="426.0" stroke="#2a2440" stroke-width="1.1"/>
<line x1="1695.6" y1="434.3" x2="1695.6" y2="437.5" stroke="#2a2440" stroke-width="1.1"/>
<path d="M1687.9,426.0 L1703.3,426.0 L1703.3,428.3 L1699.4,430.8 L1703.3,433.3 L1703.3,434.3 L1687.9,434.3 L1687.9,433.3 L1691.8,430.8 L1687.9,428.3 Z" fill="#6a52aa" fill-opacity="0.35" stroke="#2a2440" stroke-width="1.1"/>
<line x1="1691.8" y1="430.8" x2="1699.4" y2="430.8" stroke="#2a2440" stroke-width="1.1"/>
<path d="M1524.4,115.4 L1524.4,108.1 L1645.3,108.1 L1645.3,115.4 M1500.5,115.4 L1549.3,115.4 M1587.4,115.4 L1695.9,115.4" fill="none" stroke="#484848" stroke-width="1.1"/>
<text transform="translate(1572.7,95.6) scale(1,0.85)" x="0" y="15.0" font-size="27.5" stroke="#111" stroke-width="0.45" text-anchor="middle" fill="#111">***</text>
<path d="M1451.4,147.0 L1451.4,139.3 L1670.6,139.3 L1670.6,147.0 M1645.3,147.0 L1695.9,147.0" fill="none" stroke="#484848" stroke-width="1.1"/>
<text transform="translate(1561.0,126.8) scale(1,0.85)" x="0" y="15.0" font-size="27.5" stroke="#111" stroke-width="0.45" text-anchor="middle" fill="#111">***</text>
<path d="M1451.4,178.1 L1451.4,170.0 L1598.4,170.0 L1598.4,178.1" fill="none" stroke="#484848" stroke-width="1.1"/>
<text transform="translate(1524.4,157.2) scale(1,0.85)" x="0" y="15.0" font-size="27.5" stroke="#111" stroke-width="0.45" text-anchor="middle" fill="#111">**</text>
<path d="M1402.7,208.5 L1402.7,200.8 L1500.5,200.8 L1500.5,208.5 M1451.4,208.5 L1549.3,208.5" fill="none" stroke="#484848" stroke-width="1.1"/>
<text transform="translate(1451.8,188.4) scale(1,0.85)" x="0" y="15.0" font-size="27.5" stroke="#111" stroke-width="0.45" text-anchor="middle" fill="#111">***</text>
<path d="M1447.8,239.3 L1447.8,232.0 L1522.5,232.0 L1522.5,239.3 M1496.9,239.3 L1545.6,239.3" fill="none" stroke="#484848" stroke-width="1.1"/>
<text transform="translate(1485.2,219.5) scale(1,0.85)" x="0" y="15.0" font-size="27.5" stroke="#111" stroke-width="0.45" text-anchor="middle" fill="#111">***</text>
<path d="M1500.4,437.5 L1500.4,445.4 L1549.4,445.4 L1549.4,437.5" fill="none" stroke="#484848" stroke-width="1.1"/>
<text transform="translate(1526.6,458.8) scale(1,0.85)" x="0" y="15.0" font-size="27.5" stroke="#111" stroke-width="0.45" text-anchor="middle" fill="#111">***</text>
<text x="1988.4" y="36" font-size="37.5" text-anchor="middle" fill="#1a1a1a" stroke="#1a1a1a" stroke-width="0.35">pT231/T231</text>
<text transform="translate(1764.9,289.4) rotate(-90)" font-size="20.7" font-weight="bold" text-anchor="middle" fill="#1a1a1a">pT231/T231 (%)</text>
<text x="1999.0" y="568.7" font-size="20" font-weight="bold" text-anchor="middle" fill="#1a1a1a">Diagnosis</text>
<path d="M1811.3,109.4 L1811.3,468.5 L2165.5,468.5" fill="none" stroke="#444" stroke-width="1.1"/>
<line x1="1808.8" y1="461.5" x2="1811.3" y2="461.5" stroke="#444" stroke-width="1"/>
<line x1="1808.8" y1="365.5" x2="1811.3" y2="365.5" stroke="#444" stroke-width="1"/>
<line x1="1808.8" y1="269.6" x2="1811.3" y2="269.6" stroke="#444" stroke-width="1"/>
<line x1="1808.8" y1="173.2" x2="1811.3" y2="173.2" stroke="#444" stroke-width="1"/>
<text x="1801.8" y="467.7" font-size="17.5" text-anchor="end" fill="#1a1a1a" stroke="#1a1a1a" stroke-width="0.2">0</text>
<text x="1801.8" y="371.7" font-size="17.5" text-anchor="end" fill="#1a1a1a" stroke="#1a1a1a" stroke-width="0.2">20</text>
<text x="1801.8" y="275.8" font-size="17.5" text-anchor="end" fill="#1a1a1a" stroke="#1a1a1a" stroke-width="0.2">40</text>
<text x="1801.8" y="179.4" font-size="17.5" text-anchor="end" fill="#1a1a1a" stroke="#1a1a1a" stroke-width="0.2">60</text>
<line x1="1840.6" y1="468.5" x2="1840.6" y2="471.0" stroke="#444" stroke-width="1"/>
<text transform="translate(1849.7,483.5) rotate(-45)" font-size="17.6" text-anchor="end" fill="#1a1a1a" stroke="#1a1a1a" stroke-width="0.2">CU-</text>
<line x1="1889.2" y1="468.5" x2="1889.2" y2="471.0" stroke="#444" stroke-width="1"/>
<text transform="translate(1905.0,483.6) rotate(-45)" font-size="17.6" text-anchor="end" fill="#1a1a1a" stroke="#1a1a1a" stroke-width="0.2">CU<tspan font-size="18" dx="-0.46" dy="0.6" stroke="#1a1a1a" stroke-width="0.45">+</tspan></text>
<line x1="1938.0" y1="468.5" x2="1938.0" y2="471.0" stroke="#444" stroke-width="1"/>
<text transform="translate(1953.8,483.6) rotate(-45)" font-size="17.6" text-anchor="end" fill="#1a1a1a" stroke="#1a1a1a" stroke-width="0.2">MCI<tspan font-size="18" dx="-0.46" dy="0.6" stroke="#1a1a1a" stroke-width="0.45">+</tspan></text>
<line x1="1987.0" y1="468.5" x2="1987.0" y2="471.0" stroke="#444" stroke-width="1"/>
<text transform="translate(2002.8,483.6) rotate(-45)" font-size="17.6" text-anchor="end" fill="#1a1a1a" stroke="#1a1a1a" stroke-width="0.2">AD<tspan font-size="18" dx="-0.46" dy="0.6" stroke="#1a1a1a" stroke-width="0.45">+</tspan></text>
<line x1="2035.4" y1="468.5" x2="2035.4" y2="471.0" stroke="#444" stroke-width="1"/>
<text transform="translate(2054.4,483.8) rotate(-45)" font-size="17.6" text-anchor="end" fill="#1a1a1a" stroke="#1a1a1a" stroke-width="0.2">PSP/CBS</text>
<line x1="2084.4" y1="468.5" x2="2084.4" y2="471.0" stroke="#444" stroke-width="1"/>
<text transform="translate(2103.4,483.8) rotate(-45)" font-size="17.6" text-anchor="end" fill="#1a1a1a" stroke="#1a1a1a" stroke-width="0.2">FTD/PPA</text>
<line x1="2133.2" y1="468.5" x2="2133.2" y2="471.0" stroke="#444" stroke-width="1"/>
<text transform="translate(2152.2,483.8) rotate(-45)" font-size="17.6" text-anchor="end" fill="#1a1a1a" stroke="#1a1a1a" stroke-width="0.2">PD/PDD</text>
<path d="M1849.9,325.4 L1850.9,325.4 L1850.9,326.7 L1850.9,328.0 L1850.9,329.3 L1850.9,330.6 L1850.9,331.9 L1850.9,333.2 L1850.9,334.5 L1850.9,335.8 L1850.9,337.1 L1850.9,338.4 L1850.9,339.7 L1850.9,341.0 L1851.1,342.3 L1851.2,343.5 L1851.4,344.8 L1851.6,346.1 L1851.8,347.4 L1852.0,348.7 L1852.3,350.0 L1852.6,351.3 L1852.9,352.6 L1853.2,353.9 L1853.5,355.2 L1853.9,356.5 L1854.3,357.8 L1854.7,359.1 L1855.2,360.4 L1855.7,361.7 L1856.2,363.0 L1856.7,364.3 L1857.3,365.6 L1857.9,366.9 L1858.5,368.2 L1859.1,369.5 L1859.7,370.8 L1860.4,372.1 L1861.1,373.4 L1861.8,374.7 L1862.5,376.0 L1863.2,377.2 L1863.9,378.5 L1864.6,379.8 L1865.3,381.1 L1866.0,382.4 L1866.7,383.7 L1867.4,385.0 L1868.0,386.3 L1868.6,387.6 L1869.2,388.9 L1869.7,390.2 L1870.2,391.5 L1870.7,392.8 L1871.1,394.1 L1871.5,395.4 L1871.8,396.7 L1872.1,398.0 L1872.3,399.3 L1872.4,400.6 L1872.5,401.9 L1872.5,403.2 L1872.4,404.5 L1872.1,405.8 L1871.7,407.1 L1871.1,408.4 L1870.4,409.7 L1869.5,411.0 L1868.6,412.2 L1867.6,413.5 L1866.4,414.8 L1865.3,416.1 L1864.1,417.4 L1862.9,418.7 L1861.8,420.0 L1860.6,421.3 L1859.5,422.6 L1858.4,423.9 L1857.5,425.2 L1856.5,426.5 L1855.7,427.8 L1854.9,429.1 L1849.9,429.1 Z" fill="#9bd6cc" stroke="#9bd6cc" stroke-width="0.6"/>
<g fill="#7fbfb3" fill-opacity="0.5"><circle cx="1833.2" cy="326.4" r="1.9"/><circle cx="1833.5" cy="428.1" r="1.9"/><circle cx="1843.9" cy="382.3" r="1.9"/><circle cx="1835.2" cy="381.0" r="1.9"/><circle cx="1843.4" cy="390.6" r="1.9"/><circle cx="1848.3" cy="340.0" r="1.9"/><circle cx="1836.7" cy="400.8" r="1.9"/><circle cx="1848.5" cy="395.7" r="1.9"/><circle cx="1835.5" cy="379.9" r="1.9"/><circle cx="1844.4" cy="386.9" r="1.9"/><circle cx="1843.5" cy="389.5" r="1.9"/><circle cx="1845.3" cy="388.2" r="1.9"/><circle cx="1846.7" cy="372.6" r="1.9"/><circle cx="1838.9" cy="376.1" r="1.9"/><circle cx="1847.2" cy="328.6" r="1.9"/><circle cx="1835.4" cy="380.5" r="1.9"/><circle cx="1832.7" cy="404.3" r="1.9"/><circle cx="1840.8" cy="422.4" r="1.9"/><circle cx="1839.2" cy="393.3" r="1.9"/><circle cx="1844.3" cy="368.3" r="1.9"/><circle cx="1847.9" cy="407.5" r="1.9"/><circle cx="1837.7" cy="417.7" r="1.9"/><circle cx="1847.1" cy="399.3" r="1.9"/><circle cx="1845.7" cy="422.4" r="1.9"/><circle cx="1837.7" cy="422.5" r="1.9"/><circle cx="1842.4" cy="410.5" r="1.9"/><circle cx="1840.4" cy="394.1" r="1.9"/><circle cx="1833.9" cy="407.1" r="1.9"/><circle cx="1835.0" cy="421.5" r="1.9"/><circle cx="1847.1" cy="416.7" r="1.9"/><circle cx="1847.5" cy="373.4" r="1.9"/><circle cx="1834.2" cy="393.0" r="1.9"/><circle cx="1846.5" cy="397.5" r="1.9"/><circle cx="1836.7" cy="404.7" r="1.9"/><circle cx="1834.2" cy="418.6" r="1.9"/><circle cx="1836.0" cy="404.7" r="1.9"/><circle cx="1838.5" cy="377.7" r="1.9"/><circle cx="1848.6" cy="427.2" r="1.9"/><circle cx="1845.5" cy="402.9" r="1.9"/><circle cx="1846.4" cy="414.0" r="1.9"/><circle cx="1840.2" cy="407.4" r="1.9"/><circle cx="1834.9" cy="392.6" r="1.9"/><circle cx="1848.4" cy="381.7" r="1.9"/><circle cx="1834.7" cy="361.2" r="1.9"/><circle cx="1836.6" cy="374.9" r="1.9"/><circle cx="1840.2" cy="408.1" r="1.9"/><circle cx="1846.9" cy="394.0" r="1.9"/><circle cx="1840.1" cy="388.6" r="1.9"/><circle cx="1838.1" cy="361.7" r="1.9"/><circle cx="1834.8" cy="409.4" r="1.9"/><circle cx="1835.6" cy="408.7" r="1.9"/><circle cx="1835.2" cy="376.1" r="1.9"/><circle cx="1845.2" cy="414.4" r="1.9"/><circle cx="1836.1" cy="407.0" r="1.9"/><circle cx="1848.1" cy="417.6" r="1.9"/></g>
<line x1="1840.6" y1="348.3" x2="1840.6" y2="382.0" stroke="#234f4a" stroke-width="1.1"/>
<line x1="1840.6" y1="408.0" x2="1840.6" y2="429.1" stroke="#234f4a" stroke-width="1.1"/>
<path d="M1832.9,382.0 L1848.3,382.0 L1848.3,389.6 L1844.4,396.1 L1848.3,402.6 L1848.3,408.0 L1832.9,408.0 L1832.9,402.6 L1836.8,396.1 L1832.9,389.6 Z" fill="#9bd6cc" fill-opacity="0.35" stroke="#234f4a" stroke-width="1.1"/>
<line x1="1836.8" y1="396.1" x2="1844.4" y2="396.1" stroke="#234f4a" stroke-width="1.1"/>
<circle cx="1840.2" cy="375.7" r="4.2" fill="#db88ca"/>
<path d="M1898.3,181.8 L1899.3,181.8 L1899.3,184.7 L1899.3,187.5 L1899.3,190.4 L1899.3,193.3 L1899.3,196.1 L1899.3,199.0 L1899.3,201.9 L1899.3,204.8 L1899.3,207.6 L1899.3,210.5 L1899.3,213.4 L1899.3,216.2 L1899.3,219.1 L1899.3,222.0 L1899.3,224.8 L1899.3,227.7 L1899.3,230.6 L1899.3,233.4 L1899.3,236.3 L1899.5,239.2 L1899.6,242.0 L1899.8,244.9 L1900.0,247.8 L1900.2,250.7 L1900.4,253.5 L1900.7,256.4 L1900.9,259.3 L1901.2,262.1 L1901.5,265.0 L1901.8,267.9 L1902.1,270.7 L1902.5,273.6 L1902.8,276.5 L1903.2,279.3 L1903.6,282.2 L1903.9,285.1 L1904.3,287.9 L1904.7,290.8 L1905.1,293.7 L1905.4,296.6 L1905.8,299.4 L1906.1,302.3 L1906.4,305.2 L1906.7,308.0 L1907.0,310.9 L1907.2,313.8 L1907.5,316.6 L1907.6,319.5 L1907.8,322.4 L1907.9,325.2 L1908.0,328.1 L1908.0,331.0 L1908.0,333.8 L1907.9,336.7 L1907.8,339.6 L1907.7,342.5 L1907.5,345.3 L1907.2,348.2 L1907.0,351.1 L1906.6,353.9 L1906.3,356.8 L1905.9,359.7 L1905.5,362.5 L1905.1,365.4 L1904.7,368.3 L1904.3,371.1 L1903.9,374.0 L1903.5,376.9 L1903.1,379.7 L1902.7,382.6 L1902.3,385.5 L1901.9,388.4 L1901.5,391.2 L1901.2,394.1 L1900.9,397.0 L1900.6,399.8 L1900.3,402.7 L1900.1,405.6 L1899.9,408.4 L1899.7,411.3 L1898.3,411.3 Z" fill="#f2f5c2" stroke="#f2f5c2" stroke-width="0.6"/>
<g fill="#e9e9a8" fill-opacity="0.5"><circle cx="1893.5" cy="182.8" r="1.9"/><circle cx="1891.3" cy="410.3" r="1.9"/><circle cx="1888.3" cy="284.2" r="1.9"/><circle cx="1894.1" cy="335.6" r="1.9"/><circle cx="1884.9" cy="289.4" r="1.9"/><circle cx="1896.6" cy="367.3" r="1.9"/><circle cx="1892.1" cy="375.6" r="1.9"/><circle cx="1883.9" cy="302.6" r="1.9"/><circle cx="1889.1" cy="323.5" r="1.9"/><circle cx="1890.1" cy="351.1" r="1.9"/><circle cx="1883.8" cy="389.8" r="1.9"/><circle cx="1896.6" cy="381.2" r="1.9"/><circle cx="1890.5" cy="378.9" r="1.9"/><circle cx="1890.0" cy="240.2" r="1.9"/><circle cx="1884.5" cy="339.0" r="1.9"/><circle cx="1891.3" cy="318.4" r="1.9"/><circle cx="1892.2" cy="279.5" r="1.9"/><circle cx="1891.3" cy="371.8" r="1.9"/><circle cx="1891.9" cy="283.8" r="1.9"/><circle cx="1886.0" cy="359.5" r="1.9"/><circle cx="1896.8" cy="253.5" r="1.9"/><circle cx="1890.1" cy="310.9" r="1.9"/><circle cx="1883.1" cy="324.5" r="1.9"/><circle cx="1892.1" cy="393.4" r="1.9"/><circle cx="1892.1" cy="410.8" r="1.9"/><circle cx="1882.0" cy="310.6" r="1.9"/><circle cx="1886.2" cy="372.5" r="1.9"/><circle cx="1887.9" cy="310.6" r="1.9"/><circle cx="1894.4" cy="389.8" r="1.9"/><circle cx="1884.1" cy="316.2" r="1.9"/><circle cx="1896.1" cy="374.6" r="1.9"/><circle cx="1889.4" cy="369.3" r="1.9"/><circle cx="1887.7" cy="372.4" r="1.9"/><circle cx="1894.5" cy="310.1" r="1.9"/><circle cx="1893.1" cy="377.8" r="1.9"/><circle cx="1887.0" cy="343.3" r="1.9"/><circle cx="1897.1" cy="279.2" r="1.9"/><circle cx="1891.7" cy="397.1" r="1.9"/><circle cx="1890.0" cy="330.5" r="1.9"/><circle cx="1885.3" cy="370.0" r="1.9"/></g>
<line x1="1889.2" y1="276.7" x2="1889.2" y2="310.6" stroke="#333" stroke-width="1.1"/>
<line x1="1889.2" y1="373.6" x2="1889.2" y2="411.3" stroke="#333" stroke-width="1.1"/>
<path d="M1881.5,310.6 L1896.9,310.6 L1896.9,326.0 L1893.0,338.0 L1896.9,350.0 L1896.9,373.6 L1881.5,373.6 L1881.5,350.0 L1885.4,338.0 L1881.5,326.0 Z" fill="#f2f5c2" fill-opacity="0.35" stroke="#333" stroke-width="1.1"/>
<line x1="1885.4" y1="338.0" x2="1893.0" y2="338.0" stroke="#333" stroke-width="1.1"/>
<path d="M1947.3,195.7 L1948.3,195.7 L1948.3,198.4 L1948.3,201.1 L1948.3,203.7 L1948.3,206.4 L1948.3,209.1 L1948.3,211.8 L1948.3,214.5 L1948.3,217.2 L1948.3,219.8 L1948.3,222.5 L1948.3,225.2 L1948.3,227.9 L1948.3,230.6 L1948.3,233.3 L1948.3,235.9 L1948.3,238.6 L1948.3,241.3 L1948.3,244.0 L1948.3,246.7 L1948.3,249.3 L1948.3,252.0 L1948.3,254.7 L1948.4,257.4 L1948.6,260.1 L1948.9,262.8 L1949.1,265.4 L1949.4,268.1 L1949.7,270.8 L1950.0,273.5 L1950.4,276.2 L1950.8,278.9 L1951.2,281.5 L1951.6,284.2 L1952.1,286.9 L1952.6,289.6 L1953.1,292.3 L1953.6,295.0 L1954.1,297.6 L1954.6,300.3 L1955.1,303.0 L1955.6,305.7 L1956.1,308.4 L1956.5,311.0 L1956.9,313.7 L1957.3,316.4 L1957.6,319.1 L1957.8,321.8 L1958.0,324.5 L1958.2,327.1 L1958.3,329.8 L1958.3,332.5 L1958.3,335.2 L1958.2,337.9 L1958.1,340.6 L1957.9,343.2 L1957.7,345.9 L1957.4,348.6 L1957.1,351.3 L1956.8,354.0 L1956.4,356.6 L1956.0,359.3 L1955.6,362.0 L1955.2,364.7 L1954.7,367.4 L1954.3,370.1 L1953.8,372.7 L1953.4,375.4 L1953.0,378.1 L1952.5,380.8 L1952.1,383.5 L1951.7,386.2 L1951.3,388.8 L1950.9,391.5 L1950.6,394.2 L1950.3,396.9 L1949.9,399.6 L1949.7,402.3 L1949.4,404.9 L1949.1,407.6 L1948.9,410.3 L1947.3,410.3 Z" fill="#f8ba7c" stroke="#f8ba7c" stroke-width="0.6"/>
<g fill="#f0a868" fill-opacity="0.5"><circle cx="1932.3" cy="196.7" r="1.9"/><circle cx="1932.5" cy="409.3" r="1.9"/><circle cx="1942.8" cy="310.8" r="1.9"/><circle cx="1939.2" cy="307.9" r="1.9"/><circle cx="1938.7" cy="271.5" r="1.9"/><circle cx="1936.8" cy="292.8" r="1.9"/><circle cx="1933.9" cy="316.5" r="1.9"/><circle cx="1931.5" cy="356.1" r="1.9"/><circle cx="1935.4" cy="334.5" r="1.9"/><circle cx="1940.7" cy="355.3" r="1.9"/><circle cx="1938.0" cy="366.8" r="1.9"/><circle cx="1932.9" cy="376.6" r="1.9"/><circle cx="1935.3" cy="293.6" r="1.9"/><circle cx="1936.8" cy="312.9" r="1.9"/><circle cx="1945.0" cy="337.7" r="1.9"/><circle cx="1934.9" cy="296.1" r="1.9"/><circle cx="1941.3" cy="347.6" r="1.9"/><circle cx="1930.7" cy="329.0" r="1.9"/><circle cx="1940.4" cy="319.6" r="1.9"/><circle cx="1930.9" cy="312.1" r="1.9"/><circle cx="1931.6" cy="276.9" r="1.9"/><circle cx="1938.2" cy="385.1" r="1.9"/><circle cx="1936.9" cy="313.6" r="1.9"/><circle cx="1944.4" cy="289.1" r="1.9"/><circle cx="1936.4" cy="298.4" r="1.9"/><circle cx="1941.0" cy="293.8" r="1.9"/><circle cx="1934.3" cy="370.0" r="1.9"/><circle cx="1936.4" cy="283.6" r="1.9"/><circle cx="1932.5" cy="270.1" r="1.9"/><circle cx="1945.8" cy="309.3" r="1.9"/><circle cx="1938.0" cy="351.4" r="1.9"/><circle cx="1940.7" cy="329.7" r="1.9"/><circle cx="1934.7" cy="345.1" r="1.9"/><circle cx="1937.6" cy="393.0" r="1.9"/><circle cx="1932.0" cy="307.2" r="1.9"/><circle cx="1939.3" cy="246.0" r="1.9"/><circle cx="1941.4" cy="352.6" r="1.9"/><circle cx="1935.2" cy="351.7" r="1.9"/><circle cx="1941.6" cy="310.6" r="1.9"/><circle cx="1935.9" cy="342.3" r="1.9"/><circle cx="1945.7" cy="280.6" r="1.9"/><circle cx="1931.5" cy="324.9" r="1.9"/><circle cx="1940.2" cy="397.4" r="1.9"/><circle cx="1941.5" cy="320.4" r="1.9"/><circle cx="1940.7" cy="303.7" r="1.9"/><circle cx="1935.7" cy="292.2" r="1.9"/><circle cx="1935.1" cy="409.5" r="1.9"/><circle cx="1943.8" cy="390.7" r="1.9"/><circle cx="1940.3" cy="215.0" r="1.9"/><circle cx="1933.1" cy="202.4" r="1.9"/><circle cx="1935.4" cy="265.9" r="1.9"/><circle cx="1939.4" cy="337.6" r="1.9"/><circle cx="1938.0" cy="300.2" r="1.9"/><circle cx="1940.6" cy="271.0" r="1.9"/><circle cx="1934.4" cy="308.9" r="1.9"/><circle cx="1942.5" cy="384.0" r="1.9"/><circle cx="1944.8" cy="282.2" r="1.9"/><circle cx="1934.6" cy="274.2" r="1.9"/><circle cx="1943.1" cy="342.6" r="1.9"/><circle cx="1933.4" cy="343.2" r="1.9"/><circle cx="1934.9" cy="333.8" r="1.9"/><circle cx="1941.7" cy="343.7" r="1.9"/><circle cx="1942.6" cy="298.7" r="1.9"/><circle cx="1940.2" cy="248.2" r="1.9"/><circle cx="1931.0" cy="280.8" r="1.9"/><circle cx="1945.4" cy="325.6" r="1.9"/><circle cx="1945.5" cy="248.8" r="1.9"/><circle cx="1935.4" cy="355.6" r="1.9"/><circle cx="1941.8" cy="317.9" r="1.9"/><circle cx="1934.3" cy="334.1" r="1.9"/><circle cx="1944.3" cy="342.7" r="1.9"/><circle cx="1937.0" cy="397.6" r="1.9"/><circle cx="1945.6" cy="332.7" r="1.9"/><circle cx="1934.5" cy="296.2" r="1.9"/><circle cx="1935.3" cy="396.3" r="1.9"/><circle cx="1936.8" cy="399.7" r="1.9"/><circle cx="1936.0" cy="317.1" r="1.9"/><circle cx="1937.0" cy="321.5" r="1.9"/><circle cx="1934.1" cy="339.7" r="1.9"/><circle cx="1936.1" cy="304.1" r="1.9"/><circle cx="1942.2" cy="303.4" r="1.9"/><circle cx="1940.0" cy="341.9" r="1.9"/><circle cx="1940.8" cy="291.5" r="1.9"/><circle cx="1933.2" cy="279.6" r="1.9"/><circle cx="1933.7" cy="401.3" r="1.9"/><circle cx="1935.2" cy="258.0" r="1.9"/><circle cx="1940.3" cy="301.9" r="1.9"/><circle cx="1932.0" cy="263.7" r="1.9"/><circle cx="1936.7" cy="301.4" r="1.9"/><circle cx="1931.9" cy="347.4" r="1.9"/><circle cx="1943.7" cy="364.3" r="1.9"/><circle cx="1936.0" cy="310.8" r="1.9"/><circle cx="1943.0" cy="317.9" r="1.9"/><circle cx="1937.7" cy="344.3" r="1.9"/><circle cx="1936.1" cy="353.2" r="1.9"/><circle cx="1942.4" cy="312.0" r="1.9"/><circle cx="1936.2" cy="372.8" r="1.9"/><circle cx="1934.2" cy="351.5" r="1.9"/><circle cx="1945.9" cy="366.0" r="1.9"/><circle cx="1933.4" cy="306.5" r="1.9"/></g>
<line x1="1938.0" y1="211.1" x2="1938.0" y2="290.8" stroke="#3a2a1e" stroke-width="1.1"/>
<line x1="1938.0" y1="349.9" x2="1938.0" y2="409.8" stroke="#3a2a1e" stroke-width="1.1"/>
<path d="M1930.3,290.8 L1945.7,290.8 L1945.7,315.9 L1941.8,324.8 L1945.7,333.7 L1945.7,349.9 L1930.3,349.9 L1930.3,333.7 L1934.2,324.8 L1930.3,315.9 Z" fill="#f8ba7c" fill-opacity="0.35" stroke="#3a2a1e" stroke-width="1.1"/>
<line x1="1934.2" y1="324.8" x2="1941.8" y2="324.8" stroke="#3a2a1e" stroke-width="1.1"/>
<path d="M1996.0,171.9 L1997.0,171.9 L1997.0,174.5 L1997.0,177.1 L1997.0,179.7 L1997.0,182.2 L1997.0,184.8 L1997.0,187.4 L1997.0,190.0 L1997.0,192.6 L1997.0,195.2 L1997.0,197.8 L1997.0,200.3 L1997.0,202.9 L1997.0,205.5 L1997.0,208.1 L1997.0,210.7 L1997.0,213.3 L1997.0,215.9 L1997.0,218.5 L1997.2,221.0 L1997.4,223.6 L1997.6,226.2 L1997.9,228.8 L1998.2,231.4 L1998.5,234.0 L1998.8,236.6 L1999.2,239.1 L1999.6,241.7 L2000.1,244.3 L2000.5,246.9 L2001.0,249.5 L2001.5,252.1 L2002.1,254.7 L2002.6,257.2 L2003.2,259.8 L2003.7,262.4 L2004.3,265.0 L2004.9,267.6 L2005.4,270.2 L2005.9,272.8 L2006.4,275.4 L2006.9,277.9 L2007.3,280.5 L2007.6,283.1 L2008.0,285.7 L2008.2,288.3 L2008.4,290.9 L2008.5,293.5 L2008.6,296.0 L2008.6,298.6 L2008.5,301.2 L2008.3,303.8 L2008.0,306.4 L2007.6,309.0 L2007.2,311.6 L2006.7,314.1 L2006.1,316.7 L2005.6,319.3 L2004.9,321.9 L2004.3,324.5 L2003.6,327.1 L2003.0,329.7 L2002.3,332.2 L2001.7,334.8 L2001.1,337.4 L2000.5,340.0 L2000.0,342.6 L1999.5,345.2 L1999.0,347.8 L1998.6,350.4 L1998.2,352.9 L1997.9,355.5 L1997.6,358.1 L1997.3,360.7 L1997.1,363.3 L1997.0,365.9 L1997.0,368.5 L1997.0,371.0 L1997.0,373.6 L1997.0,376.2 L1997.0,378.8 L1996.0,378.8 Z" fill="#f8907f" stroke="#f8907f" stroke-width="0.6"/>
<g fill="#ee7a72" fill-opacity="0.5"><circle cx="1979.0" cy="172.9" r="1.9"/><circle cx="1980.5" cy="377.8" r="1.9"/><circle cx="1985.9" cy="276.1" r="1.9"/><circle cx="1990.2" cy="253.4" r="1.9"/><circle cx="1981.7" cy="188.7" r="1.9"/><circle cx="1984.9" cy="239.0" r="1.9"/><circle cx="1993.0" cy="321.6" r="1.9"/><circle cx="1988.8" cy="303.2" r="1.9"/><circle cx="1980.4" cy="253.7" r="1.9"/><circle cx="1980.8" cy="181.1" r="1.9"/><circle cx="1984.2" cy="235.8" r="1.9"/><circle cx="1984.4" cy="313.5" r="1.9"/><circle cx="1984.8" cy="315.7" r="1.9"/><circle cx="1989.6" cy="299.8" r="1.9"/><circle cx="1985.5" cy="242.8" r="1.9"/><circle cx="1986.3" cy="289.7" r="1.9"/><circle cx="1990.7" cy="329.3" r="1.9"/><circle cx="1994.4" cy="271.2" r="1.9"/><circle cx="1987.0" cy="222.7" r="1.9"/><circle cx="1981.8" cy="300.5" r="1.9"/><circle cx="1983.1" cy="220.9" r="1.9"/><circle cx="1988.8" cy="260.9" r="1.9"/><circle cx="1984.0" cy="280.6" r="1.9"/><circle cx="1986.7" cy="261.0" r="1.9"/><circle cx="1983.9" cy="261.0" r="1.9"/><circle cx="1988.9" cy="234.6" r="1.9"/><circle cx="1982.6" cy="341.6" r="1.9"/><circle cx="1988.1" cy="313.2" r="1.9"/><circle cx="1986.2" cy="328.7" r="1.9"/><circle cx="1989.4" cy="174.5" r="1.9"/><circle cx="1979.5" cy="283.9" r="1.9"/><circle cx="1990.6" cy="375.1" r="1.9"/><circle cx="1981.8" cy="313.5" r="1.9"/><circle cx="1979.3" cy="338.1" r="1.9"/><circle cx="1992.3" cy="333.1" r="1.9"/><circle cx="1992.8" cy="235.8" r="1.9"/><circle cx="1984.4" cy="293.2" r="1.9"/><circle cx="1980.1" cy="275.0" r="1.9"/><circle cx="1980.9" cy="284.3" r="1.9"/><circle cx="1983.5" cy="273.6" r="1.9"/><circle cx="1992.9" cy="368.8" r="1.9"/><circle cx="1991.7" cy="343.5" r="1.9"/><circle cx="1992.0" cy="315.1" r="1.9"/><circle cx="1980.5" cy="322.3" r="1.9"/><circle cx="1988.8" cy="340.3" r="1.9"/><circle cx="1990.2" cy="319.3" r="1.9"/><circle cx="1986.3" cy="312.3" r="1.9"/><circle cx="1983.5" cy="295.1" r="1.9"/><circle cx="1983.0" cy="362.1" r="1.9"/><circle cx="1982.6" cy="246.5" r="1.9"/><circle cx="1984.9" cy="295.0" r="1.9"/><circle cx="1979.4" cy="238.4" r="1.9"/><circle cx="1993.0" cy="354.8" r="1.9"/><circle cx="1984.6" cy="300.7" r="1.9"/><circle cx="1985.5" cy="347.9" r="1.9"/><circle cx="1993.7" cy="260.2" r="1.9"/><circle cx="1991.6" cy="306.7" r="1.9"/><circle cx="1984.7" cy="287.5" r="1.9"/><circle cx="1983.4" cy="318.0" r="1.9"/><circle cx="1985.0" cy="239.9" r="1.9"/><circle cx="1986.0" cy="257.3" r="1.9"/><circle cx="1983.1" cy="290.0" r="1.9"/><circle cx="1988.6" cy="340.3" r="1.9"/><circle cx="1991.4" cy="261.3" r="1.9"/><circle cx="1991.6" cy="313.8" r="1.9"/><circle cx="1986.0" cy="208.1" r="1.9"/><circle cx="1982.0" cy="192.3" r="1.9"/><circle cx="1987.2" cy="277.4" r="1.9"/><circle cx="1992.9" cy="271.3" r="1.9"/><circle cx="1981.9" cy="299.5" r="1.9"/><circle cx="1986.6" cy="258.7" r="1.9"/><circle cx="1987.1" cy="243.3" r="1.9"/><circle cx="1993.9" cy="316.7" r="1.9"/><circle cx="1991.3" cy="265.3" r="1.9"/><circle cx="1982.5" cy="235.3" r="1.9"/><circle cx="1990.6" cy="325.8" r="1.9"/><circle cx="1989.4" cy="282.7" r="1.9"/><circle cx="1980.0" cy="306.1" r="1.9"/><circle cx="1981.5" cy="221.1" r="1.9"/><circle cx="1980.6" cy="216.9" r="1.9"/><circle cx="1979.8" cy="365.6" r="1.9"/><circle cx="1983.0" cy="266.8" r="1.9"/><circle cx="1983.0" cy="280.0" r="1.9"/><circle cx="1984.9" cy="305.8" r="1.9"/><circle cx="1980.8" cy="353.0" r="1.9"/><circle cx="1984.3" cy="264.4" r="1.9"/><circle cx="1991.5" cy="286.7" r="1.9"/><circle cx="1979.6" cy="329.4" r="1.9"/><circle cx="1993.9" cy="331.4" r="1.9"/><circle cx="1980.2" cy="302.8" r="1.9"/><circle cx="1986.1" cy="179.0" r="1.9"/><circle cx="1992.3" cy="311.9" r="1.9"/><circle cx="1985.5" cy="300.1" r="1.9"/><circle cx="1989.6" cy="331.2" r="1.9"/><circle cx="1988.2" cy="241.6" r="1.9"/><circle cx="1992.8" cy="282.2" r="1.9"/><circle cx="1993.1" cy="276.1" r="1.9"/><circle cx="1989.0" cy="317.4" r="1.9"/><circle cx="1986.5" cy="205.0" r="1.9"/><circle cx="1990.4" cy="273.8" r="1.9"/><circle cx="1989.3" cy="321.4" r="1.9"/><circle cx="1979.4" cy="224.4" r="1.9"/><circle cx="1988.6" cy="303.0" r="1.9"/><circle cx="1989.7" cy="299.1" r="1.9"/><circle cx="1983.9" cy="312.4" r="1.9"/><circle cx="1980.8" cy="208.9" r="1.9"/><circle cx="1994.0" cy="317.4" r="1.9"/><circle cx="1984.9" cy="287.6" r="1.9"/><circle cx="1987.0" cy="276.9" r="1.9"/><circle cx="1987.4" cy="299.0" r="1.9"/><circle cx="1985.1" cy="315.9" r="1.9"/><circle cx="1994.5" cy="301.1" r="1.9"/><circle cx="1992.3" cy="309.5" r="1.9"/><circle cx="1983.5" cy="311.7" r="1.9"/><circle cx="1986.2" cy="265.5" r="1.9"/><circle cx="1986.0" cy="321.4" r="1.9"/><circle cx="1981.4" cy="324.4" r="1.9"/><circle cx="1994.0" cy="244.3" r="1.9"/><circle cx="1988.0" cy="322.8" r="1.9"/><circle cx="1986.1" cy="297.2" r="1.9"/><circle cx="1988.4" cy="325.6" r="1.9"/><circle cx="1993.8" cy="263.2" r="1.9"/><circle cx="1990.5" cy="273.9" r="1.9"/><circle cx="1981.0" cy="276.3" r="1.9"/><circle cx="1981.4" cy="296.8" r="1.9"/><circle cx="1980.4" cy="266.7" r="1.9"/><circle cx="1981.2" cy="280.9" r="1.9"/><circle cx="1983.0" cy="331.7" r="1.9"/><circle cx="1979.8" cy="291.3" r="1.9"/><circle cx="1994.1" cy="318.1" r="1.9"/></g>
<line x1="1987.0" y1="186.5" x2="1987.0" y2="264.1" stroke="#3a2020" stroke-width="1.1"/>
<line x1="1987.0" y1="316.6" x2="1987.0" y2="377.8" stroke="#3a2020" stroke-width="1.1"/>
<path d="M1979.3,264.1 L1994.7,264.1 L1994.7,288.1 L1990.8,296.5 L1994.7,304.9 L1994.7,316.6 L1979.3,316.6 L1979.3,304.9 L1983.2,296.5 L1979.3,288.1 Z" fill="#f8907f" fill-opacity="0.35" stroke="#3a2020" stroke-width="1.1"/>
<line x1="1983.2" y1="296.5" x2="1990.8" y2="296.5" stroke="#3a2020" stroke-width="1.1"/>
<path d="M2044.4,272.0 L2045.4,272.0 L2045.4,274.2 L2045.4,276.3 L2045.4,278.5 L2045.4,280.7 L2045.4,282.9 L2045.4,285.0 L2045.4,287.2 L2045.4,289.4 L2045.4,291.6 L2045.4,293.7 L2045.4,295.9 L2045.4,298.1 L2045.4,300.2 L2045.4,302.4 L2045.4,304.6 L2045.4,306.8 L2045.5,308.9 L2045.7,311.1 L2045.9,313.3 L2046.1,315.4 L2046.3,317.6 L2046.5,319.8 L2046.8,322.0 L2047.0,324.1 L2047.3,326.3 L2047.6,328.5 L2048.0,330.7 L2048.3,332.8 L2048.7,335.0 L2049.1,337.2 L2049.5,339.3 L2049.9,341.5 L2050.3,343.7 L2050.8,345.9 L2051.2,348.0 L2051.7,350.2 L2052.1,352.4 L2052.6,354.6 L2053.0,356.7 L2053.4,358.9 L2053.8,361.1 L2054.2,363.2 L2054.6,365.4 L2054.9,367.6 L2055.2,369.8 L2055.5,371.9 L2055.7,374.1 L2055.9,376.3 L2056.1,378.5 L2056.2,380.6 L2056.3,382.8 L2056.3,385.0 L2056.3,387.1 L2056.2,389.3 L2056.0,391.5 L2055.8,393.7 L2055.5,395.8 L2055.2,398.0 L2054.9,400.2 L2054.5,402.4 L2054.0,404.5 L2053.6,406.7 L2053.1,408.9 L2052.6,411.0 L2052.0,413.2 L2051.5,415.4 L2051.0,417.6 L2050.5,419.7 L2050.0,421.9 L2049.5,424.1 L2049.0,426.2 L2048.6,428.4 L2048.1,430.6 L2047.8,432.8 L2047.4,434.9 L2047.0,437.1 L2046.7,439.3 L2046.4,441.5 L2046.2,443.6 L2045.9,445.8 L2044.4,445.8 Z" fill="#c9cbe3" stroke="#c9cbe3" stroke-width="0.6"/>
<g fill="#b4b4d6" fill-opacity="0.5"><circle cx="2033.9" cy="273.0" r="1.9"/><circle cx="2037.0" cy="444.8" r="1.9"/><circle cx="2028.4" cy="405.9" r="1.9"/><circle cx="2038.9" cy="349.9" r="1.9"/><circle cx="2030.4" cy="393.0" r="1.9"/><circle cx="2036.8" cy="387.9" r="1.9"/><circle cx="2037.7" cy="387.8" r="1.9"/><circle cx="2035.3" cy="377.5" r="1.9"/><circle cx="2035.5" cy="364.4" r="1.9"/><circle cx="2033.4" cy="345.1" r="1.9"/><circle cx="2031.8" cy="402.4" r="1.9"/><circle cx="2043.2" cy="441.4" r="1.9"/><circle cx="2040.4" cy="317.5" r="1.9"/><circle cx="2043.4" cy="359.9" r="1.9"/><circle cx="2036.3" cy="341.6" r="1.9"/><circle cx="2030.2" cy="378.7" r="1.9"/><circle cx="2030.5" cy="395.8" r="1.9"/><circle cx="2028.9" cy="398.1" r="1.9"/><circle cx="2035.0" cy="361.4" r="1.9"/><circle cx="2028.1" cy="346.3" r="1.9"/><circle cx="2033.7" cy="380.5" r="1.9"/><circle cx="2038.5" cy="390.1" r="1.9"/><circle cx="2033.8" cy="425.4" r="1.9"/><circle cx="2030.4" cy="352.2" r="1.9"/><circle cx="2039.8" cy="274.2" r="1.9"/></g>
<line x1="2035.4" y1="333.3" x2="2035.4" y2="362.2" stroke="#333344" stroke-width="1.1"/>
<line x1="2035.4" y1="404.9" x2="2035.4" y2="445.8" stroke="#333344" stroke-width="1.1"/>
<path d="M2027.7,362.2 L2043.1,362.2 L2043.1,368.5 L2039.2,381.3 L2043.1,394.1 L2043.1,404.9 L2027.7,404.9 L2027.7,394.1 L2031.6,381.3 L2027.7,368.5 Z" fill="#c9cbe3" fill-opacity="0.35" stroke="#333344" stroke-width="1.1"/>
<line x1="2031.6" y1="381.3" x2="2039.2" y2="381.3" stroke="#333344" stroke-width="1.1"/>
<path d="M2094.0,342.7 L2095.5,342.7 L2095.6,343.9 L2095.8,345.0 L2096.0,346.2 L2096.2,347.3 L2096.4,348.5 L2096.7,349.6 L2096.9,350.8 L2097.2,351.9 L2097.5,353.1 L2097.8,354.2 L2098.2,355.4 L2098.5,356.5 L2098.9,357.7 L2099.3,358.9 L2099.7,360.0 L2100.2,361.2 L2100.6,362.3 L2101.1,363.5 L2101.6,364.6 L2102.2,365.8 L2102.7,366.9 L2103.2,368.1 L2103.8,369.2 L2104.4,370.4 L2105.0,371.5 L2105.6,372.7 L2106.2,373.9 L2106.8,375.0 L2107.4,376.2 L2108.0,377.3 L2108.7,378.5 L2109.3,379.6 L2109.9,380.8 L2110.4,381.9 L2111.0,383.1 L2111.6,384.2 L2112.1,385.4 L2112.6,386.5 L2113.1,387.7 L2113.5,388.9 L2114.0,390.0 L2114.4,391.2 L2114.7,392.3 L2115.0,393.5 L2115.3,394.6 L2115.5,395.8 L2115.7,396.9 L2115.9,398.1 L2115.9,399.2 L2116.0,400.4 L2116.0,401.5 L2115.9,402.7 L2115.6,403.8 L2115.2,405.0 L2114.7,406.2 L2114.1,407.3 L2113.4,408.5 L2112.7,409.6 L2111.8,410.8 L2110.9,411.9 L2109.9,413.1 L2108.9,414.2 L2107.9,415.4 L2106.9,416.5 L2105.8,417.7 L2104.8,418.8 L2103.9,420.0 L2102.9,421.2 L2102.0,422.3 L2101.2,423.5 L2100.4,424.6 L2099.6,425.8 L2098.9,426.9 L2098.3,428.1 L2097.7,429.2 L2097.2,430.4 L2096.8,431.5 L2096.4,432.7 L2096.0,433.8 L2095.7,435.0 L2094.0,435.0 Z" fill="#8581c4" stroke="#7470b4" stroke-width="0.6"/>
<g fill="#8f8cc6" fill-opacity="0.5"><circle cx="2092.3" cy="343.7" r="1.9"/><circle cx="2083.8" cy="434.0" r="1.9"/><circle cx="2088.3" cy="408.0" r="1.9"/><circle cx="2089.7" cy="345.8" r="1.9"/><circle cx="2089.0" cy="408.6" r="1.9"/><circle cx="2082.3" cy="397.7" r="1.9"/><circle cx="2089.9" cy="427.8" r="1.9"/><circle cx="2078.9" cy="373.1" r="1.9"/><circle cx="2081.8" cy="372.3" r="1.9"/><circle cx="2087.9" cy="378.0" r="1.9"/><circle cx="2081.7" cy="391.5" r="1.9"/><circle cx="2080.7" cy="409.3" r="1.9"/><circle cx="2083.4" cy="394.6" r="1.9"/><circle cx="2090.2" cy="394.6" r="1.9"/><circle cx="2091.8" cy="394.5" r="1.9"/><circle cx="2076.8" cy="379.9" r="1.9"/><circle cx="2085.7" cy="388.8" r="1.9"/><circle cx="2081.0" cy="371.6" r="1.9"/><circle cx="2092.2" cy="416.1" r="1.9"/><circle cx="2090.0" cy="406.0" r="1.9"/><circle cx="2089.4" cy="388.9" r="1.9"/><circle cx="2089.4" cy="362.6" r="1.9"/><circle cx="2080.7" cy="385.5" r="1.9"/><circle cx="2087.7" cy="396.5" r="1.9"/><circle cx="2086.5" cy="353.3" r="1.9"/><circle cx="2089.4" cy="346.6" r="1.9"/><circle cx="2091.2" cy="369.6" r="1.9"/><circle cx="2081.7" cy="395.6" r="1.9"/><circle cx="2086.7" cy="346.2" r="1.9"/><circle cx="2088.8" cy="345.9" r="1.9"/></g>
<line x1="2084.4" y1="342.7" x2="2084.4" y2="375.0" stroke="#2a2a44" stroke-width="1.1"/>
<line x1="2084.4" y1="404.9" x2="2084.4" y2="435.0" stroke="#2a2a44" stroke-width="1.1"/>
<path d="M2076.7,375.0 L2092.1,375.0 L2092.1,385.5 L2088.2,394.5 L2092.1,403.5 L2092.1,404.9 L2076.7,404.9 L2076.7,403.5 L2080.6,394.5 L2076.7,385.5 Z" fill="#8581c4" fill-opacity="0.35" stroke="#2a2a44" stroke-width="1.1"/>
<line x1="2080.6" y1="394.5" x2="2088.2" y2="394.5" stroke="#2a2a44" stroke-width="1.1"/>
<circle cx="2080.5" cy="342.0" r="4.2" fill="#db88ca"/>
<path d="M2142.7,198.3 L2144.5,198.3 L2144.5,201.1 L2144.5,203.9 L2144.5,206.7 L2144.5,209.5 L2144.5,212.3 L2144.5,215.1 L2144.5,217.9 L2144.5,220.7 L2144.5,223.5 L2144.5,226.3 L2144.5,229.1 L2144.5,231.9 L2144.5,234.7 L2144.5,237.5 L2144.5,240.3 L2144.5,243.1 L2144.5,245.9 L2144.5,248.7 L2144.5,251.5 L2144.5,254.3 L2144.5,257.1 L2144.5,259.9 L2144.5,262.7 L2144.5,265.5 L2144.5,268.3 L2144.5,271.1 L2144.5,273.9 L2144.5,276.7 L2144.5,279.5 L2144.5,282.3 L2144.5,285.1 L2144.5,287.9 L2144.5,290.7 L2144.5,293.5 L2144.5,296.3 L2144.5,299.1 L2144.5,301.9 L2144.5,304.7 L2144.5,307.5 L2144.5,310.4 L2144.5,313.2 L2144.5,316.0 L2144.5,318.8 L2144.5,321.6 L2144.5,324.4 L2144.5,327.2 L2144.5,330.0 L2144.5,332.8 L2144.6,335.6 L2145.1,338.4 L2145.5,341.2 L2146.1,344.0 L2146.7,346.8 L2147.4,349.6 L2148.2,352.4 L2149.1,355.2 L2150.0,358.0 L2151.0,360.8 L2152.0,363.6 L2153.1,366.4 L2154.2,369.2 L2155.3,372.0 L2156.4,374.8 L2157.4,377.6 L2158.4,380.4 L2159.4,383.2 L2160.2,386.0 L2160.9,388.8 L2161.4,391.6 L2161.9,394.4 L2162.1,397.2 L2162.2,400.0 L2162.1,402.8 L2161.9,405.6 L2161.5,408.4 L2160.9,411.2 L2160.2,414.0 L2159.4,416.8 L2158.5,419.6 L2157.5,422.4 L2142.7,422.4 Z" fill="#6a52aa" stroke="#3a3683" stroke-width="0.9"/>
<g fill="#8a7ab8" fill-opacity="0.5"><circle cx="2132.3" cy="199.3" r="1.9"/><circle cx="2132.6" cy="421.4" r="1.9"/><circle cx="2127.0" cy="409.0" r="1.9"/><circle cx="2129.2" cy="346.2" r="1.9"/><circle cx="2127.2" cy="341.8" r="1.9"/><circle cx="2130.5" cy="383.0" r="1.9"/><circle cx="2132.3" cy="198.8" r="1.9"/><circle cx="2128.0" cy="414.1" r="1.9"/><circle cx="2126.4" cy="409.3" r="1.9"/><circle cx="2132.9" cy="394.7" r="1.9"/><circle cx="2131.8" cy="406.0" r="1.9"/><circle cx="2134.6" cy="417.2" r="1.9"/><circle cx="2133.1" cy="378.8" r="1.9"/><circle cx="2133.3" cy="402.2" r="1.9"/><circle cx="2141.1" cy="401.8" r="1.9"/><circle cx="2125.4" cy="379.5" r="1.9"/><circle cx="2132.0" cy="373.2" r="1.9"/><circle cx="2140.7" cy="415.4" r="1.9"/><circle cx="2134.5" cy="413.3" r="1.9"/><circle cx="2129.4" cy="380.6" r="1.9"/><circle cx="2133.9" cy="371.4" r="1.9"/><circle cx="2131.7" cy="400.4" r="1.9"/><circle cx="2138.0" cy="388.4" r="1.9"/><circle cx="2134.8" cy="370.8" r="1.9"/><circle cx="2137.3" cy="422.1" r="1.9"/><circle cx="2135.8" cy="391.8" r="1.9"/><circle cx="2138.4" cy="405.5" r="1.9"/><circle cx="2134.4" cy="408.2" r="1.9"/><circle cx="2137.4" cy="398.1" r="1.9"/><circle cx="2133.9" cy="365.7" r="1.9"/></g>
<line x1="2133.2" y1="335.8" x2="2133.2" y2="371.9" stroke="#2a2440" stroke-width="1.1"/>
<line x1="2133.2" y1="406.5" x2="2133.2" y2="422.4" stroke="#2a2440" stroke-width="1.1"/>
<path d="M2125.5,371.9 L2140.9,371.9 L2140.9,384.1 L2137.0,394.5 L2140.9,404.9 L2140.9,406.5 L2125.5,406.5 L2125.5,404.9 L2129.3,394.5 L2125.5,384.1 Z" fill="#6a52aa" fill-opacity="0.35" stroke="#2a2440" stroke-width="1.1"/>
<line x1="2129.3" y1="394.5" x2="2137.0" y2="394.5" stroke="#2a2440" stroke-width="1.1"/>
<path d="M1938.1,98.2 L1938.1,90.9 L2082.9,90.9 L2082.9,98.2 M1889.0,98.2 L1986.9,98.2 M2024.2,98.2 L2132.7,98.2" fill="none" stroke="#484848" stroke-width="1.1"/>
<text transform="translate(2010.7,78.4) scale(1,0.85)" x="0" y="15.0" font-size="27.5" stroke="#111" stroke-width="0.45" text-anchor="middle" fill="#111">***</text>
<path d="M1840.3,132.3 L1840.3,124.2 L1938.1,124.2 L1938.1,132.3 M1889.0,132.3 L1986.9,132.3" fill="none" stroke="#484848" stroke-width="1.1"/>
<text transform="translate(1889.0,111.4) scale(1,0.85)" x="0" y="15.0" font-size="27.5" stroke="#111" stroke-width="0.45" text-anchor="middle" fill="#111">***</text>
<path d="M1892.3,161.6 L1892.3,154.3 L1986.9,154.3 L1986.9,161.6" fill="none" stroke="#484848" stroke-width="1.1"/>
<text transform="translate(1939.2,141.5) scale(1,0.85)" x="0" y="15.0" font-size="27.5" stroke="#111" stroke-width="0.45" text-anchor="middle" fill="#111">***</text>
<path d="M1892.3,190.9 L1892.3,183.6 L1938.1,183.6 L1938.1,190.9" fill="none" stroke="#484848" stroke-width="1.1"/>
<text transform="translate(1914.7,170.8) scale(1,0.85)" x="0" y="15.0" font-size="27.5" stroke="#111" stroke-width="0.45" text-anchor="middle" fill="#111">*</text>
</svg>
</body></html>
